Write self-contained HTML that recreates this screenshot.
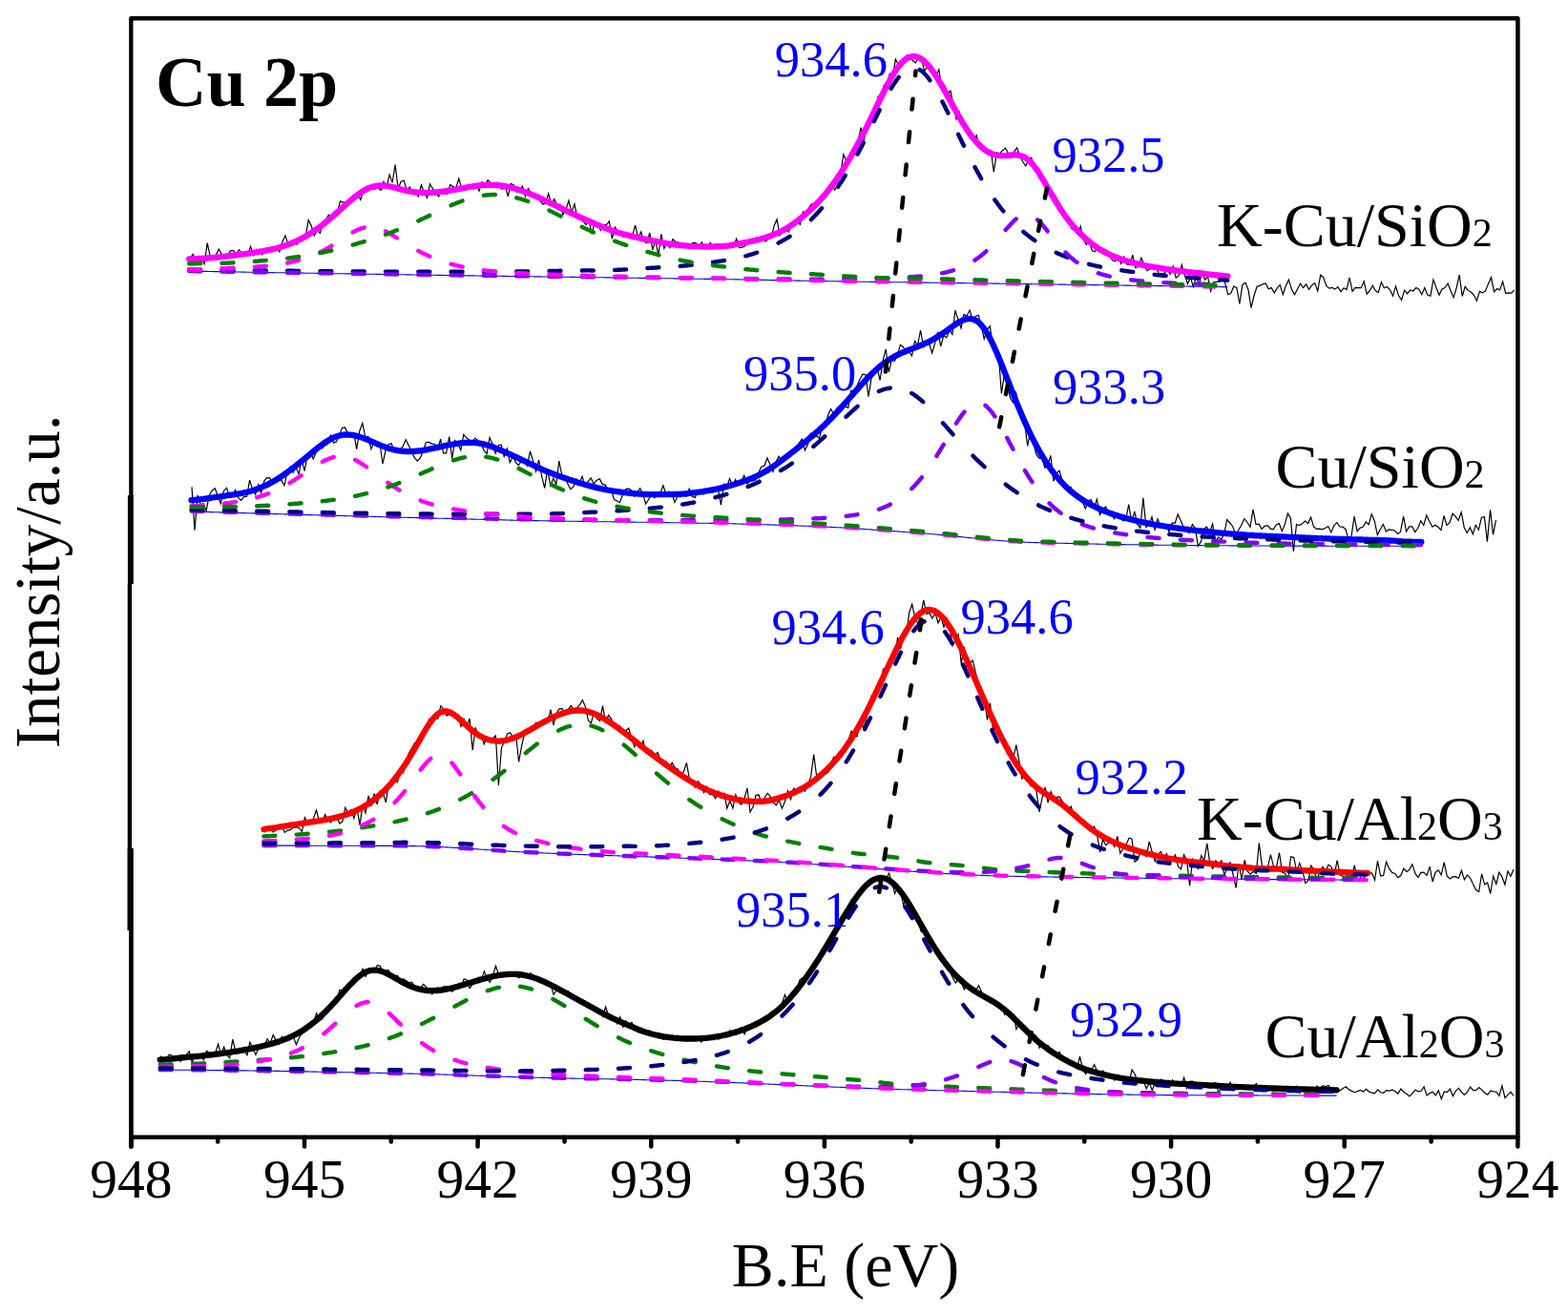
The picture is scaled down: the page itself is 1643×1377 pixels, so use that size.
<!DOCTYPE html>
<html><head><meta charset="utf-8"><style>html,body{margin:0;padding:0;background:#fff;overflow:hidden}svg{display:block}</style></head><body>
<svg width="1643" height="1377" viewBox="0 0 1643 1377">
<rect width="100%" height="100%" fill="#fff"/>
<g fill="none" stroke="#000" stroke-width="4.5" stroke-linecap="round" stroke-linejoin="round">
<path d="M137.4,19.3 L1590.4,19.3 L1590.4,1191.7 L137.4,1191.7"/>
<line x1="137.4" y1="1191.7" x2="137.4" y2="1201.5"/>
<line x1="319" y1="1191.7" x2="319" y2="1201.5"/>
<line x1="500.6" y1="1191.7" x2="500.6" y2="1201.5"/>
<line x1="682.3" y1="1191.7" x2="682.3" y2="1201.5"/>
<line x1="863.9" y1="1191.7" x2="863.9" y2="1201.5"/>
<line x1="1045.5" y1="1191.7" x2="1045.5" y2="1201.5"/>
<line x1="1227.1" y1="1191.7" x2="1227.1" y2="1201.5"/>
<line x1="1408.7" y1="1191.7" x2="1408.7" y2="1201.5"/>
<line x1="1590.4" y1="1191.7" x2="1590.4" y2="1201.5"/>
<line x1="228.2" y1="1191.7" x2="228.2" y2="1196.5"/>
<line x1="409.8" y1="1191.7" x2="409.8" y2="1196.5"/>
<line x1="591.5" y1="1191.7" x2="591.5" y2="1196.5"/>
<line x1="773.1" y1="1191.7" x2="773.1" y2="1196.5"/>
<line x1="954.7" y1="1191.7" x2="954.7" y2="1196.5"/>
<line x1="1136.3" y1="1191.7" x2="1136.3" y2="1196.5"/>
<line x1="1317.9" y1="1191.7" x2="1317.9" y2="1196.5"/>
<line x1="1499.6" y1="1191.7" x2="1499.6" y2="1196.5"/>
</g>
<rect x="135.20" y="19.3" width="4.3" height="499.7" fill="#000"/>
<rect x="133.90" y="519" width="5.9" height="93.0" fill="#000"/>
<rect x="133.70" y="612" width="4.4" height="277.0" fill="#000"/>
<rect x="133.50" y="889" width="6.3" height="86.0" fill="#000"/>
<rect x="135.10" y="975" width="4.7" height="226.5" fill="#000"/>
<circle cx="137.45" cy="1201.5" r="2.35" fill="#000"/>
<polyline points="199,271.5 202,266.5 205.1,271.3 208.1,268.6 211.1,271.5 214.2,276.6 217.2,254.7 220.2,268.3 223.2,270.7 226.3,267.2 229.3,261 232.3,266.6 235.4,268.7 238.4,268 241.4,262.7 244.5,262.5 247.5,265.8 250.5,261.7 253.5,265.8 256.6,268 259.6,266.8 262.6,258.4 265.7,267.5 268.7,261.4 271.7,261.6 274.8,266.8 277.8,262 280.8,260.9 283.8,260 286.9,259.4 289.9,259.9 292.9,264 296,253.2 299,246.9 302,256.6 305.1,252.5 308.1,252.9 311.1,256.2 314.1,251.2 317.2,246.6 320.2,248.2 323.2,230.7 326.3,236.8 329.3,246.9 332.3,241.1 335.4,244.3 338.4,234.1 341.4,230.3 344.4,225.2 347.5,227.3 350.5,221.5 353.5,222.5 356.6,210.9 359.6,212.1 362.6,212.1 365.7,210.3 368.7,212.3 371.7,203.6 374.7,203 377.8,209.4 380.8,199.8 383.8,201.5 386.9,197 389.9,198.1 392.9,198.2 396,196.5 399,199.5 402,190.4 405,197 408.1,183.1 411.1,191.4 414.1,172.6 417.2,197.8 420.2,190.3 423.2,189.2 426.3,199.7 429.3,195.9 432.3,202.3 435.3,202.2 438.4,205.9 441.4,194 444.4,201.6 447.5,207.2 450.5,192.8 453.5,197.9 456.6,201.9 459.6,206 462.6,200.6 465.6,202.8 468.7,203.1 471.7,193.5 474.7,195.6 477.8,196.9 480.8,187.2 483.8,198 486.9,196.3 489.9,196.3 492.9,194.5 495.9,198.1 499,193.6 502,200 505,190.7 508.1,196.1 511.1,188.7 514.1,191.8 517.2,195 520.2,191.2 523.2,195.9 526.2,198.2 529.3,195.2 532.3,205.9 535.3,192.3 538.4,194 541.4,201.2 544.4,200.5 547.5,195 550.5,206 553.5,197.6 556.5,202.8 559.6,203.5 562.6,205.9 565.6,210.2 568.7,214 571.7,213.4 574.7,202.8 577.8,214.7 580.8,208.7 583.8,214.9 586.8,214.2 589.9,225.1 592.9,219.9 595.9,210.3 599,222.7 602,213.9 605,228.4 608.1,229.4 611.1,232.2 614.1,235.4 617.1,229.8 620.2,245.4 623.2,231.7 626.2,234.5 629.3,241.3 632.3,235.5 635.3,235.9 638.4,232 641.4,250.1 644.4,238.1 647.4,242.1 650.5,246.4 653.5,248.2 656.5,245.8 659.6,247.1 662.6,247.3 665.6,235.9 668.7,249.4 671.7,243 674.7,252.8 677.7,254.7 680.8,244 683.8,261.8 686.8,252.7 689.9,267.2 692.9,245.4 695.9,260.3 699,254.1 702,259.5 705,250.6 708,253.7 711.1,254.2 714.1,255.4 717.1,256.7 720.2,257.6 723.2,257.1 726.2,254.3 729.3,254.5 732.3,259.6 735.3,253.8 738.3,259.6 741.4,259.1 744.4,254.3 747.4,259.2 750.5,255.7 753.5,255.8 756.5,259.1 759.6,256.2 762.6,259.5 765.6,259.3 768.6,258.9 771.7,250.2 774.7,259.5 777.7,259.2 780.8,257.7 783.8,251.7 786.8,253.6 789.9,251.7 792.9,248.9 795.9,251.1 798.9,249.7 802,253.2 805,250.5 808,249.6 811.1,236.8 814.1,229.9 817.1,246.5 820.2,241.4 823.2,239.3 826.2,243.2 829.2,237 832.3,233.7 835.3,230.8 838.3,235.3 841.4,222 844.4,226.6 847.4,217.8 850.5,213.8 853.5,218.4 856.5,211.9 859.5,205.8 862.6,208.7 865.6,202.7 868.6,199.3 871.7,193.3 874.7,199.2 877.7,193.3 880.8,182 883.8,161.9 886.8,168.3 889.8,170.1 892.9,157 895.9,161.5 898.9,149 902,133.6 905,147.5 908,135 911.1,126.1 914.1,124.7 917.1,121 920.1,101.1 923.2,103.6 926.2,89.3 929.2,88 932.3,77.4 935.3,81.7 938.3,62.1 941.4,67.7 944.4,69.5 947.4,62.7 950.4,57.9 953.5,59.6 956.5,63.7 959.5,65.9 962.6,58.9 965.6,61.3 968.6,74.9 971.7,69.2 974.7,70.3 977.7,75.5 980.7,80.1 983.8,72.8 986.8,92.2 989.8,89.6 992.9,98.1 995.9,95.2 998.9,109 1002,124.8 1005,117.2 1008,130 1011,131.7 1014.1,136.5 1017.1,144.1 1020.1,147 1023.2,141.9 1026.2,153.9 1029.2,155.8 1032.3,156 1035.3,159.8 1038.3,157.5 1041.3,180.2 1044.4,159.8 1047.4,160.8 1050.4,157.9 1053.5,155.3 1056.5,160.7 1059.5,165.4 1062.6,159.1 1065.6,154.9 1068.6,163.5 1071.6,169.3 1074.7,174 1077.7,167.4 1080.7,165.3 1083.8,174.4 1086.8,179.6 1089.8,185.2 1092.9,189.2 1095.9,189 1098.9,202.7 1101.9,202.7 1105,203.9 1108,209.2 1111,214.3 1114.1,225.8 1117.1,226.8 1120.1,231.8 1123.2,240.1 1126.2,239.8 1129.2,245.3 1132.2,237.2 1135.3,250.9 1138.3,256.3 1141.3,252.6 1144.4,262.7 1147.4,263.8 1150.4,258.8 1153.5,260.2 1156.5,261.1 1159.5,262.3 1162.5,266.9 1165.6,272.7 1168.6,273.7 1171.6,267.7 1174.7,276.4 1177.7,269.1 1180.7,277 1183.8,277.5 1186.8,267.1 1189.8,280.7 1192.8,279.2 1195.9,270.2 1198.9,277.5 1201.9,283.7 1205,282 1208,280.1 1211,279.5 1214.1,286.4 1217.1,286.5 1220.1,286.3 1223.1,282.8 1226.2,287.4 1229.2,279.1 1232.2,291.1 1235.3,288.7 1238.3,277.5 1241.3,288.4 1244.4,297.3 1247.4,290.9 1250.4,300.4 1253.4,290 1256.5,298.1 1259.5,284.7 1262.5,293.2 1265.6,290.1 1268.6,305.2 1271.6,295.9 1274.7,295.4 1277.7,295.4 1280.7,287.3 1283.7,296.8 1286.8,308.7 1289.8,307.3 1292.8,300 1295.9,301.6 1298.9,318.5 1301.9,298.4 1305,296.1 1308,303.7 1311,322.7 1314,310 1317.1,300.2 1320.1,299.4 1323.1,297.8 1326.2,297 1329.2,302.7 1332.2,301.6 1335.3,307 1338.3,301.6 1341.3,298.6 1344.3,308.7 1347.4,299.2 1350.4,293.2 1353.4,303.1 1356.5,308.8 1359.5,303 1362.5,297.1 1365.6,301.5 1368.6,297.8 1371.6,303.3 1374.6,298.9 1377.7,296.6 1380.7,304.9 1383.7,288.1 1386.8,290.8 1389.8,299.7 1392.8,302.2 1395.9,301.3 1398.9,303.1 1401.9,300.7 1404.9,305.6 1408,301.8 1411,303.6 1414,290.8 1417.1,305.4 1420.1,301.4 1423.1,301.7 1426.2,301.7 1429.2,294.8 1432.2,308.2 1435.2,304.7 1438.3,299.3 1441.3,304.8 1444.3,306.3 1447.4,295.7 1450.4,301.8 1453.4,300.5 1456.5,303.8 1459.5,310.1 1462.5,300 1465.5,309.8 1468.6,314.3 1471.6,304.2 1474.6,307.7 1477.7,304 1480.7,305 1483.7,301.5 1486.8,303.1 1489.8,308.7 1492.8,301.6 1495.8,309.1 1498.9,310.2 1501.9,293.1 1504.9,301.3 1508,309.3 1511,303 1514,301.5 1517.1,297 1520.1,304.7 1523.1,311.8 1526.1,301.9 1529.2,288 1532.2,310.5 1535.2,300.3 1538.3,304.4 1541.3,306.1 1544.3,309.1 1547.4,315.2 1550.4,305.4 1553.4,306.9 1556.4,304.9 1559.5,297.6 1562.5,290.8 1565.5,305.7 1568.6,302.5 1571.6,303.9 1574.6,295.1 1577.7,307.5 1580.7,306.9 1583.7,307.2 1586.7,303.8" fill="none" stroke="#000" stroke-width="1.2" stroke-linejoin="miter"/>
<polyline points="198.2,284.1 200.2,284.2 202.2,284.2 204.2,284.2 206.2,284.3 208.2,284.3 210.2,284.3 212.2,284.4 214.2,284.4 216.2,284.4 218.2,284.5 220.2,284.5 222.2,284.5 224.2,284.6 226.2,284.6 228.2,284.6 230.2,284.7 232.2,284.7 234.2,284.7 236.2,284.8 238.2,284.8 240.2,284.8 242.2,284.9 244.2,284.9 246.2,284.9 248.2,285 250.2,285 252.2,285 254.2,285.1 256.2,285.1 258.2,285.2 260.2,285.2 262.2,285.2 264.2,285.3 266.2,285.3 268.2,285.3 270.2,285.4 272.2,285.4 274.2,285.4 276.2,285.5 278.2,285.5 280.2,285.5 282.2,285.6 284.2,285.6 286.2,285.6 288.2,285.7 290.2,285.7 292.2,285.7 294.2,285.7 296.2,285.8 298.2,285.8 300.2,285.8 302.2,285.9 304.2,285.9 306.2,285.9 308.2,286 310.2,286 312.2,286 314.2,286.1 316.2,286.1 318.2,286.1 320.2,286.2 322.2,286.2 324.2,286.2 326.2,286.3 328.2,286.3 330.2,286.3 332.2,286.4 334.2,286.4 336.2,286.4 338.2,286.5 340.2,286.5 342.2,286.5 344.2,286.6 346.2,286.6 348.2,286.6 350.2,286.7 352.2,286.7 354.2,286.7 356.2,286.8 358.2,286.8 360.2,286.8 362.2,286.9 364.2,286.9 366.2,286.9 368.2,287 370.2,287 372.2,287 374.2,287.1 376.2,287.1 378.2,287.1 380.2,287.1 382.2,287.2 384.2,287.2 386.2,287.2 388.2,287.3 390.2,287.3 392.2,287.3 394.2,287.4 396.2,287.4 398.2,287.4 400.2,287.5 402.2,287.5 404.2,287.5 406.2,287.6 408.2,287.6 410.2,287.6 412.2,287.7 414.2,287.7 416.2,287.7 418.2,287.7 420.2,287.8 422.2,287.8 424.2,287.8 426.2,287.9 428.2,287.9 430.2,287.9 432.2,288 434.2,288 436.2,288 438.2,288.1 440.2,288.1 442.2,288.1 444.2,288.2 446.2,288.2 448.2,288.2 450.2,288.2 452.2,288.3 454.2,288.3 456.2,288.3 458.2,288.4 460.2,288.4 462.2,288.4 464.2,288.5 466.2,288.5 468.2,288.5 470.2,288.6 472.2,288.6 474.2,288.6 476.2,288.6 478.2,288.7 480.2,288.7 482.2,288.7 484.2,288.8 486.2,288.8 488.2,288.8 490.2,288.9 492.2,288.9 494.2,288.9 496.2,288.9 498.2,289 500.2,289 502.2,289 504.2,289.1 506.2,289.1 508.2,289.1 510.2,289.1 512.2,289.2 514.2,289.2 516.2,289.2 518.2,289.3 520.2,289.3 522.2,289.3 524.2,289.3 526.2,289.4 528.2,289.4 530.2,289.4 532.2,289.5 534.2,289.5 536.2,289.5 538.2,289.5 540.2,289.6 542.2,289.6 544.2,289.6 546.2,289.7 548.2,289.7 550.2,289.7 552.2,289.7 554.2,289.8 556.2,289.8 558.2,289.8 560.2,289.9 562.2,289.9 564.2,289.9 566.2,289.9 568.2,290 570.2,290 572.2,290 574.2,290 576.2,290.1 578.2,290.1 580.2,290.1 582.2,290.2 584.2,290.2 586.2,290.2 588.2,290.2 590.2,290.3 592.2,290.3 594.2,290.3 596.2,290.3 598.2,290.4 600.2,290.4 602.2,290.4 604.2,290.5 606.2,290.5 608.2,290.5 610.2,290.5 612.2,290.6 614.2,290.6 616.2,290.6 618.2,290.6 620.2,290.7 622.2,290.7 624.2,290.7 626.2,290.8 628.2,290.8 630.2,290.8 632.2,290.8 634.2,290.9 636.2,290.9 638.2,290.9 640.2,290.9 642.2,291 644.2,291 646.2,291 648.2,291.1 650.2,291.1 652.2,291.1 654.2,291.1 656.2,291.2 658.2,291.2 660.2,291.2 662.2,291.2 664.2,291.3 666.2,291.3 668.2,291.3 670.2,291.4 672.2,291.4 674.2,291.4 676.2,291.4 678.2,291.5 680.2,291.5 682.2,291.5 684.2,291.6 686.2,291.6 688.2,291.6 690.2,291.6 692.2,291.7 694.2,291.7 696.2,291.7 698.2,291.8 700.2,291.8 702.2,291.8 704.2,291.8 706.2,291.9 708.2,291.9 710.2,291.9 712.2,292 714.2,292 716.2,292 718.2,292.1 720.2,292.1 722.2,292.1 724.2,292.1 726.2,292.2 728.2,292.2 730.2,292.2 732.2,292.3 734.2,292.3 736.2,292.3 738.2,292.4 740.2,292.4 742.2,292.4 744.2,292.4 746.2,292.5 748.2,292.5 750.2,292.5 752.2,292.6 754.2,292.6 756.2,292.6 758.2,292.7 760.2,292.7 762.2,292.7 764.2,292.8 766.2,292.8 768.2,292.8 770.2,292.9 772.2,292.9 774.2,292.9 776.2,293 778.2,293 780.2,293 782.2,293.1 784.2,293.1 786.2,293.1 788.2,293.2 790.2,293.2 792.2,293.3 794.2,293.3 796.2,293.3 798.2,293.4 800.2,293.4 802.2,293.4 804.2,293.5 806.2,293.5 808.2,293.6 810.2,293.6 812.2,293.6 814.2,293.7 816.2,293.7 818.2,293.7 820.2,293.8 822.2,293.8 824.2,293.9 826.2,293.9 828.2,293.9 830.2,294 832.2,294 834.2,294.1 836.2,294.1 838.2,294.1 840.2,294.2 842.2,294.2 844.2,294.2 846.2,294.3 848.2,294.3 850.2,294.4 852.2,294.4 854.2,294.4 856.2,294.5 858.2,294.5 860.2,294.5 862.2,294.6 864.2,294.6 866.2,294.6 868.2,294.7 870.2,294.7 872.2,294.7 874.2,294.8 876.2,294.8 878.2,294.9 880.2,294.9 882.2,294.9 884.2,295 886.2,295 888.2,295 890.2,295 892.2,295.1 894.2,295.1 896.2,295.1 898.2,295.2 900.2,295.2 902.2,295.2 904.2,295.3 906.2,295.3 908.2,295.3 910.2,295.3 912.2,295.4 914.2,295.4 916.2,295.4 918.2,295.5 920.2,295.5 922.2,295.5 924.2,295.5 926.2,295.6 928.2,295.6 930.2,295.6 932.2,295.6 934.2,295.7 936.2,295.7 938.2,295.7 940.2,295.7 942.2,295.8 944.2,295.8 946.2,295.8 948.2,295.8 950.2,295.9 952.2,295.9 954.2,295.9 956.2,295.9 958.2,296 960.2,296 962.2,296 964.2,296 966.2,296.1 968.2,296.1 970.2,296.1 972.2,296.1 974.2,296.2 976.2,296.2 978.2,296.2 980.2,296.2 982.2,296.3 984.2,296.3 986.2,296.3 988.2,296.3 990.2,296.4 992.2,296.4 994.2,296.4 996.2,296.4 998.2,296.5 1000.2,296.5 1002.2,296.5 1004.2,296.6 1006.2,296.6 1008.2,296.6 1010.2,296.6 1012.2,296.7 1014.2,296.7 1016.2,296.7 1018.2,296.7 1020.2,296.8 1022.2,296.8 1024.2,296.8 1026.2,296.9 1028.2,296.9 1030.2,296.9 1032.2,296.9 1034.2,297 1036.2,297 1038.2,297 1040.2,297.1 1042.2,297.1 1044.2,297.1 1046.2,297.1 1048.2,297.2 1050.2,297.2 1052.2,297.2 1054.2,297.3 1056.2,297.3 1058.2,297.3 1060.2,297.3 1062.2,297.4 1064.2,297.4 1066.2,297.4 1068.2,297.5 1070.2,297.5 1072.2,297.5 1074.2,297.5 1076.2,297.6 1078.2,297.6 1080.2,297.6 1082.2,297.7 1084.2,297.7 1086.2,297.7 1088.2,297.7 1090.2,297.8 1092.2,297.8 1094.2,297.8 1096.2,297.9 1098.2,297.9 1100.2,297.9 1102.2,297.9 1104.2,298 1106.2,298 1108.2,298 1110.2,298.1 1112.2,298.1 1114.2,298.1 1116.2,298.1 1118.2,298.2 1120.2,298.2 1122.2,298.2 1124.2,298.3 1126.2,298.3 1128.2,298.3 1130.2,298.4 1132.2,298.4 1134.2,298.4 1136.2,298.4 1138.2,298.5 1140.2,298.5 1142.2,298.5 1144.2,298.6 1146.2,298.6 1148.2,298.6 1150.2,298.6 1152.2,298.7 1154.2,298.7 1156.2,298.7 1158.2,298.8 1160.2,298.8 1162.2,298.8 1164.2,298.9 1166.2,298.9 1168.2,298.9 1170.2,298.9 1172.2,299 1174.2,299 1176.2,299 1178.2,299.1 1180.2,299.1 1182.2,299.1 1184.2,299.1 1186.2,299.2 1188.2,299.2 1190.2,299.2 1192.2,299.3 1194.2,299.3 1196.2,299.3 1198.2,299.4 1200.2,299.4 1202.2,299.4 1204.2,299.4 1206.2,299.5 1208.2,299.5 1210.2,299.5 1212.2,299.6 1214.2,299.6 1216.2,299.6 1218.2,299.6 1220.2,299.7 1222.2,299.7 1224.2,299.7 1226.2,299.8 1228.2,299.8 1230.2,299.8 1232.2,299.9 1234.2,299.9 1236.2,299.9 1238.2,299.9 1240.2,300 1242.2,300 1244.2,300 1246.2,300.1 1248.2,300.1 1250.2,300.1 1252.2,300.1 1254.2,300.2 1256.2,300.2 1258.2,300.2 1260.2,300.3 1262.2,300.3 1264.2,300.3 1266.2,300.4 1268.2,300.4 1270.2,300.4 1272.2,300.4 1274.2,300.5 1276.2,300.5 1278.2,300.5 1280.2,300.6 1282.2,300.6 1284.2,300.6 1286.2,300.6 1286.3,300.6" fill="none" stroke="#0000FF" stroke-width="1.1"/>
<polyline points="198.2,271.5 200.2,271.4 202.2,271.3 204.2,271.2 206.2,271.1 208.2,271 210.2,270.9 212.2,270.8 214.2,270.6 216.2,270.5 218.2,270.4 220.2,270.2 222.2,270.1 224.2,269.9 226.2,269.7 228.2,269.5 230.2,269.3 232.2,269.1 234.2,268.9 236.2,268.7 238.2,268.5 240.2,268.2 242.2,268 244.2,267.7 246.2,267.5 248.2,267.2 250.2,267 252.2,266.7 254.2,266.4 256.2,266.2 258.2,265.9 260.2,265.6 262.2,265.3 264.2,265 266.2,264.7 268.2,264.4 270.2,264 272.2,263.7 274.2,263.4 276.2,263 278.2,262.6 280.2,262.2 282.2,261.8 284.2,261.4 286.2,260.9 288.2,260.5 290.2,260 292.2,259.4 294.2,258.8 296.2,258.2 298.2,257.6 300.2,256.9 302.2,256.2 304.2,255.4 306.2,254.6 308.2,253.7 310.2,252.9 312.2,251.9 314.2,250.9 316.2,249.9 318.2,248.8 320.2,247.7 322.2,246.5 324.2,245.3 326.2,244 328.2,242.7 330.2,241.3 332.2,239.9 334.2,238.4 336.2,236.9 338.2,235.4 340.2,233.8 342.2,232.2 344.2,230.5 346.2,228.8 348.2,227.1 350.2,225.4 352.2,223.6 354.2,221.8 356.2,220 358.2,218.2 360.2,216.4 362.2,214.6 364.2,212.8 366.2,211.1 368.2,209.4 370.2,207.7 372.2,206 374.2,204.5 376.2,203 378.2,201.6 380.2,200.4 382.2,199.2 384.2,198.1 386.2,197.2 388.2,196.4 390.2,195.8 392.2,195.3 394.2,194.9 396.2,194.6 398.2,194.5 400.2,194.5 402.2,194.6 404.2,194.7 406.2,195 408.2,195.3 410.2,195.8 412.2,196.2 414.2,196.8 416.2,197.3 418.2,197.9 420.2,198.4 422.2,199 424.2,199.5 426.2,199.9 428.2,200.3 430.2,200.7 432.2,201 434.2,201.3 436.2,201.5 438.2,201.7 440.2,201.8 442.2,201.9 444.2,202 446.2,202 448.2,202 450.2,201.9 452.2,201.8 454.2,201.7 456.2,201.5 458.2,201.3 460.2,201.1 462.2,200.9 464.2,200.7 466.2,200.4 468.2,200.1 470.2,199.8 472.2,199.5 474.2,199.2 476.2,198.8 478.2,198.5 480.2,198.1 482.2,197.7 484.2,197.3 486.2,197 488.2,196.6 490.2,196.2 492.2,195.9 494.2,195.5 496.2,195.2 498.2,194.9 500.2,194.6 502.2,194.4 504.2,194.2 506.2,194 508.2,193.9 510.2,193.8 512.2,193.8 514.2,193.8 516.2,193.8 518.2,193.9 520.2,194.1 522.2,194.2 524.2,194.5 526.2,194.7 528.2,195 530.2,195.4 532.2,195.8 534.2,196.2 536.2,196.7 538.2,197.3 540.2,197.8 542.2,198.4 544.2,199.1 546.2,199.7 548.2,200.4 550.2,201.1 552.2,201.9 554.2,202.7 556.2,203.5 558.2,204.3 560.2,205.2 562.2,206 564.2,206.9 566.2,207.8 568.2,208.7 570.2,209.7 572.2,210.6 574.2,211.6 576.2,212.5 578.2,213.5 580.2,214.5 582.2,215.5 584.2,216.4 586.2,217.4 588.2,218.4 590.2,219.3 592.2,220.3 594.2,221.3 596.2,222.2 598.2,223.2 600.2,224.1 602.2,225 604.2,226 606.2,226.9 608.2,227.8 610.2,228.7 612.2,229.6 614.2,230.5 616.2,231.4 618.2,232.2 620.2,233.1 622.2,234 624.2,234.9 626.2,235.7 628.2,236.5 630.2,237.4 632.2,238.2 634.2,239 636.2,239.7 638.2,240.5 640.2,241.2 642.2,241.9 644.2,242.5 646.2,243.2 648.2,243.8 650.2,244.4 652.2,245 654.2,245.5 656.2,246.1 658.2,246.6 660.2,247.1 662.2,247.6 664.2,248.1 666.2,248.5 668.2,249 670.2,249.4 672.2,249.9 674.2,250.3 676.2,250.7 678.2,251.1 680.2,251.6 682.2,252 684.2,252.4 686.2,252.7 688.2,253.1 690.2,253.5 692.2,253.9 694.2,254.3 696.2,254.6 698.2,255 700.2,255.3 702.2,255.6 704.2,256 706.2,256.2 708.2,256.5 710.2,256.7 712.2,257 714.2,257.2 716.2,257.4 718.2,257.5 720.2,257.7 722.2,257.9 724.2,258 726.2,258.1 728.2,258.2 730.2,258.3 732.2,258.4 734.2,258.4 736.2,258.5 738.2,258.5 740.2,258.5 742.2,258.5 744.2,258.5 746.2,258.5 748.2,258.4 750.2,258.4 752.2,258.3 754.2,258.2 756.2,258.1 758.2,257.9 760.2,257.8 762.2,257.6 764.2,257.3 766.2,256.9 768.2,256.5 770.2,256.1 772.2,255.8 774.2,255.4 776.2,255 778.2,254.6 780.2,254.2 782.2,253.9 784.2,253.5 786.2,253 788.2,252.6 790.2,252.2 792.2,251.7 794.2,251.2 796.2,250.7 798.2,250.1 800.2,249.5 802.2,248.9 804.2,248.2 806.2,247.5 808.2,246.8 810.2,246 812.2,245.2 814.2,244.3 816.2,243.4 818.2,242.5 820.2,241.4 822.2,240.4 824.2,239.2 826.2,238 828.2,236.7 830.2,235.3 832.2,233.9 834.2,232.4 836.2,230.9 838.2,229.3 840.2,227.7 842.2,226 844.2,224.3 846.2,222.5 848.2,220.8 850.2,218.9 852.2,217 854.2,215 856.2,213 858.2,210.9 860.2,208.7 862.2,206.4 864.2,204.1 866.2,201.6 868.2,199.1 870.2,196.5 872.2,193.9 874.2,191.1 876.2,188.3 878.2,185.4 880.2,182.4 882.2,179.3 884.2,176.1 886.2,172.9 888.2,169.6 890.2,166.3 892.2,162.8 894.2,159.3 896.2,155.8 898.2,152.1 900.2,148.4 902.2,144.6 904.2,140.8 906.2,136.9 908.2,132.9 910.2,128.9 912.2,124.8 914.2,120.7 916.2,116.6 918.2,112.4 920.2,108.2 922.2,104.1 924.2,100 926.2,95.9 928.2,92 930.2,88.1 932.2,84.4 934.2,80.8 936.2,77.5 938.2,74.3 940.2,71.4 942.2,68.8 944.2,66.4 946.2,64.4 948.2,62.6 950.2,61.2 952.2,60.2 954.2,59.5 956.2,59.1 958.2,59.1 960.2,59.4 962.2,60.1 964.2,61 966.2,62.3 968.2,64 970.2,65.8 972.2,68 974.2,70.4 976.2,73 978.2,75.8 980.2,78.8 982.2,82 984.2,85.3 986.2,88.7 988.2,92.2 990.2,95.8 992.2,99.4 994.2,103 996.2,106.7 998.2,110.3 1000.2,113.9 1002.2,117.5 1004.2,121 1006.2,124.4 1008.2,127.8 1010.2,131 1012.2,134.2 1014.2,137.2 1016.2,140.1 1018.2,142.8 1020.2,145.4 1022.2,147.8 1024.2,150.1 1026.2,152.1 1028.2,154 1030.2,155.7 1032.2,157.3 1034.2,158.6 1036.2,159.8 1038.2,160.7 1040.2,161.5 1042.2,162.2 1044.2,162.6 1046.2,162.9 1048.2,163.1 1050.2,163.1 1052.2,163.1 1054.2,163 1056.2,162.8 1058.2,162.6 1060.2,162.4 1062.2,162.3 1064.2,162.3 1066.2,162.5 1068.2,162.8 1070.2,163.3 1072.2,164.1 1074.2,165.1 1076.2,166.5 1078.2,168.1 1080.2,170.1 1082.2,172.3 1084.2,174.9 1086.2,177.6 1088.2,180.6 1090.2,183.8 1092.2,187.1 1094.2,190.5 1096.2,193.9 1098.2,197.4 1100.2,200.9 1102.2,204.3 1104.2,207.8 1106.2,211.1 1108.2,214.4 1110.2,217.5 1112.2,220.6 1114.2,223.5 1116.2,226.3 1118.2,229 1120.2,231.6 1122.2,234.1 1124.2,236.5 1126.2,238.7 1128.2,240.9 1130.2,243 1132.2,245 1134.2,246.9 1136.2,248.8 1138.2,250.6 1140.2,252.3 1142.2,253.9 1144.2,255.5 1146.2,257 1148.2,258.4 1150.2,259.8 1152.2,261.1 1154.2,262.3 1156.2,263.5 1158.2,264.5 1160.2,265.6 1162.2,266.5 1164.2,267.5 1166.2,268.3 1168.2,269.2 1170.2,270 1172.2,270.7 1174.2,271.4 1176.2,272.1 1178.2,272.8 1180.2,273.4 1182.2,274 1184.2,274.5 1186.2,275.1 1188.2,275.6 1190.2,276.1 1192.2,276.6 1194.2,277 1196.2,277.4 1198.2,277.9 1200.2,278.3 1202.2,278.6 1204.2,279 1206.2,279.4 1208.2,279.7 1210.2,280.1 1212.2,280.4 1214.2,280.7 1216.2,281.1 1218.2,281.4 1220.2,281.7 1222.2,282 1224.2,282.3 1226.2,282.6 1228.2,282.9 1230.2,283.1 1232.2,283.4 1234.2,283.7 1236.2,283.9 1238.2,284.2 1240.2,284.4 1242.2,284.6 1244.2,284.9 1246.2,285.1 1248.2,285.3 1250.2,285.6 1252.2,285.8 1254.2,286 1256.2,286.2 1258.2,286.5 1260.2,286.7 1262.2,286.9 1264.2,287.2 1266.2,287.4 1268.2,287.6 1270.2,287.9 1272.2,288.1 1274.2,288.3 1276.2,288.5 1278.2,288.7 1280.2,288.9 1282.2,289.1 1284.2,289.3 1286.2,289.5 1286.3,289.5" fill="none" stroke="#FF00FF" stroke-width="6.3" stroke-linecap="round" stroke-linejoin="round"/>
<path d="M198.2,282.6L199.2,282.6L200.2,282.6L201.2,282.6L202.2,282.6L203.2,282.6L204.2,282.6L205.2,282.7L206.2,282.7L207.2,282.7L208.2,282.7L209.2,282.7L210.2,282.7M232.5,283L233.2,283L234.2,283L235.2,283L236.2,283.1L237.2,283.1L238.2,283.1L239.2,283.1L240.2,283.1L241.2,283.1L242.2,283.1L243.2,283.1L244.2,283.1L244.5,283.2M266.8,283.4L267.2,283.4L268.2,283.4L269.2,283.4L270.2,283.4L271.2,283.5L272.2,283.5L273.2,283.5L274.2,283.5L275.2,283.5L276.2,283.5L277.2,283.5L278.2,283.5L278.8,283.5M301.1,283.8L301.2,283.8L302.2,283.8L303.2,283.8L304.2,283.8L305.2,283.8L306.2,283.8L307.2,283.8L308.2,283.9L309.2,283.9L310.2,283.9L311.2,283.9L312.2,283.9L313.1,283.9M335.4,284.1L336.2,284.1L337.2,284.1L338.2,284.1L339.2,284.1L340.2,284.2L341.2,284.2L342.2,284.2L343.2,284.2L344.2,284.2L345.2,284.2L346.2,284.2L347.2,284.2L347.4,284.2M369.7,284.4L370.2,284.4L371.2,284.4L372.2,284.4L373.2,284.4L374.2,284.4L375.2,284.4L376.2,284.4L377.2,284.4L378.2,284.4L379.2,284.5L380.2,284.5L381.2,284.5L381.7,284.5M404,284.6L404.2,284.6L405.2,284.6L406.2,284.6L407.2,284.6L408.2,284.6L409.2,284.6L410.2,284.6L411.2,284.6L412.2,284.6L413.2,284.7L414.2,284.7L415.2,284.7L416,284.7M438.3,284.7L439.2,284.8L440.2,284.8L441.2,284.8L442.2,284.8L443.2,284.8L444.2,284.8L445.2,284.8L446.2,284.8L447.2,284.8L448.2,284.8L449.2,284.8L450.2,284.8L450.3,284.8M472.6,284.8L473.2,284.8L474.2,284.8L475.2,284.8L476.2,284.8L477.2,284.8L478.2,284.8L479.2,284.8L480.2,284.8L481.2,284.8L482.2,284.8L483.2,284.8L484.2,284.8L484.6,284.8M506.9,284.7L507.2,284.7L508.2,284.7L509.2,284.7L510.2,284.7L511.2,284.7L512.2,284.7L513.2,284.7L514.2,284.7L515.2,284.7L516.2,284.7L517.2,284.7L518.2,284.7L518.9,284.7M541.2,284.5L541.2,284.5L542.2,284.5L543.2,284.5L544.2,284.5L545.2,284.4L546.2,284.4L547.2,284.4L548.2,284.4L549.2,284.4L550.2,284.4L551.2,284.4L552.2,284.4L553.2,284.4M575.5,284L576.2,284L577.2,284L578.2,284L579.2,284L580.2,284L581.2,283.9L582.2,283.9L583.2,283.9L584.2,283.9L585.2,283.9L586.2,283.8L587.2,283.8L587.5,283.8M609.8,283.5L610.2,283.5L611.2,283.4L612.2,283.4L613.2,283.4L614.2,283.4L615.2,283.4L616.2,283.4L617.2,283.4L618.2,283.4L619.2,283.5L620.2,283.5L621.2,283.5L621.8,283.5M644.1,283L644.2,283L645.2,282.9L646.2,282.9L647.2,282.8L648.2,282.8L649.2,282.7L650.2,282.7L651.2,282.6L652.2,282.6L653.2,282.5L654.2,282.5L655.2,282.4L656.1,282.4M678.4,281.1L679.2,281L680.2,280.9L681.2,280.9L682.2,280.8L683.2,280.8L684.2,280.7L685.2,280.6L686.2,280.6L687.2,280.5L688.2,280.5L689.2,280.4L690.2,280.3L690.4,280.3M712.7,278.9L713.2,278.8L714.2,278.7L715.2,278.6L716.2,278.6L717.2,278.5L718.2,278.4L719.2,278.3L720.2,278.2L721.2,278.1L722.2,278L723.2,277.9L724.2,277.8L724.7,277.7M747,274.8L747.2,274.8L748.2,274.7L749.2,274.5L750.2,274.4L751.2,274.2L752.2,274.1L753.2,273.9L754.2,273.7L755.2,273.6L756.2,273.4L757.2,273.3L758.2,273.1L759,273M781.3,268.3L782.2,268.1L783.2,267.8L784.2,267.5L785.2,267.2L786.2,266.9L787.2,266.6L788.2,266.3L789.2,266L790.2,265.7L791.2,265.3L792.2,265L793.2,264.6L793.3,264.6M815.6,254.6L816.2,254.3L817.2,253.8L818.2,253.2L819.2,252.7L820.2,252.1L821.2,251.6L822.2,251L823.2,250.4L824.2,249.8L825.2,249.2L826.2,248.6L827.2,247.9L827.6,247.7M849.9,230.1L850.2,229.8L851.2,228.8L852.2,227.8L853.2,226.8L854.2,225.8L855.2,224.7L856.2,223.6L857.2,222.6L858.2,221.5L859.2,220.3L860.2,219.2L861.1,218.1M878.1,195.8L878.2,195.6L879.2,194.1L880.2,192.6L881.2,191.1L882.2,189.6L883.2,188L884.2,186.4L885.2,184.8L885.8,183.8M898.6,161.5L899.2,160.4L900.2,158.5L901.2,156.6L902.2,154.7L903.2,152.7L904.2,150.8L904.8,149.5M915.8,127.2L916.2,126.5L917.2,124.4L918.2,122.4L919.2,120.3L920.2,118.3L921.2,116.3L921.7,115.2M933.6,92.9L934.2,91.9L935.2,90.3L936.2,88.7L937.2,87.2L938.2,85.7L939.2,84.3L940.2,82.9L941.2,81.6L941.8,80.9M963.7,73.1L964.2,73.4L965.2,74.1L966.2,74.9L967.2,75.7L968.2,76.7L969.2,77.7L970.2,78.8L971.2,79.9L972.2,81.2L973.2,82.5L974.2,83.8L974.4,84.2M987.4,106.5L988.2,108.1L989.2,110L990.2,112L991.2,114.1L992.2,116.1L993.2,118.1L993.4,118.5M1004.1,140.8L1004.2,141L1005.2,143L1006.2,145.1L1007.2,147.1L1008.2,149.2L1009.2,151.2L1010,152.8M1021.5,175.1L1022.2,176.4L1023.2,178.2L1024.2,180.1L1025.2,181.8L1026.2,183.6L1027.2,185.4L1028.2,187.1M1042.3,209.4L1043.2,210.6L1044.2,212L1045.2,213.3L1046.2,214.7L1047.2,216L1048.2,217.3L1049.2,218.6L1050.2,219.9L1051.2,221.1L1051.4,221.4M1072.4,242.9L1073.2,243.7L1074.2,244.5L1075.2,245.3L1076.2,246.1L1077.2,246.9L1078.2,247.6L1079.2,248.4L1080.2,249.1L1081.2,249.9L1082.2,250.6L1083.2,251.3L1084.2,252L1084.4,252.1M1106.7,264.8L1107.2,265L1108.2,265.5L1109.2,265.9L1110.2,266.3L1111.2,266.8L1112.2,267.2L1113.2,267.6L1114.2,268L1115.2,268.4L1116.2,268.8L1117.2,269.2L1118.2,269.6L1118.7,269.8M1141,276.9L1141.2,277L1142.2,277.2L1143.2,277.4L1144.2,277.7L1145.2,277.9L1146.2,278.2L1147.2,278.4L1148.2,278.6L1149.2,278.8L1150.2,279L1151.2,279.2L1152.2,279.4L1153,279.6M1175.3,283.3L1176.2,283.4L1177.2,283.6L1178.2,283.7L1179.2,283.9L1180.2,284L1181.2,284.2L1182.2,284.3L1183.2,284.5L1184.2,284.6L1185.2,284.7L1186.2,284.9L1187.2,285L1187.3,285M1209.6,287.8L1210.2,287.9L1211.2,288L1212.2,288.1L1213.2,288.2L1214.2,288.3L1215.2,288.4L1216.2,288.5L1217.2,288.6L1218.2,288.7L1219.2,288.8L1220.2,288.9L1221.2,288.9L1221.6,289M1243.9,290.6L1244.2,290.6L1245.2,290.7L1246.2,290.8L1247.2,290.9L1248.2,290.9L1249.2,291L1250.2,291.1L1251.2,291.2L1252.2,291.2L1253.2,291.3L1254.2,291.4L1255.2,291.5L1255.9,291.5M1278.2,293.2L1278.2,293.2L1279.2,293.2L1280.2,293.3L1281.2,293.4L1282.2,293.4L1283.2,293.5L1284.2,293.6L1285.2,293.6L1286.2,293.7L1286.3,293.7" fill="none" stroke="#000080" stroke-width="4.4" stroke-linecap="round" stroke-linejoin="round"/>
<path d="M198.2,284L199.2,284L200.2,284L201.2,284.1L202.2,284.1L203.2,284.1L204.2,284.1L205.2,284.1L206.2,284.1L207.2,284.2L208.2,284.2L209.2,284.2L210.2,284.2M232.5,284.6L233.2,284.6L234.2,284.6L235.2,284.6L236.2,284.6L237.2,284.7L238.2,284.7L239.2,284.7L240.2,284.7L241.2,284.7L242.2,284.7L243.2,284.8L244.2,284.8L244.5,284.8M266.8,285.2L267.2,285.2L268.2,285.2L269.2,285.2L270.2,285.2L271.2,285.2L272.2,285.2L273.2,285.3L274.2,285.3L275.2,285.3L276.2,285.3L277.2,285.3L278.2,285.3L278.8,285.3M301.1,285.7L301.2,285.7L302.2,285.7L303.2,285.7L304.2,285.8L305.2,285.8L306.2,285.8L307.2,285.8L308.2,285.8L309.2,285.8L310.2,285.9L311.2,285.9L312.2,285.9L313.1,285.9M335.4,286.3L336.2,286.3L337.2,286.3L338.2,286.3L339.2,286.3L340.2,286.3L341.2,286.3L342.2,286.4L343.2,286.4L344.2,286.4L345.2,286.4L346.2,286.4L347.2,286.4L347.4,286.4M369.7,286.8L370.2,286.8L371.2,286.8L372.2,286.8L373.2,286.8L374.2,286.9L375.2,286.9L376.2,286.9L377.2,286.9L378.2,286.9L379.2,286.9L380.2,287L381.2,287L381.7,287M404,287.3L404.2,287.3L405.2,287.3L406.2,287.4L407.2,287.4L408.2,287.4L409.2,287.4L410.2,287.4L411.2,287.4L412.2,287.4L413.2,287.5L414.2,287.5L415.2,287.5L416,287.5M438.3,287.8L439.2,287.8L440.2,287.9L441.2,287.9L442.2,287.9L443.2,287.9L444.2,287.9L445.2,287.9L446.2,287.9L447.2,288L448.2,288L449.2,288L450.2,288L450.3,288M472.6,288.3L473.2,288.3L474.2,288.4L475.2,288.4L476.2,288.4L477.2,288.4L478.2,288.4L479.2,288.4L480.2,288.4L481.2,288.5L482.2,288.5L483.2,288.5L484.2,288.5L484.6,288.5M506.9,288.8L507.2,288.8L508.2,288.8L509.2,288.8L510.2,288.9L511.2,288.9L512.2,288.9L513.2,288.9L514.2,288.9L515.2,288.9L516.2,288.9L517.2,289L518.2,289L518.9,289M541.2,289.3L541.2,289.3L542.2,289.3L543.2,289.3L544.2,289.3L545.2,289.3L546.2,289.3L547.2,289.3L548.2,289.4L549.2,289.4L550.2,289.4L551.2,289.4L552.2,289.4L553.2,289.4M575.5,289.7L576.2,289.7L577.2,289.7L578.2,289.7L579.2,289.7L580.2,289.8L581.2,289.8L582.2,289.8L583.2,289.8L584.2,289.8L585.2,289.8L586.2,289.8L587.2,289.8L587.5,289.8M609.8,290.1L610.2,290.1L611.2,290.1L612.2,290.1L613.2,290.1L614.2,290.2L615.2,290.2L616.2,290.2L617.2,290.2L618.2,290.2L619.2,290.2L620.2,290.2L621.2,290.2L621.8,290.2M644.1,290.5L644.2,290.5L645.2,290.5L646.2,290.5L647.2,290.5L648.2,290.6L649.2,290.6L650.2,290.6L651.2,290.6L652.2,290.6L653.2,290.6L654.2,290.6L655.2,290.6L656.1,290.6M678.4,290.9L679.2,290.9L680.2,290.9L681.2,290.9L682.2,290.9L683.2,290.9L684.2,291L685.2,291L686.2,291L687.2,291L688.2,291L689.2,291L690.2,291L690.4,291M712.7,291.3L713.2,291.3L714.2,291.3L715.2,291.3L716.2,291.3L717.2,291.3L718.2,291.3L719.2,291.3L720.2,291.4L721.2,291.4L722.2,291.4L723.2,291.4L724.2,291.4L724.7,291.4M747,291.6L747.2,291.7L748.2,291.7L749.2,291.7L750.2,291.7L751.2,291.7L752.2,291.7L753.2,291.7L754.2,291.7L755.2,291.7L756.2,291.7L757.2,291.8L758.2,291.8L759,291.8M781.3,292L782.2,292L783.2,292L784.2,292L785.2,292.1L786.2,292.1L787.2,292.1L788.2,292.1L789.2,292.1L790.2,292.1L791.2,292.1L792.2,292.1L793.2,292.1L793.3,292.1M815.6,292.4L816.2,292.4L817.2,292.4L818.2,292.4L819.2,292.4L820.2,292.4L821.2,292.4L822.2,292.4L823.2,292.4L824.2,292.4L825.2,292.4L826.2,292.4L827.2,292.5L827.6,292.5M849.9,292.6L850.2,292.6L851.2,292.6L852.2,292.6L853.2,292.6L854.2,292.6L855.2,292.6L856.2,292.6L857.2,292.6L858.2,292.6L859.2,292.6L860.2,292.6L861.2,292.6L861.9,292.6M884.2,292.5L885.2,292.5L886.2,292.5L887.2,292.5L888.2,292.5L889.2,292.5L890.2,292.5L891.2,292.5L892.2,292.5L893.2,292.4L894.2,292.4L895.2,292.4L896.2,292.4M918.5,291.9L919.2,291.9L920.2,291.9L921.2,291.9L922.2,291.8L923.2,291.8L924.2,291.8L925.2,291.7L926.2,291.7L927.2,291.7L928.2,291.6L929.2,291.6L930.2,291.6L930.5,291.5M952.8,290.4L953.2,290.3L954.2,290.3L955.2,290.2L956.2,290.1L957.2,290.1L958.2,290L959.2,289.9L960.2,289.8L961.2,289.7L962.2,289.7L963.2,289.6L964.2,289.5L964.8,289.4M987.1,286.2L987.2,286.2L988.2,286L989.2,285.8L990.2,285.6L991.2,285.3L992.2,285.1L993.2,284.8L994.2,284.6L995.2,284.3L996.2,284L997.2,283.8L998.2,283.5L999.1,283.2M1021.4,272.7L1022.2,272.1L1023.2,271.4L1024.2,270.7L1025.2,270L1026.2,269.2L1027.2,268.5L1028.2,267.7L1029.2,266.9L1030.2,266L1031.2,265.2L1032.2,264.3L1033.2,263.4L1033.4,263.2M1053.7,241L1054.2,240.4L1055.2,239.2L1056.2,238.1L1057.2,237L1058.2,235.9L1059.2,234.8L1060.2,233.7L1061.2,232.7L1062.2,231.7L1063.2,230.8L1064.2,229.9L1064.8,229.3M1087.1,230.3L1087.2,230.4L1088.2,231.3L1089.2,232.3L1090.2,233.4L1091.2,234.5L1092.2,235.6L1093.2,236.8L1094.2,238L1095.2,239.2L1096.2,240.4L1097.2,241.7L1097.7,242.3M1116.5,264.6L1117.2,265.3L1118.2,266.3L1119.2,267.2L1120.2,268.2L1121.2,269.1L1122.2,270L1123.2,270.8L1124.2,271.6L1125.2,272.5L1126.2,273.2L1127.2,274L1128.2,274.7L1128.5,274.9M1150.8,286.2L1151.2,286.3L1152.2,286.7L1153.2,287L1154.2,287.3L1155.2,287.6L1156.2,287.9L1157.2,288.2L1158.2,288.5L1159.2,288.7L1160.2,289L1161.2,289.2L1162.2,289.5L1162.8,289.6M1185.1,293.3L1185.2,293.3L1186.2,293.4L1187.2,293.6L1188.2,293.7L1189.2,293.8L1190.2,293.9L1191.2,294L1192.2,294.1L1193.2,294.2L1194.2,294.3L1195.2,294.4L1196.2,294.4L1197.1,294.5M1219.4,296.1L1220.2,296.1L1221.2,296.2L1222.2,296.2L1223.2,296.3L1224.2,296.4L1225.2,296.4L1226.2,296.5L1227.2,296.5L1228.2,296.6L1229.2,296.7L1230.2,296.7L1231.2,296.8L1231.4,296.8M1253.7,297.6L1254.2,297.6L1255.2,297.6L1256.2,297.6L1257.2,297.7L1258.2,297.7L1259.2,297.7L1260.2,297.7L1261.2,297.8L1262.2,297.8L1263.2,297.8L1264.2,297.9L1265.2,297.9L1265.7,297.9" fill="none" stroke="#8000FF" stroke-width="4.4" stroke-linecap="round" stroke-linejoin="round"/>
<path d="M198.2,282.3L199.2,282.3L200.2,282.3L201.2,282.3L202.2,282.3L203.2,282.2L204.2,282.2L205.2,282.2L206.2,282.2L207.2,282.2L208.2,282.2L209.2,282.2L210.2,282.2M232.5,281.3L233.2,281.3L234.2,281.2L235.2,281.2L236.2,281.1L237.2,281.1L238.2,281.1L239.2,281L240.2,281L241.2,280.9L242.2,280.9L243.2,280.9L244.2,280.8L244.5,280.8M266.8,279.6L267.2,279.6L268.2,279.6L269.2,279.5L270.2,279.4L271.2,279.3L272.2,279.3L273.2,279.2L274.2,279.1L275.2,279L276.2,279L277.2,278.9L278.2,278.8L278.8,278.8M301.1,275.5L301.2,275.5L302.2,275.3L303.2,275L304.2,274.8L305.2,274.6L306.2,274.3L307.2,274.1L308.2,273.9L309.2,273.6L310.2,273.3L311.2,273.1L312.2,272.8L313.1,272.6M335.4,264.3L336.2,263.9L337.2,263.4L338.2,262.9L339.2,262.4L340.2,261.9L341.2,261.3L342.2,260.7L343.2,260.2L344.2,259.6L345.2,259L346.2,258.4L347.2,257.8L347.4,257.6M369.7,243.4L370.2,243.1L371.2,242.6L372.2,242L373.2,241.6L374.2,241.1L375.2,240.7L376.2,240.2L377.2,239.9L378.2,239.5L379.2,239.2L380.2,238.9L381.2,238.6L381.7,238.5M404,242.4L404.2,242.5L405.2,243L406.2,243.6L407.2,244.1L408.2,244.7L409.2,245.3L410.2,245.9L411.2,246.5L412.2,247.1L413.2,247.7L414.2,248.3L415.2,249L416,249.5M438.3,262.8L439.2,263.3L440.2,263.8L441.2,264.3L442.2,264.9L443.2,265.4L444.2,265.9L445.2,266.4L446.2,266.8L447.2,267.3L448.2,267.8L449.2,268.2L450.2,268.7L450.3,268.7M472.6,276.7L473.2,276.9L474.2,277.1L475.2,277.4L476.2,277.7L477.2,277.9L478.2,278.1L479.2,278.4L480.2,278.6L481.2,278.8L482.2,279L483.2,279.3L484.2,279.5L484.6,279.6M506.9,283.2L507.2,283.3L508.2,283.4L509.2,283.5L510.2,283.6L511.2,283.8L512.2,283.9L513.2,284L514.2,284.1L515.2,284.2L516.2,284.3L517.2,284.4L518.2,284.5L518.9,284.6M541.2,286.1L541.2,286.1L542.2,286.1L543.2,286.2L544.2,286.2L545.2,286.2L546.2,286.3L547.2,286.3L548.2,286.4L549.2,286.4L550.2,286.5L551.2,286.5L552.2,286.6L553.2,286.6M575.5,287.5L576.2,287.6L577.2,287.6L578.2,287.6L579.2,287.7L580.2,287.7L581.2,287.7L582.2,287.8L583.2,287.8L584.2,287.9L585.2,287.9L586.2,287.9L587.2,288L587.5,288M609.8,288.7L610.2,288.7L611.2,288.7L612.2,288.8L613.2,288.8L614.2,288.8L615.2,288.8L616.2,288.9L617.2,288.9L618.2,288.9L619.2,289L620.2,289L621.2,289L621.8,289M644.1,289.6L644.2,289.6L645.2,289.6L646.2,289.7L647.2,289.7L648.2,289.7L649.2,289.7L650.2,289.7L651.2,289.8L652.2,289.8L653.2,289.8L654.2,289.8L655.2,289.9L656.1,289.9M678.4,290.4L679.2,290.4L680.2,290.4L681.2,290.4L682.2,290.5L683.2,290.5L684.2,290.5L685.2,290.5L686.2,290.5L687.2,290.6L688.2,290.6L689.2,290.6L690.2,290.6L690.4,290.6M712.7,291.1L713.2,291.1L714.2,291.1L715.2,291.1L716.2,291.2L717.2,291.2L718.2,291.2L719.2,291.2L720.2,291.2L721.2,291.3L722.2,291.3L723.2,291.3L724.2,291.3L724.7,291.3M747,291.8L747.2,291.8L748.2,291.8L749.2,291.8L750.2,291.8L751.2,291.9L752.2,291.9L753.2,291.9L754.2,291.9L755.2,291.9L756.2,291.9L757.2,292L758.2,292L759,292M781.3,292.5L782.2,292.5L783.2,292.5L784.2,292.5L785.2,292.5L786.2,292.6L787.2,292.6L788.2,292.6L789.2,292.6L790.2,292.6L791.2,292.7L792.2,292.7L793.2,292.7L793.3,292.7M815.6,293.2L816.2,293.2L817.2,293.2L818.2,293.2L819.2,293.3L820.2,293.3L821.2,293.3L822.2,293.3L823.2,293.3L824.2,293.4L825.2,293.4L826.2,293.4L827.2,293.4L827.6,293.4M849.9,293.9L850.2,293.9L851.2,293.9L852.2,294L853.2,294L854.2,294L855.2,294L856.2,294L857.2,294.1L858.2,294.1L859.2,294.1L860.2,294.1L861.2,294.1L861.9,294.1M884.2,294.6L885.2,294.6L886.2,294.6L887.2,294.6L888.2,294.6L889.2,294.7L890.2,294.7L891.2,294.7L892.2,294.7L893.2,294.7L894.2,294.7L895.2,294.8L896.2,294.8M918.5,295.1L919.2,295.1L920.2,295.2L921.2,295.2L922.2,295.2L923.2,295.2L924.2,295.2L925.2,295.2L926.2,295.2L927.2,295.3L928.2,295.3L929.2,295.3L930.2,295.3L930.5,295.3M952.8,295.6L953.2,295.6L954.2,295.6L955.2,295.6L956.2,295.7L957.2,295.7L958.2,295.7L959.2,295.7L960.2,295.7L961.2,295.7L962.2,295.7L963.2,295.7L964.2,295.8L964.8,295.8M987.1,296.1L987.2,296.1L988.2,296.1L989.2,296.1L990.2,296.1L991.2,296.1L992.2,296.1L993.2,296.2L994.2,296.2L995.2,296.2L996.2,296.2L997.2,296.2L998.2,296.2L999.1,296.2M1021.4,296.6L1022.2,296.6L1023.2,296.6L1024.2,296.6L1025.2,296.6L1026.2,296.6L1027.2,296.6L1028.2,296.7L1029.2,296.7L1030.2,296.7L1031.2,296.7L1032.2,296.7L1033.2,296.7L1033.4,296.7M1055.7,297.1L1056.2,297.1L1057.2,297.1L1058.2,297.1L1059.2,297.1L1060.2,297.1L1061.2,297.1L1062.2,297.2L1063.2,297.2L1064.2,297.2L1065.2,297.2L1066.2,297.2L1067.2,297.2L1067.7,297.2M1090,297.6L1090.2,297.6L1091.2,297.6L1092.2,297.6L1093.2,297.6L1094.2,297.6L1095.2,297.7L1096.2,297.7L1097.2,297.7L1098.2,297.7L1099.2,297.7L1100.2,297.7L1101.2,297.7L1102,297.8M1124.3,298.1L1125.2,298.1L1126.2,298.1L1127.2,298.1L1128.2,298.1L1129.2,298.2L1130.2,298.2L1131.2,298.2L1132.2,298.2L1133.2,298.2L1134.2,298.2L1135.2,298.3L1136.2,298.3L1136.3,298.3M1158.6,298.6L1159.2,298.6L1160.2,298.6L1161.2,298.6L1162.2,298.7L1163.2,298.7L1164.2,298.7L1165.2,298.7L1166.2,298.7L1167.2,298.7L1168.2,298.8L1169.2,298.8L1170.2,298.8L1170.6,298.8M1192.9,299.1L1193.2,299.1L1194.2,299.1L1195.2,299.2L1196.2,299.2L1197.2,299.2L1198.2,299.2L1199.2,299.2L1200.2,299.2L1201.2,299.3L1202.2,299.3L1203.2,299.3L1204.2,299.3L1204.9,299.3M1227.2,299.6L1228.2,299.7L1229.2,299.7L1230.2,299.7L1231.2,299.7L1232.2,299.7L1233.2,299.7L1234.2,299.8L1235.2,299.8L1236.2,299.8L1237.2,299.8L1238.2,299.8L1239.2,299.8M1261.5,300.2L1262.2,300.2L1263.2,300.2L1264.2,300.2L1265.2,300.2L1266.2,300.2L1267.2,300.2L1268.2,300.3L1269.2,300.3L1270.2,300.3L1271.2,300.3L1272.2,300.3L1273.2,300.3L1273.5,300.3" fill="none" stroke="#FF00FF" stroke-width="4.4" stroke-linecap="round" stroke-linejoin="round"/>
<path d="M198.2,276.4L199.2,276.3L200.2,276.3L201.2,276.3L202.2,276.2L203.2,276.2L204.2,276.2L205.2,276.2L206.2,276.1L207.2,276.1L208.2,276.1L209.2,276.1L210.2,276M232.5,275.8L233.2,275.8L234.2,275.7L235.2,275.7L236.2,275.7L237.2,275.6L238.2,275.6L239.2,275.5L240.2,275.5L241.2,275.5L242.2,275.4L243.2,275.4L244.2,275.3L244.5,275.3M266.8,273.9L267.2,273.8L268.2,273.8L269.2,273.7L270.2,273.6L271.2,273.5L272.2,273.5L273.2,273.4L274.2,273.3L275.2,273.2L276.2,273.1L277.2,273L278.2,273L278.8,272.9M301.1,270.6L301.2,270.6L302.2,270.5L303.2,270.3L304.2,270.2L305.2,270.1L306.2,269.9L307.2,269.8L308.2,269.7L309.2,269.5L310.2,269.4L311.2,269.2L312.2,269.1L313.1,269M335.4,265.1L336.2,264.9L337.2,264.7L338.2,264.5L339.2,264.3L340.2,264.1L341.2,263.9L342.2,263.7L343.2,263.4L344.2,263.2L345.2,263L346.2,262.8L347.2,262.5L347.4,262.5M369.7,256.6L370.2,256.5L371.2,256.2L372.2,255.9L373.2,255.6L374.2,255.3L375.2,255L376.2,254.7L377.2,254.4L378.2,254.2L379.2,253.9L380.2,253.6L381.2,253.3L381.7,253.1M404,245.8L404.2,245.7L405.2,245.4L406.2,245L407.2,244.6L408.2,244.2L409.2,243.8L410.2,243.5L411.2,243.1L412.2,242.7L413.2,242.3L414.2,241.9L415.2,241.5L416,241.2M438.3,231.4L439.2,231L440.2,230.5L441.2,230L442.2,229.6L443.2,229.1L444.2,228.6L445.2,228.1L446.2,227.7L447.2,227.2L448.2,226.7L449.2,226.2L450.2,225.7L450.3,225.7M472.6,215.2L473.2,215L474.2,214.5L475.2,214.1L476.2,213.7L477.2,213.3L478.2,212.9L479.2,212.5L480.2,212.1L481.2,211.7L482.2,211.3L483.2,211L484.2,210.6L484.6,210.4M506.9,204.7L507.2,204.7L508.2,204.6L509.2,204.5L510.2,204.4L511.2,204.3L512.2,204.2L513.2,204.1L514.2,204.1L515.2,204L516.2,204L517.2,204L518.2,204L518.9,204M541.2,207.3L541.2,207.3L542.2,207.5L543.2,207.8L544.2,208.1L545.2,208.4L546.2,208.7L547.2,209L548.2,209.3L549.2,209.6L550.2,209.9L551.2,210.3L552.2,210.6L553.2,210.9M575.5,220.6L576.2,220.9L577.2,221.4L578.2,221.9L579.2,222.4L580.2,222.9L581.2,223.4L582.2,223.9L583.2,224.4L584.2,224.9L585.2,225.4L586.2,225.9L587.2,226.4L587.5,226.6M609.8,237.8L610.2,238L611.2,238.5L612.2,238.9L613.2,239.4L614.2,239.9L615.2,240.3L616.2,240.8L617.2,241.3L618.2,241.7L619.2,242.2L620.2,242.6L621.2,243.1L621.8,243.4M644.1,252.6L644.2,252.6L645.2,253L646.2,253.4L647.2,253.7L648.2,254.1L649.2,254.5L650.2,254.8L651.2,255.2L652.2,255.6L653.2,255.9L654.2,256.3L655.2,256.6L656.1,256.9M678.4,263.9L679.2,264.1L680.2,264.4L681.2,264.7L682.2,264.9L683.2,265.2L684.2,265.5L685.2,265.8L686.2,266L687.2,266.3L688.2,266.6L689.2,266.9L690.2,267.1L690.4,267.2M712.7,272.6L713.2,272.7L714.2,272.9L715.2,273.1L716.2,273.3L717.2,273.5L718.2,273.7L719.2,273.9L720.2,274L721.2,274.2L722.2,274.4L723.2,274.6L724.2,274.7L724.7,274.8M747,278L747.2,278.1L748.2,278.2L749.2,278.3L750.2,278.5L751.2,278.6L752.2,278.7L753.2,278.8L754.2,279L755.2,279.1L756.2,279.2L757.2,279.3L758.2,279.4L759,279.5M781.3,282.1L782.2,282.2L783.2,282.3L784.2,282.4L785.2,282.5L786.2,282.6L787.2,282.7L788.2,282.8L789.2,282.8L790.2,282.9L791.2,283L792.2,283.1L793.2,283.2L793.3,283.2M815.6,285L816.2,285.1L817.2,285.2L818.2,285.2L819.2,285.3L820.2,285.4L821.2,285.4L822.2,285.5L823.2,285.6L824.2,285.6L825.2,285.7L826.2,285.8L827.2,285.8L827.6,285.9M849.9,287.2L850.2,287.2L851.2,287.3L852.2,287.3L853.2,287.4L854.2,287.4L855.2,287.5L856.2,287.6L857.2,287.6L858.2,287.7L859.2,287.8L860.2,287.8L861.2,287.9L861.9,287.9M884.2,289.3L885.2,289.4L886.2,289.4L887.2,289.5L888.2,289.6L889.2,289.6L890.2,289.7L891.2,289.7L892.2,289.8L893.2,289.8L894.2,289.9L895.2,289.9L896.2,290M918.5,290.9L919.2,291L920.2,291L921.2,291.1L922.2,291.1L923.2,291.1L924.2,291.2L925.2,291.2L926.2,291.2L927.2,291.3L928.2,291.3L929.2,291.4L930.2,291.4L930.5,291.4M952.8,291.7L953.2,291.7L954.2,291.7L955.2,291.7L956.2,291.7L957.2,291.7L958.2,291.7L959.2,291.7L960.2,291.7L961.2,291.7L962.2,291.7L963.2,291.8L964.2,291.8L964.8,291.8M987.1,292.3L987.2,292.4L988.2,292.4L989.2,292.4L990.2,292.4L991.2,292.5L992.2,292.5L993.2,292.5L994.2,292.5L995.2,292.6L996.2,292.6L997.2,292.6L998.2,292.7L999.1,292.7M1021.4,293.3L1022.2,293.3L1023.2,293.4L1024.2,293.4L1025.2,293.4L1026.2,293.4L1027.2,293.5L1028.2,293.5L1029.2,293.5L1030.2,293.5L1031.2,293.6L1032.2,293.6L1033.2,293.6L1033.4,293.6M1055.7,294.2L1056.2,294.2L1057.2,294.2L1058.2,294.3L1059.2,294.3L1060.2,294.3L1061.2,294.3L1062.2,294.4L1063.2,294.4L1064.2,294.4L1065.2,294.4L1066.2,294.5L1067.2,294.5L1067.7,294.5M1090,295L1090.2,295L1091.2,295.1L1092.2,295.1L1093.2,295.1L1094.2,295.1L1095.2,295.2L1096.2,295.2L1097.2,295.2L1098.2,295.2L1099.2,295.3L1100.2,295.3L1101.2,295.3L1102,295.3M1124.3,295.8L1125.2,295.8L1126.2,295.9L1127.2,295.9L1128.2,295.9L1129.2,295.9L1130.2,296L1131.2,296L1132.2,296L1133.2,296L1134.2,296L1135.2,296.1L1136.2,296.1L1136.3,296.1M1158.6,296.6L1159.2,296.6L1160.2,296.6L1161.2,296.6L1162.2,296.7L1163.2,296.7L1164.2,296.7L1165.2,296.7L1166.2,296.7L1167.2,296.8L1168.2,296.8L1169.2,296.8L1170.2,296.8L1170.6,296.8M1192.9,297.3L1193.2,297.3L1194.2,297.3L1195.2,297.3L1196.2,297.4L1197.2,297.4L1198.2,297.4L1199.2,297.4L1200.2,297.4L1201.2,297.5L1202.2,297.5L1203.2,297.5L1204.2,297.5L1204.9,297.5M1227.2,298L1228.2,298L1229.2,298L1230.2,298L1231.2,298.1L1232.2,298.1L1233.2,298.1L1234.2,298.1L1235.2,298.1L1236.2,298.2L1237.2,298.2L1238.2,298.2L1239.2,298.2M1261.5,298.6L1262.2,298.7L1263.2,298.7L1264.2,298.7L1265.2,298.7L1266.2,298.7L1267.2,298.8L1268.2,298.8L1269.2,298.8L1270.2,298.8L1271.2,298.8L1272.2,298.8L1273.2,298.9L1273.5,298.9" fill="none" stroke="#008000" stroke-width="4.4" stroke-linecap="round" stroke-linejoin="round"/>
<polyline points="201,510.4 204,555.6 207.1,518.9 210.1,528.6 213.1,527.8 216.2,535.1 219.2,518.9 222.2,514.2 225.2,511.7 228.3,519.7 231.3,527.8 234.3,514.7 237.4,511.4 240.4,519.3 243.4,520.4 246.5,513.6 249.5,521.3 252.5,524.3 255.5,520.6 258.6,520.2 261.6,503.1 264.6,512.8 267.7,518.2 270.7,507.8 273.7,516.4 276.8,504.1 279.8,500.7 282.8,500.9 285.8,506.1 288.9,505.6 291.9,501.4 294.9,503.4 298,508.8 301,494.4 304,489.1 307.1,495.2 310.1,489.7 313.1,497 316.1,481.7 319.2,493.6 322.2,475.4 325.2,473.1 328.3,481 331.3,473.5 334.3,470.1 337.4,469.9 340.4,466.7 343.4,465.5 346.4,456.3 349.5,464.1 352.5,462.7 355.5,456.1 358.6,448.3 361.6,447.9 364.6,455.1 367.7,456.3 370.7,453.8 373.7,470.7 376.7,452 379.8,443.5 382.8,458.3 385.8,457.3 388.9,470.5 391.9,463.5 394.9,465 398,464.5 401,486 404,472.1 407,465.8 410.1,464.8 413.1,472.8 416.1,472.1 419.2,470.9 422.2,467.9 425.2,460.6 428.3,467 431.3,472.9 434.3,479.6 437.3,483.1 440.4,479.8 443.4,472.8 446.4,463.5 449.5,463.4 452.5,465.1 455.5,465.4 458.6,471.3 461.6,460.2 464.6,474.8 467.6,474.9 470.7,457.5 473.7,480.4 476.7,461.7 479.8,465.3 482.8,471.8 485.8,455.3 488.9,459.1 491.9,461.1 494.9,462.7 497.9,459.2 501,461.6 504,464.7 507,472 510.1,475.5 513.1,458.5 516.1,465.5 519.2,475.2 522.2,466.7 525.2,466.2 528.2,478.4 531.3,470.2 534.3,484.7 537.3,478.8 540.4,484.6 543.4,487.7 546.4,482.6 549.5,481.9 552.5,487.9 555.5,472.8 558.5,483.2 561.6,494 564.6,482 567.6,498.6 570.7,511.5 573.7,491.7 576.7,508.9 579.8,501.3 582.8,507.5 585.8,483.1 588.8,498 591.9,498.3 594.9,507 597.9,512.8 601,509.7 604,502.1 607,506.4 610.1,499.2 613.1,509.7 616.1,504.7 619.1,500.8 622.2,506.9 625.2,503.4 628.2,501.6 631.3,507.6 634.3,508.1 637.3,514.9 640.4,512.3 643.4,523.6 646.4,524.7 649.4,526.7 652.5,518.6 655.5,512.8 658.5,512 661.6,513.9 664.6,520.3 667.6,516.1 670.7,511.7 673.7,518.1 676.7,528.1 679.7,523.3 682.8,518.2 685.8,521.7 688.8,519.5 691.9,516.6 694.9,508.8 697.9,517.6 701,514.9 704,517.2 707,526.4 710,520.1 713.1,520.8 716.1,517.4 719.1,520.1 722.2,512.2 725.2,520.3 728.2,521.4 731.3,515.4 734.3,516.2 737.3,517.9 740.3,514.1 743.4,512 746.4,516 749.4,514.7 752.5,513.2 755.5,529.2 758.5,507.4 761.6,509.6 764.6,501.7 767.6,509 770.6,502.6 773.7,508.1 776.7,504.5 779.7,498.4 782.8,507 785.8,504.3 788.8,503.8 791.9,503.1 794.9,495.2 797.9,489 800.9,488.3 804,479.9 807,486.9 810,494.3 813.1,484.1 816.1,478.3 819.1,484 822.2,476.9 825.2,479.2 828.2,477.2 831.2,474.2 834.3,468.8 837.3,464.4 840.3,460.2 843.4,471.8 846.4,465.7 849.4,454.2 852.5,459.1 855.5,456.4 858.5,459.7 861.5,447.7 864.6,448.3 867.6,435 870.6,428.5 873.7,434.2 876.7,428.2 879.7,425.3 882.8,424.2 885.8,426.1 888.8,427.3 891.8,409.3 894.9,410.2 897.9,404.6 900.9,397.7 904,392.1 907,392.5 910,415.6 913.1,396.2 916.1,392.7 919.1,385.3 922.1,398.5 925.2,377.7 928.2,365.9 931.2,389.8 934.3,377.3 937.3,378.5 940.3,372.4 943.4,361.4 946.4,363.8 949.4,367.2 952.4,368.8 955.5,372.8 958.5,357.5 961.5,361.6 964.6,346 967.6,363.6 970.6,359.8 973.7,360.3 976.7,369.9 979.7,359.7 982.7,347.9 985.8,362.9 988.8,351.6 991.8,353.9 994.9,346.2 997.9,350.4 1000.9,325.2 1004,334.9 1007,343.9 1010,329.4 1013,331.2 1016.1,325 1019.1,334.9 1022.1,331.5 1025.2,330.2 1028.2,341.1 1031.2,355.2 1034.3,345.6 1037.3,341.8 1040.3,361.8 1043.3,372.2 1046.4,372.5 1049.4,412.4 1052.4,391.8 1055.5,401.8 1058.5,417 1061.5,421.9 1064.6,411.7 1067.6,425.1 1070.6,432.7 1073.6,442.4 1076.7,467.4 1079.7,451.7 1082.7,463.5 1085.8,475.9 1088.8,480.1 1091.8,480 1094.9,490.2 1097.9,487.6 1100.9,477.3 1103.9,504.3 1107,496.1 1110,493.1 1113,503.1 1116.1,508.1 1119.1,510.5 1122.1,510.3 1125.2,519.7 1128.2,516.9 1131.2,518.6 1134.2,525.6 1137.3,533 1140.3,524.6 1143.3,523.7 1146.4,531.7 1149.4,523.3 1152.4,539.4 1155.5,533.7 1158.5,531 1161.5,537.1 1164.5,538.7 1167.6,543.7 1170.6,537.7 1173.6,540.2 1176.7,545.8 1179.7,544.9 1182.7,528.5 1185.8,547.1 1188.8,535.9 1191.8,549.5 1194.8,553.2 1197.9,521.9 1200.9,552.5 1203.9,549.6 1207,541.8 1210,555.8 1213,543.8 1216.1,551.3 1219.1,549.6 1222.1,550 1225.1,557.4 1228.2,548 1231.2,548.3 1234.2,539 1237.3,545.8 1240.3,553.1 1243.3,557.2 1246.4,558.4 1249.4,549.6 1252.4,553.7 1255.4,572.3 1258.5,567.6 1261.5,554.2 1264.5,552.2 1267.6,557.5 1270.6,549.2 1273.6,566.8 1276.7,563.1 1279.7,565.1 1282.7,559.7 1285.7,544.5 1288.8,548 1291.8,552 1294.8,560.1 1297.9,555.2 1300.9,550 1303.9,543.6 1307,547.5 1310,552.3 1313,533.8 1316,549.5 1319.1,549.1 1322.1,554.5 1325.1,551.4 1328.2,550.7 1331.2,554.1 1334.2,554.9 1337.3,550 1340.3,548.6 1343.3,556.7 1346.3,549.4 1349.4,538.1 1352.4,542.9 1355.4,577.7 1358.5,549.5 1361.5,550.5 1364.5,548.8 1367.6,546.1 1370.6,548.6 1373.6,542.2 1376.6,552.2 1379.7,554.3 1382.7,554.1 1385.7,554.8 1388.8,553.3 1391.8,551.5 1394.8,557.9 1397.9,550.7 1400.9,547.6 1403.9,552 1406.9,552.1 1410,554.7 1413,565.8 1416,562.1 1419.1,541.1 1422.1,556.7 1425.1,553.3 1428.2,552.2 1431.2,547 1434.2,549.7 1437.2,538.8 1440.3,545.9 1443.3,560.5 1446.3,554.7 1449.4,549.5 1452.4,557.1 1455.4,554.9 1458.5,555.3 1461.5,556 1464.5,559.5 1467.5,557.4 1470.6,541 1473.6,557 1476.6,551.9 1479.7,551.8 1482.7,557.6 1485.7,553.5 1488.8,545.7 1491.8,550.5 1494.8,539.9 1497.8,546.2 1500.9,552.1 1503.9,550.3 1506.9,552.3 1510,555.6 1513,540.5 1516,550.5 1519.1,547.7 1522.1,538.1 1525.1,541.2 1528.1,545.5 1531.2,536.8 1534.2,552.7 1537.2,558.3 1540.3,552.8 1543.3,559.8 1546.3,550.3 1549.4,555.2 1552.4,542.2 1555.4,541.6 1558.4,567.6 1561.5,534.4 1564.5,560.3 1567.5,545.2" fill="none" stroke="#000" stroke-width="1.2" stroke-linejoin="miter"/>
<polyline points="200.6,535.9 202.6,536 204.6,536.1 206.6,536.1 208.6,536.2 210.6,536.3 212.6,536.3 214.6,536.4 216.6,536.4 218.6,536.5 220.6,536.6 222.6,536.6 224.6,536.7 226.6,536.7 228.6,536.8 230.6,536.9 232.6,536.9 234.6,537 236.6,537 238.6,537.1 240.6,537.2 242.6,537.2 244.6,537.3 246.6,537.3 248.6,537.4 250.6,537.5 252.6,537.5 254.6,537.6 256.6,537.6 258.6,537.7 260.6,537.8 262.6,537.8 264.6,537.9 266.6,537.9 268.6,538 270.6,538 272.6,538.1 274.6,538.2 276.6,538.2 278.6,538.3 280.6,538.3 282.6,538.4 284.6,538.5 286.6,538.5 288.6,538.6 290.6,538.6 292.6,538.7 294.6,538.7 296.6,538.8 298.6,538.9 300.6,538.9 302.6,539 304.6,539 306.6,539.1 308.6,539.1 310.6,539.2 312.6,539.2 314.6,539.3 316.6,539.4 318.6,539.4 320.6,539.5 322.6,539.5 324.6,539.6 326.6,539.6 328.6,539.7 330.6,539.8 332.6,539.8 334.6,539.9 336.6,539.9 338.6,540 340.6,540 342.6,540.1 344.6,540.1 346.6,540.2 348.6,540.3 350.6,540.3 352.6,540.4 354.6,540.4 356.6,540.5 358.6,540.5 360.6,540.6 362.6,540.6 364.6,540.7 366.6,540.7 368.6,540.8 370.6,540.9 372.6,540.9 374.6,541 376.6,541 378.6,541.1 380.6,541.1 382.6,541.2 384.6,541.2 386.6,541.3 388.6,541.3 390.6,541.4 392.6,541.4 394.6,541.5 396.6,541.5 398.6,541.6 400.6,541.7 402.6,541.7 404.6,541.8 406.6,541.8 408.6,541.9 410.6,541.9 412.6,542 414.6,542 416.6,542.1 418.6,542.1 420.6,542.2 422.6,542.2 424.6,542.3 426.6,542.3 428.6,542.4 430.6,542.4 432.6,542.5 434.6,542.5 436.6,542.6 438.6,542.6 440.6,542.7 442.6,542.8 444.6,542.8 446.6,542.9 448.6,542.9 450.6,543 452.6,543 454.6,543.1 456.6,543.1 458.6,543.2 460.6,543.2 462.6,543.3 464.6,543.3 466.6,543.4 468.6,543.4 470.6,543.5 472.6,543.5 474.6,543.6 476.6,543.6 478.6,543.7 480.6,543.7 482.6,543.8 484.6,543.8 486.6,543.9 488.6,543.9 490.6,544 492.6,544 494.6,544.1 496.6,544.1 498.6,544.2 500.6,544.2 502.6,544.3 504.6,544.3 506.6,544.4 508.6,544.4 510.6,544.5 512.6,544.5 514.6,544.6 516.6,544.6 518.6,544.7 520.6,544.7 522.6,544.8 524.6,544.8 526.6,544.9 528.6,544.9 530.6,545 532.6,545 534.6,545.1 536.6,545.1 538.6,545.2 540.6,545.2 542.6,545.2 544.6,545.3 546.6,545.3 548.6,545.4 550.6,545.4 552.6,545.5 554.6,545.5 556.6,545.5 558.6,545.6 560.6,545.6 562.6,545.6 564.6,545.7 566.6,545.7 568.6,545.8 570.6,545.8 572.6,545.8 574.6,545.9 576.6,545.9 578.6,545.9 580.6,546 582.6,546 584.6,546 586.6,546.1 588.6,546.1 590.6,546.1 592.6,546.2 594.6,546.2 596.6,546.2 598.6,546.3 600.6,546.3 602.6,546.3 604.6,546.3 606.6,546.4 608.6,546.4 610.6,546.4 612.6,546.5 614.6,546.5 616.6,546.5 618.6,546.5 620.6,546.6 622.6,546.6 624.6,546.6 626.6,546.7 628.6,546.7 630.6,546.7 632.6,546.7 634.6,546.8 636.6,546.8 638.6,546.8 640.6,546.8 642.6,546.9 644.6,546.9 646.6,546.9 648.6,546.9 650.6,547 652.6,547 654.6,547 656.6,547 658.6,547.1 660.6,547.1 662.6,547.1 664.6,547.1 666.6,547.2 668.6,547.2 670.6,547.2 672.6,547.3 674.6,547.3 676.6,547.3 678.6,547.3 680.6,547.4 682.6,547.4 684.6,547.4 686.6,547.4 688.6,547.5 690.6,547.5 692.6,547.5 694.6,547.6 696.6,547.6 698.6,547.6 700.6,547.6 702.6,547.7 704.6,547.7 706.6,547.7 708.6,547.8 710.6,547.8 712.6,547.8 714.6,547.9 716.6,547.9 718.6,547.9 720.6,548 722.6,548 724.6,548 726.6,548.1 728.6,548.1 730.6,548.1 732.6,548.2 734.6,548.2 736.6,548.2 738.6,548.3 740.6,548.3 742.6,548.3 744.6,548.4 746.6,548.4 748.6,548.5 750.6,548.5 752.6,548.5 754.6,548.6 756.6,548.6 758.6,548.7 760.6,548.7 762.6,548.8 764.6,548.8 766.6,548.8 768.6,548.9 770.6,548.9 772.6,549 774.6,549 776.6,549.1 778.6,549.1 780.6,549.2 782.6,549.2 784.6,549.3 786.6,549.3 788.6,549.4 790.6,549.5 792.6,549.5 794.6,549.6 796.6,549.6 798.6,549.7 800.6,549.7 802.6,549.8 804.6,549.9 806.6,549.9 808.6,550 810.6,550.1 812.6,550.1 814.6,550.2 816.6,550.3 818.6,550.3 820.6,550.4 822.6,550.5 824.6,550.5 826.6,550.6 828.6,550.7 830.6,550.7 832.6,550.8 834.6,550.9 836.6,551 838.6,551 840.6,551.1 842.6,551.2 844.6,551.3 846.6,551.3 848.6,551.4 850.6,551.5 852.6,551.6 854.6,551.7 856.6,551.8 858.6,551.8 860.6,551.9 862.6,552 864.6,552.1 866.6,552.2 868.6,552.3 870.6,552.4 872.6,552.5 874.6,552.6 876.6,552.7 878.6,552.8 880.6,552.9 882.6,553 884.6,553.1 886.6,553.3 888.6,553.4 890.6,553.5 892.6,553.6 894.6,553.8 896.6,553.9 898.6,554 900.6,554.1 902.6,554.3 904.6,554.4 906.6,554.5 908.6,554.7 910.6,554.8 912.6,554.9 914.6,555.1 916.6,555.2 918.6,555.4 920.6,555.5 922.6,555.6 924.6,555.8 926.6,555.9 928.6,556.1 930.6,556.2 932.6,556.4 934.6,556.5 936.6,556.6 938.6,556.8 940.6,556.9 942.6,557.1 944.6,557.2 946.6,557.4 948.6,557.5 950.6,557.7 952.6,557.8 954.6,558 956.6,558.1 958.6,558.3 960.6,558.4 962.6,558.5 964.6,558.7 966.6,558.8 968.6,559 970.6,559.2 972.6,559.3 974.6,559.5 976.6,559.7 978.6,559.8 980.6,560 982.6,560.2 984.6,560.4 986.6,560.6 988.6,560.8 990.6,561 992.6,561.2 994.6,561.4 996.6,561.6 998.6,561.7 1000.6,561.9 1002.6,562.2 1004.6,562.4 1006.6,562.6 1008.6,562.8 1010.6,563 1012.6,563.2 1014.6,563.4 1016.6,563.6 1018.6,563.8 1020.6,564 1022.6,564.2 1024.6,564.4 1026.6,564.6 1028.6,564.7 1030.6,564.9 1032.6,565.1 1034.6,565.3 1036.6,565.5 1038.6,565.7 1040.6,565.9 1042.6,566 1044.6,566.2 1046.6,566.4 1048.6,566.5 1050.6,566.7 1052.6,566.9 1054.6,567 1056.6,567.2 1058.6,567.3 1060.6,567.4 1062.6,567.6 1064.6,567.7 1066.6,567.8 1068.6,567.9 1070.6,568 1072.6,568.1 1074.6,568.2 1076.6,568.3 1078.6,568.4 1080.6,568.5 1082.6,568.5 1084.6,568.6 1086.6,568.6 1088.6,568.7 1090.6,568.7 1092.6,568.8 1094.6,568.8 1096.6,568.9 1098.6,569 1100.6,569 1102.6,569.1 1104.6,569.1 1106.6,569.1 1108.6,569.2 1110.6,569.2 1112.6,569.3 1114.6,569.3 1116.6,569.4 1118.6,569.4 1120.6,569.5 1122.6,569.5 1124.6,569.6 1126.6,569.6 1128.6,569.7 1130.6,569.7 1132.6,569.7 1134.6,569.8 1136.6,569.8 1138.6,569.9 1140.6,569.9 1142.6,570 1144.6,570 1146.6,570 1148.6,570.1 1150.6,570.1 1152.6,570.2 1154.6,570.2 1156.6,570.2 1158.6,570.3 1160.6,570.3 1162.6,570.3 1164.6,570.4 1166.6,570.4 1168.6,570.4 1170.6,570.5 1172.6,570.5 1174.6,570.6 1176.6,570.6 1178.6,570.6 1180.6,570.7 1182.6,570.7 1184.6,570.7 1186.6,570.8 1188.6,570.8 1190.6,570.8 1192.6,570.8 1194.6,570.9 1196.6,570.9 1198.6,570.9 1200.6,571 1202.6,571 1204.6,571 1206.6,571 1208.6,571.1 1210.6,571.1 1212.6,571.1 1214.6,571.2 1216.6,571.2 1218.6,571.2 1220.6,571.2 1222.6,571.3 1224.6,571.3 1226.6,571.3 1228.6,571.3 1230.6,571.4 1232.6,571.4 1234.6,571.4 1236.6,571.4 1238.6,571.4 1240.6,571.5 1242.6,571.5 1244.6,571.5 1246.6,571.5 1248.6,571.5 1250.6,571.6 1252.6,571.6 1254.6,571.6 1256.6,571.6 1258.6,571.6 1260.6,571.7 1262.6,571.7 1264.6,571.7 1266.6,571.7 1268.6,571.7 1270.6,571.7 1272.6,571.8 1274.6,571.8 1276.6,571.8 1278.6,571.8 1280.6,571.8 1282.6,571.8 1284.6,571.8 1286.6,571.8 1288.6,571.9 1290.6,571.9 1292.6,571.9 1294.6,571.9 1296.6,571.9 1298.6,571.9 1300.6,571.9 1302.6,571.9 1304.6,571.9 1306.6,572 1308.6,572 1310.6,572 1312.6,572 1314.6,572 1316.6,572 1318.6,572 1320.6,572 1322.6,572 1324.6,572 1326.6,572 1328.6,572 1330.6,572 1332.6,572 1334.6,572 1336.6,572 1338.6,572.1 1340.6,572.1 1342.6,572.1 1344.6,572.1 1346.6,572.1 1348.6,572.1 1350.6,572.1 1352.6,572.1 1354.6,572.1 1356.6,572.1 1358.6,572.1 1360.6,572.1 1362.6,572.1 1364.6,572.1 1366.6,572.1 1368.6,572.1 1370.6,572.1 1372.6,572.1 1374.6,572.1 1376.6,572.1 1378.6,572.1 1380.6,572.1 1382.6,572.1 1384.6,572.1 1386.6,572.1 1388.6,572.1 1390.6,572.1 1392.6,572.2 1394.6,572.2 1396.6,572.2 1398.6,572.2 1400.6,572.2 1402.6,572.2 1404.6,572.2 1406.6,572.2 1408.6,572.2 1410.6,572.2 1412.6,572.2 1414.6,572.2 1416.6,572.2 1418.6,572.2 1420.6,572.2 1422.6,572.2 1424.6,572.2 1426.6,572.2 1428.6,572.2 1430.6,572.2 1432.6,572.2 1434.6,572.2 1436.6,572.2 1438.6,572.2 1440.6,572.2 1442.6,572.2 1444.6,572.2 1446.6,572.2 1448.6,572.2 1450.6,572.2 1452.6,572.2 1454.6,572.2 1456.6,572.2 1458.6,572.2 1460.6,572.2 1462.6,572.2 1464.6,572.3 1466.6,572.3 1468.6,572.3 1470.6,572.3 1472.6,572.3 1474.6,572.3 1476.6,572.3 1478.6,572.3 1480.6,572.3 1482.6,572.3 1484.6,572.3 1486.6,572.3 1488.6,572.3 1489.3,572.3" fill="none" stroke="#0000FF" stroke-width="1.1"/>
<polyline points="200.6,524.2 202.6,524 204.6,523.8 206.6,523.6 208.6,523.4 210.6,523.2 212.6,522.9 214.6,522.7 216.6,522.4 218.6,522.1 220.6,521.8 222.6,521.5 224.6,521.2 226.6,520.9 228.6,520.6 230.6,520.4 232.6,520.1 234.6,519.8 236.6,519.5 238.6,519.2 240.6,518.9 242.6,518.6 244.6,518.3 246.6,518 248.6,517.7 250.6,517.4 252.6,517 254.6,516.6 256.6,516.2 258.6,515.7 260.6,515.2 262.6,514.7 264.6,514.1 266.6,513.4 268.6,512.7 270.6,512 272.6,511.2 274.6,510.4 276.6,509.5 278.6,508.6 280.6,507.6 282.6,506.6 284.6,505.5 286.6,504.4 288.6,503.2 290.6,502 292.6,500.8 294.6,499.4 296.6,498.1 298.6,496.7 300.6,495.3 302.6,493.8 304.6,492.3 306.6,490.8 308.6,489.2 310.6,487.6 312.6,486 314.6,484.4 316.6,482.8 318.6,481.1 320.6,479.5 322.6,477.8 324.6,476.1 326.6,474.5 328.6,472.8 330.6,471.2 332.6,469.6 334.6,468.1 336.6,466.5 338.6,465.1 340.6,463.7 342.6,462.4 344.6,461.2 346.6,460.1 348.6,459.1 350.6,458.2 352.6,457.4 354.6,456.8 356.6,456.2 358.6,455.9 360.6,455.6 362.6,455.5 364.6,455.5 366.6,455.6 368.6,455.8 370.6,456.2 372.6,456.6 374.6,457.1 376.6,457.7 378.6,458.4 380.6,459.1 382.6,459.8 384.6,460.6 386.6,461.5 388.6,462.3 390.6,463.2 392.6,464 394.6,464.9 396.6,465.8 398.6,466.6 400.6,467.4 402.6,468.1 404.6,468.9 406.6,469.5 408.6,470.2 410.6,470.7 412.6,471.3 414.6,471.7 416.6,472.1 418.6,472.4 420.6,472.7 422.6,472.9 424.6,473 426.6,473.1 428.6,473.1 430.6,473.1 432.6,473 434.6,472.9 436.6,472.7 438.6,472.5 440.6,472.3 442.6,472 444.6,471.7 446.6,471.3 448.6,470.9 450.6,470.5 452.6,470.1 454.6,469.7 456.6,469.2 458.6,468.8 460.6,468.4 462.6,467.9 464.6,467.5 466.6,467 468.6,466.6 470.6,466.2 472.6,465.8 474.6,465.5 476.6,465.1 478.6,464.8 480.6,464.6 482.6,464.3 484.6,464.1 486.6,464 488.6,463.9 490.6,463.8 492.6,463.8 494.6,463.8 496.6,463.9 498.6,464.1 500.6,464.3 502.6,464.6 504.6,465 506.6,465.4 508.6,465.9 510.6,466.5 512.6,467.1 514.6,467.8 516.6,468.5 518.6,469.3 520.6,470.1 522.6,470.9 524.6,471.8 526.6,472.6 528.6,473.5 530.6,474.4 532.6,475.3 534.6,476.2 536.6,477.1 538.6,478 540.6,478.9 542.6,479.9 544.6,480.8 546.6,481.8 548.6,482.7 550.6,483.7 552.6,484.6 554.6,485.6 556.6,486.5 558.6,487.5 560.6,488.4 562.6,489.4 564.6,490.3 566.6,491.2 568.6,492.1 570.6,492.9 572.6,493.8 574.6,494.6 576.6,495.4 578.6,496.2 580.6,497 582.6,497.7 584.6,498.4 586.6,499.2 588.6,499.9 590.6,500.6 592.6,501.3 594.6,502 596.6,502.7 598.6,503.3 600.6,504 602.6,504.6 604.6,505.3 606.6,505.9 608.6,506.5 610.6,507.1 612.6,507.7 614.6,508.2 616.6,508.8 618.6,509.4 620.6,509.9 622.6,510.4 624.6,510.9 626.6,511.4 628.6,511.8 630.6,512.3 632.6,512.7 634.6,513.1 636.6,513.5 638.6,513.8 640.6,514.2 642.6,514.5 644.6,514.8 646.6,515.1 648.6,515.3 650.6,515.6 652.6,515.8 654.6,516.1 656.6,516.3 658.6,516.6 660.6,516.8 662.6,517 664.6,517.2 666.6,517.4 668.6,517.5 670.6,517.7 672.6,517.8 674.6,517.9 676.6,518 678.6,518.1 680.6,518.1 682.6,518.2 684.6,518.2 686.6,518.2 688.6,518.2 690.6,518.2 692.6,518.2 694.6,518.2 696.6,518.2 698.6,518.2 700.6,518.2 702.6,518.1 704.6,518.1 706.6,518 708.6,517.9 710.6,517.9 712.6,517.8 714.6,517.6 716.6,517.5 718.6,517.3 720.6,517.1 722.6,516.9 724.6,516.7 726.6,516.5 728.6,516.2 730.6,515.9 732.6,515.7 734.6,515.4 736.6,515.1 738.6,514.7 740.6,514.4 742.6,514.1 744.6,513.7 746.6,513.3 748.6,512.9 750.6,512.5 752.6,512.1 754.6,511.6 756.6,511.1 758.6,510.6 760.6,510.1 762.6,509.6 764.6,509 766.6,508.4 768.6,507.9 770.6,507.2 772.6,506.6 774.6,506 776.6,505.3 778.6,504.6 780.6,503.9 782.6,503.2 784.6,502.4 786.6,501.6 788.6,500.8 790.6,499.9 792.6,499 794.6,498.1 796.6,497 798.6,496 800.6,494.8 802.6,493.7 804.6,492.5 806.6,491.2 808.6,489.9 810.6,488.6 812.6,487.2 814.6,485.8 816.6,484.3 818.6,482.8 820.6,481.3 822.6,479.8 824.6,478.3 826.6,476.7 828.6,475.1 830.6,473.6 832.6,472 834.6,470.4 836.6,468.8 838.6,467.2 840.6,465.6 842.6,464 844.6,462.3 846.6,460.7 848.6,459 850.6,457.4 852.6,455.7 854.6,453.9 856.6,452.2 858.6,450.4 860.6,448.5 862.6,446.7 864.6,444.8 866.6,442.8 868.6,440.8 870.6,438.8 872.6,436.7 874.6,434.6 876.6,432.5 878.6,430.3 880.6,428.1 882.6,425.9 884.6,423.6 886.6,421.3 888.6,419.1 890.6,416.8 892.6,414.5 894.6,412.2 896.6,409.9 898.6,407.6 900.6,405.4 902.6,403.2 904.6,401 906.6,398.8 908.6,396.7 910.6,394.6 912.6,392.6 914.6,390.7 916.6,388.8 918.6,387 920.6,385.2 922.6,383.5 924.6,381.9 926.6,380.4 928.6,379 930.6,377.6 932.6,376.3 934.6,375.1 936.6,373.9 938.6,372.9 940.6,371.8 942.6,370.9 944.6,370 946.6,369.1 948.6,368.3 950.6,367.5 952.6,366.7 954.6,365.9 956.6,365.1 958.6,364.4 960.6,363.6 962.6,362.8 964.6,362 966.6,361.1 968.6,360.2 970.6,359.3 972.6,358.4 974.6,357.4 976.6,356.3 978.6,355.2 980.6,354 982.6,352.8 984.6,351.6 986.6,350.2 988.6,348.9 990.6,347.5 992.6,346 994.6,344.6 996.6,343.2 998.6,341.7 1000.6,340.4 1002.6,339 1004.6,337.8 1006.6,336.7 1008.6,335.7 1010.6,334.9 1012.6,334.4 1014.6,334.1 1016.6,334 1018.6,334.3 1020.6,334.9 1022.6,335.9 1024.6,337.2 1026.6,338.9 1028.6,341.1 1030.6,343.6 1032.6,346.4 1034.6,349.6 1036.6,353.2 1038.6,357 1040.6,361.2 1042.6,365.5 1044.6,370.1 1046.6,374.8 1048.6,379.7 1050.6,384.7 1052.6,389.8 1054.6,394.9 1056.6,400 1058.6,405.1 1060.6,410.2 1062.6,415.3 1064.6,420.3 1066.6,425.2 1068.6,430 1070.6,434.8 1072.6,439.4 1074.6,443.9 1076.6,448.3 1078.6,452.5 1080.6,456.7 1082.6,460.7 1084.6,464.5 1086.6,468.3 1088.6,471.9 1090.6,475.3 1092.6,478.7 1094.6,481.9 1096.6,485 1098.6,488 1100.6,490.9 1102.6,493.6 1104.6,496.2 1106.6,498.7 1108.6,501.1 1110.6,503.4 1112.6,505.6 1114.6,507.7 1116.6,509.7 1118.6,511.6 1120.6,513.5 1122.6,515.2 1124.6,516.8 1126.6,518.4 1128.6,519.9 1130.6,521.4 1132.6,522.7 1134.6,524 1136.6,525.3 1138.6,526.5 1140.6,527.6 1142.6,528.7 1144.6,529.8 1146.6,530.8 1148.6,531.8 1150.6,532.7 1152.6,533.6 1154.6,534.4 1156.6,535.3 1158.6,536.1 1160.6,536.8 1162.6,537.6 1164.6,538.3 1166.6,539 1168.6,539.7 1170.6,540.3 1172.6,541 1174.6,541.6 1176.6,542.1 1178.6,542.7 1180.6,543.3 1182.6,543.8 1184.6,544.3 1186.6,544.8 1188.6,545.3 1190.6,545.8 1192.6,546.2 1194.6,546.7 1196.6,547.1 1198.6,547.5 1200.6,547.9 1202.6,548.3 1204.6,548.7 1206.6,549.1 1208.6,549.5 1210.6,549.8 1212.6,550.2 1214.6,550.5 1216.6,550.9 1218.6,551.2 1220.6,551.5 1222.6,551.8 1224.6,552.1 1226.6,552.4 1228.6,552.7 1230.6,553 1232.6,553.3 1234.6,553.6 1236.6,553.9 1238.6,554.1 1240.6,554.4 1242.6,554.6 1244.6,554.9 1246.6,555.1 1248.6,555.4 1250.6,555.6 1252.6,555.8 1254.6,556.1 1256.6,556.3 1258.6,556.5 1260.6,556.7 1262.6,556.9 1264.6,557.1 1266.6,557.3 1268.6,557.5 1270.6,557.7 1272.6,557.9 1274.6,558.1 1276.6,558.3 1278.6,558.5 1280.6,558.6 1282.6,558.8 1284.6,559 1286.6,559.2 1288.6,559.3 1290.6,559.5 1292.6,559.6 1294.6,559.8 1296.6,559.9 1298.6,560.1 1300.6,560.2 1302.6,560.4 1304.6,560.5 1306.6,560.7 1308.6,560.8 1310.6,560.9 1312.6,561 1314.6,561.2 1316.6,561.3 1318.6,561.4 1320.6,561.5 1322.6,561.6 1324.6,561.6 1326.6,561.7 1328.6,561.8 1330.6,561.9 1332.6,562 1334.6,562.1 1336.6,562.2 1338.6,562.2 1340.6,562.3 1342.6,562.4 1344.6,562.5 1346.6,562.6 1348.6,562.7 1350.6,562.8 1352.6,562.9 1354.6,563 1356.6,563.1 1358.6,563.2 1360.6,563.2 1362.6,563.3 1364.6,563.4 1366.6,563.5 1368.6,563.6 1370.6,563.7 1372.6,563.7 1374.6,563.8 1376.6,563.9 1378.6,564 1380.6,564.1 1382.6,564.1 1384.6,564.2 1386.6,564.3 1388.6,564.3 1390.6,564.4 1392.6,564.5 1394.6,564.6 1396.6,564.6 1398.6,564.7 1400.6,564.8 1402.6,564.8 1404.6,564.9 1406.6,564.9 1408.6,565 1410.6,565.1 1412.6,565.1 1414.6,565.2 1416.6,565.3 1418.6,565.3 1420.6,565.4 1422.6,565.4 1424.6,565.5 1426.6,565.5 1428.6,565.6 1430.6,565.7 1432.6,565.7 1434.6,565.8 1436.6,565.8 1438.6,565.9 1440.6,565.9 1442.6,566 1444.6,566 1446.6,566.1 1448.6,566.2 1450.6,566.2 1452.6,566.3 1454.6,566.4 1456.6,566.5 1458.6,566.6 1460.6,566.7 1462.6,566.8 1464.6,567 1466.6,567.1 1468.6,567.3 1470.6,567.5 1472.6,567.6 1474.6,567.7 1476.6,567.7 1478.6,567.7 1480.6,567.8 1482.6,567.8 1484.6,567.9 1486.6,567.9 1488.6,568 1489.3,568" fill="none" stroke="#0000FF" stroke-width="6.3" stroke-linecap="round" stroke-linejoin="round"/>
<path d="M200.6,535.6L201.6,535.6L202.6,535.6L203.6,535.6L204.6,535.7L205.6,535.7L206.6,535.7L207.6,535.8L208.6,535.8L209.6,535.8L210.6,535.9L211.6,535.9L212.6,535.9M234.9,536.6L235.6,536.6L236.6,536.6L237.6,536.6L238.6,536.7L239.6,536.7L240.6,536.7L241.6,536.8L242.6,536.8L243.6,536.8L244.6,536.8L245.6,536.9L246.6,536.9L246.9,536.9M269.2,537.5L269.6,537.6L270.6,537.6L271.6,537.6L272.6,537.6L273.6,537.7L274.6,537.7L275.6,537.7L276.6,537.7L277.6,537.8L278.6,537.8L279.6,537.8L280.6,537.9L281.2,537.9M303.5,538.5L303.6,538.5L304.6,538.5L305.6,538.5L306.6,538.6L307.6,538.6L308.6,538.6L309.6,538.6L310.6,538.7L311.6,538.7L312.6,538.7L313.6,538.8L314.6,538.8L315.5,538.8M337.8,539.4L338.6,539.4L339.6,539.4L340.6,539.5L341.6,539.5L342.6,539.5L343.6,539.5L344.6,539.6L345.6,539.6L346.6,539.6L347.6,539.6L348.6,539.7L349.6,539.7L349.8,539.7M372.1,540.3L372.6,540.3L373.6,540.3L374.6,540.3L375.6,540.4L376.6,540.4L377.6,540.4L378.6,540.4L379.6,540.5L380.6,540.5L381.6,540.5L382.6,540.5L383.6,540.6L384.1,540.6M406.4,541.1L406.6,541.1L407.6,541.1L408.6,541.2L409.6,541.2L410.6,541.2L411.6,541.2L412.6,541.3L413.6,541.3L414.6,541.3L415.6,541.3L416.6,541.4L417.6,541.4L418.4,541.4M440.7,541.9L441.6,542L442.6,542L443.6,542L444.6,542L445.6,542L446.6,542.1L447.6,542.1L448.6,542.1L449.6,542.1L450.6,542.2L451.6,542.2L452.6,542.2L452.7,542.2M475,542.7L475.6,542.7L476.6,542.8L477.6,542.8L478.6,542.8L479.6,542.8L480.6,542.8L481.6,542.9L482.6,542.9L483.6,542.9L484.6,542.9L485.6,543L486.6,543L487,543M509.3,543.5L509.6,543.5L510.6,543.5L511.6,543.5L512.6,543.5L513.6,543.6L514.6,543.6L515.6,543.6L516.6,543.6L517.6,543.6L518.6,543.7L519.6,543.7L520.6,543.7L521.3,543.7M543.6,544.1L544.6,544.1L545.6,544.2L546.6,544.2L547.6,544.2L548.6,544.2L549.6,544.2L550.6,544.2L551.6,544.3L552.6,544.3L553.6,544.3L554.6,544.3L555.6,544.3M577.9,544.6L578.6,544.6L579.6,544.6L580.6,544.6L581.6,544.7L582.6,544.7L583.6,544.7L584.6,544.7L585.6,544.7L586.6,544.7L587.6,544.7L588.6,544.7L589.6,544.7L589.9,544.7M612.2,544.9L612.6,544.9L613.6,544.9L614.6,544.9L615.6,544.9L616.6,544.9L617.6,545L618.6,545L619.6,545L620.6,545L621.6,545L622.6,545L623.6,545L624.2,545M646.5,545.1L646.6,545.1L647.6,545.1L648.6,545.1L649.6,545.1L650.6,545.1L651.6,545.1L652.6,545.1L653.6,545.1L654.6,545.1L655.6,545.1L656.6,545.1L657.6,545.1L658.5,545.1M680.8,545.2L681.6,545.2L682.6,545.2L683.6,545.2L684.6,545.2L685.6,545.2L686.6,545.2L687.6,545.2L688.6,545.2L689.6,545.2L690.6,545.2L691.6,545.2L692.6,545.2L692.8,545.2M715.1,545.2L715.6,545.2L716.6,545.2L717.6,545.2L718.6,545.2L719.6,545.2L720.6,545.2L721.6,545.2L722.6,545.2L723.6,545.2L724.6,545.2L725.6,545.2L726.6,545.2L727.1,545.2M749.4,545.1L749.6,545.1L750.6,545.1L751.6,545.1L752.6,545.1L753.6,545.1L754.6,545.1L755.6,545.1L756.6,545.1L757.6,545.1L758.6,545.1L759.6,545.1L760.6,545.1L761.4,545.1M783.7,544.9L784.6,544.9L785.6,544.9L786.6,544.9L787.6,544.9L788.6,544.9L789.6,544.9L790.6,544.9L791.6,544.9L792.6,544.8L793.6,544.8L794.6,544.8L795.6,544.8L795.7,544.8M818,544.5L818.6,544.5L819.6,544.5L820.6,544.4L821.6,544.4L822.6,544.4L823.6,544.4L824.6,544.4L825.6,544.3L826.6,544.3L827.6,544.3L828.6,544.3L829.6,544.2L830,544.2M852.3,543.4L852.6,543.4L853.6,543.4L854.6,543.3L855.6,543.3L856.6,543.2L857.6,543.2L858.6,543.1L859.6,543.1L860.6,543L861.6,543L862.6,542.9L863.6,542.8L864.3,542.8M886.6,540.9L887.6,540.8L888.6,540.7L889.6,540.5L890.6,540.4L891.6,540.3L892.6,540.1L893.6,540L894.6,539.8L895.6,539.6L896.6,539.5L897.6,539.3L898.6,539.1M920.9,533.7L921.6,533.4L922.6,533.1L923.6,532.7L924.6,532.3L925.6,531.9L926.6,531.5L927.6,531.1L928.6,530.6L929.6,530.2L930.6,529.7L931.6,529.2L932.6,528.7L932.9,528.6M955.2,512.2L955.6,511.8L956.6,510.8L957.6,509.7L958.6,508.7L959.6,507.6L960.6,506.5L961.6,505.3L962.6,504.2L963.6,503L964.6,501.8L965.6,500.5L965.9,500.2M981.4,477.9L981.6,477.5L982.6,475.9L983.6,474.3L984.6,472.7L985.6,471L986.6,469.4L987.6,467.7L988.6,466L988.7,465.9M1002,443.6L1002.6,442.7L1003.6,441.1L1004.6,439.6L1005.6,438.1L1006.6,436.7L1007.6,435.3L1008.6,433.9L1009.6,432.6L1010.5,431.6M1032.4,424.9L1032.6,425L1033.6,425.8L1034.6,426.7L1035.6,427.7L1036.6,428.8L1037.6,429.9L1038.6,431.2L1039.6,432.4L1040.6,433.8L1041.6,435.2L1042.5,436.5M1055.2,458.8L1055.6,459.5L1056.6,461.4L1057.6,463.4L1058.6,465.3L1059.6,467.2L1060.6,469.1L1061.5,470.8M1073.9,493.1L1074.6,494.2L1075.6,495.9L1076.6,497.5L1077.6,499.1L1078.6,500.7L1079.6,502.2L1080.6,503.7L1081.5,505.1M1099.6,527.4L1099.6,527.4L1100.6,528.4L1101.6,529.4L1102.6,530.3L1103.6,531.2L1104.6,532.1L1105.6,533L1106.6,533.8L1107.6,534.6L1108.6,535.4L1109.6,536.2L1110.6,537L1111.6,537.7M1133.9,549.5L1134.6,549.8L1135.6,550.1L1136.6,550.5L1137.6,550.8L1138.6,551.2L1139.6,551.5L1140.6,551.9L1141.6,552.2L1142.6,552.5L1143.6,552.8L1144.6,553.1L1145.6,553.4L1145.9,553.5M1168.2,558.4L1168.6,558.4L1169.6,558.6L1170.6,558.8L1171.6,558.9L1172.6,559.1L1173.6,559.3L1174.6,559.4L1175.6,559.6L1176.6,559.7L1177.6,559.9L1178.6,560L1179.6,560.2L1180.2,560.2M1202.5,562.9L1202.6,562.9L1203.6,563L1204.6,563.1L1205.6,563.2L1206.6,563.3L1207.6,563.4L1208.6,563.5L1209.6,563.6L1210.6,563.7L1211.6,563.8L1212.6,563.8L1213.6,563.9L1214.5,564M1236.8,565.6L1237.6,565.7L1238.6,565.7L1239.6,565.8L1240.6,565.8L1241.6,565.9L1242.6,565.9L1243.6,566L1244.6,566L1245.6,566.1L1246.6,566.1L1247.6,566.1L1248.6,566.2L1248.8,566.2M1271.1,567.2L1271.6,567.2L1272.6,567.2L1273.6,567.3L1274.6,567.3L1275.6,567.3L1276.6,567.4L1277.6,567.4L1278.6,567.5L1279.6,567.5L1280.6,567.5L1281.6,567.6L1282.6,567.6L1283.1,567.6M1305.4,568.5L1305.6,568.5L1306.6,568.5L1307.6,568.6L1308.6,568.6L1309.6,568.6L1310.6,568.7L1311.6,568.7L1312.6,568.7L1313.6,568.8L1314.6,568.8L1315.6,568.8L1316.6,568.9L1317.4,568.9M1339.7,569.4L1340.6,569.4L1341.6,569.4L1342.6,569.5L1343.6,569.5L1344.6,569.5L1345.6,569.5L1346.6,569.5L1347.6,569.5L1348.6,569.6L1349.6,569.6L1350.6,569.6L1351.6,569.6L1351.7,569.6M1374,570L1374.6,570L1375.6,570L1376.6,570L1377.6,570L1378.6,570L1379.6,570L1380.6,570L1381.6,570.1L1382.6,570.1L1383.6,570.1L1384.6,570.1L1385.6,570.1L1386,570.1M1408.3,570.4L1408.6,570.4L1409.6,570.4L1410.6,570.4L1411.6,570.4L1412.6,570.4L1413.6,570.4L1414.6,570.4L1415.6,570.4L1416.6,570.5L1417.6,570.5L1418.6,570.5L1419.6,570.5L1420.3,570.5M1442.6,570.7L1442.6,570.7L1443.6,570.7L1444.6,570.7L1445.6,570.7L1446.6,570.7L1447.6,570.7L1448.6,570.7L1449.6,570.8L1450.6,570.8L1451.6,570.8L1452.6,570.8L1453.6,570.8L1454.6,570.8M1476.9,571L1477.6,571L1478.6,571L1479.6,571L1480.6,571L1481.6,571L1482.6,571L1483.6,571L1484.6,571L1485.6,571L1486.6,571L1487.6,571.1L1488.6,571.1L1488.9,571.1" fill="none" stroke="#8000FF" stroke-width="4.4" stroke-linecap="round" stroke-linejoin="round"/>
<path d="M200.6,534L201.6,534L202.6,534L203.6,534.1L204.6,534.1L205.6,534.1L206.6,534.1L207.6,534.2L208.6,534.2L209.6,534.2L210.6,534.2L211.6,534.3L212.6,534.3M234.9,534.8L235.6,534.8L236.6,534.9L237.6,534.9L238.6,534.9L239.6,534.9L240.6,535L241.6,535L242.6,535L243.6,535L244.6,535.1L245.6,535.1L246.6,535.1L246.9,535.1M269.2,535.6L269.6,535.6L270.6,535.7L271.6,535.7L272.6,535.7L273.6,535.7L274.6,535.7L275.6,535.8L276.6,535.8L277.6,535.8L278.6,535.8L279.6,535.8L280.6,535.9L281.2,535.9M303.5,536.3L303.6,536.4L304.6,536.4L305.6,536.4L306.6,536.4L307.6,536.4L308.6,536.5L309.6,536.5L310.6,536.5L311.6,536.5L312.6,536.5L313.6,536.6L314.6,536.6L315.5,536.6M337.8,537L338.6,537L339.6,537L340.6,537.1L341.6,537.1L342.6,537.1L343.6,537.1L344.6,537.1L345.6,537.1L346.6,537.2L347.6,537.2L348.6,537.2L349.6,537.2L349.8,537.2M372.1,537.6L372.6,537.6L373.6,537.6L374.6,537.6L375.6,537.6L376.6,537.7L377.6,537.7L378.6,537.7L379.6,537.7L380.6,537.7L381.6,537.7L382.6,537.7L383.6,537.8L384.1,537.8M406.4,538.1L406.6,538.1L407.6,538.1L408.6,538.1L409.6,538.1L410.6,538.1L411.6,538.1L412.6,538.2L413.6,538.2L414.6,538.2L415.6,538.2L416.6,538.2L417.6,538.2L418.4,538.2M440.7,538.5L441.6,538.5L442.6,538.5L443.6,538.5L444.6,538.5L445.6,538.5L446.6,538.5L447.6,538.5L448.6,538.5L449.6,538.5L450.6,538.5L451.6,538.6L452.6,538.6L452.7,538.6M475,538.7L475.6,538.7L476.6,538.7L477.6,538.7L478.6,538.7L479.6,538.7L480.6,538.7L481.6,538.7L482.6,538.8L483.6,538.8L484.6,538.8L485.6,538.8L486.6,538.8L487,538.8M509.3,538.8L509.6,538.8L510.6,538.8L511.6,538.8L512.6,538.8L513.6,538.8L514.6,538.8L515.6,538.8L516.6,538.8L517.6,538.8L518.6,538.8L519.6,538.8L520.6,538.8L521.3,538.8M543.6,538.7L544.6,538.7L545.6,538.7L546.6,538.7L547.6,538.7L548.6,538.7L549.6,538.7L550.6,538.7L551.6,538.7L552.6,538.7L553.6,538.7L554.6,538.7L555.6,538.7M577.9,538.4L578.6,538.4L579.6,538.4L580.6,538.3L581.6,538.3L582.6,538.3L583.6,538.2L584.6,538.2L585.6,538.2L586.6,538.2L587.6,538.1L588.6,538.1L589.6,538.1L589.9,538M612.2,537.1L612.6,537.1L613.6,537.1L614.6,537L615.6,537L616.6,536.9L617.6,536.9L618.6,536.8L619.6,536.8L620.6,536.8L621.6,536.7L622.6,536.7L623.6,536.6L624.2,536.6M646.5,535.3L646.6,535.3L647.6,535.3L648.6,535.2L649.6,535.2L650.6,535.1L651.6,535L652.6,535L653.6,534.9L654.6,534.8L655.6,534.8L656.6,534.7L657.6,534.6L658.5,534.6M680.8,532.8L681.6,532.7L682.6,532.6L683.6,532.5L684.6,532.4L685.6,532.3L686.6,532.2L687.6,532.1L688.6,532L689.6,531.9L690.6,531.8L691.6,531.7L692.6,531.6L692.8,531.6M715.1,528.6L715.6,528.5L716.6,528.3L717.6,528.2L718.6,528L719.6,527.8L720.6,527.7L721.6,527.5L722.6,527.3L723.6,527.1L724.6,526.9L725.6,526.8L726.6,526.6L727.1,526.5M749.4,521.3L749.6,521.3L750.6,521L751.6,520.7L752.6,520.5L753.6,520.2L754.6,519.9L755.6,519.6L756.6,519.3L757.6,519L758.6,518.8L759.6,518.5L760.6,518.2L761.4,517.9M783.7,510L784.6,509.6L785.6,509.2L786.6,508.8L787.6,508.4L788.6,507.9L789.6,507.5L790.6,507.1L791.6,506.6L792.6,506.2L793.6,505.7L794.6,505.2L795.6,504.8L795.7,504.7M818,493.1L818.6,492.8L819.6,492.2L820.6,491.6L821.6,491L822.6,490.4L823.6,489.8L824.6,489.2L825.6,488.5L826.6,487.8L827.6,487.2L828.6,486.5L829.6,485.8L830,485.5M852.3,468L852.6,467.7L853.6,466.8L854.6,466L855.6,465.1L856.6,464.2L857.6,463.3L858.6,462.4L859.6,461.6L860.6,460.7L861.6,459.8L862.6,458.9L863.6,458L864.3,457.3M886.6,436.7L887.6,435.8L888.6,434.9L889.6,434L890.6,433L891.6,432.1L892.6,431.2L893.6,430.3L894.6,429.4L895.6,428.5L896.6,427.6L897.6,426.7L898.6,425.8M920.9,410.1L921.6,409.8L922.6,409.4L923.6,408.9L924.6,408.6L925.6,408.2L926.6,407.9L927.6,407.6L928.6,407.4L929.6,407.1L930.6,407L931.6,406.8L932.6,406.7L932.9,406.6M955.2,412L955.6,412.3L956.6,412.9L957.6,413.5L958.6,414.2L959.6,414.9L960.6,415.7L961.6,416.4L962.6,417.2L963.6,418L964.6,418.9L965.6,419.7L966.6,420.6L967.2,421.2M988,443.3L988.6,444L989.6,445.1L990.6,446.2L991.6,447.4L992.6,448.5L993.6,449.6L994.6,450.8L995.6,451.9L996.6,453L997.6,454.1L998.6,455.3L998.6,455.3M1019.5,477.6L1019.6,477.7L1020.6,478.7L1021.6,479.7L1022.6,480.7L1023.6,481.7L1024.6,482.7L1025.6,483.6L1026.6,484.6L1027.6,485.5L1028.6,486.5L1029.6,487.4L1030.6,488.4L1031.5,489.2M1053.8,507.7L1054.6,508.4L1055.6,509.1L1056.6,509.8L1057.6,510.6L1058.6,511.3L1059.6,512L1060.6,512.7L1061.6,513.4L1062.6,514.1L1063.6,514.8L1064.6,515.5L1065.6,516.2L1065.8,516.3M1088.1,529.4L1088.6,529.7L1089.6,530.2L1090.6,530.7L1091.6,531.1L1092.6,531.6L1093.6,532.1L1094.6,532.5L1095.6,533L1096.6,533.4L1097.6,533.8L1098.6,534.3L1099.6,534.7L1100.1,534.9M1122.4,542.8L1122.6,542.9L1123.6,543.2L1124.6,543.5L1125.6,543.8L1126.6,544.1L1127.6,544.4L1128.6,544.6L1129.6,544.9L1130.6,545.2L1131.6,545.5L1132.6,545.7L1133.6,546L1134.4,546.2M1156.7,551.2L1157.6,551.4L1158.6,551.6L1159.6,551.8L1160.6,552L1161.6,552.1L1162.6,552.3L1163.6,552.5L1164.6,552.7L1165.6,552.8L1166.6,553L1167.6,553.2L1168.6,553.3L1168.7,553.4M1191,556.6L1191.6,556.6L1192.6,556.8L1193.6,556.9L1194.6,557L1195.6,557.1L1196.6,557.2L1197.6,557.3L1198.6,557.4L1199.6,557.6L1200.6,557.7L1201.6,557.8L1202.6,557.9L1203,557.9M1225.3,559.9L1225.6,560L1226.6,560L1227.6,560.1L1228.6,560.2L1229.6,560.3L1230.6,560.4L1231.6,560.4L1232.6,560.5L1233.6,560.6L1234.6,560.7L1235.6,560.7L1236.6,560.8L1237.3,560.9M1259.6,562.3L1259.6,562.3L1260.6,562.4L1261.6,562.5L1262.6,562.5L1263.6,562.6L1264.6,562.6L1265.6,562.7L1266.6,562.8L1267.6,562.8L1268.6,562.9L1269.6,562.9L1270.6,563L1271.6,563M1293.9,564.1L1294.6,564.1L1295.6,564.1L1296.6,564.1L1297.6,564.2L1298.6,564.2L1299.6,564.2L1300.6,564.3L1301.6,564.3L1302.6,564.4L1303.6,564.4L1304.6,564.4L1305.6,564.5L1305.9,564.5M1328.2,565.3L1328.6,565.3L1329.6,565.3L1330.6,565.4L1331.6,565.4L1332.6,565.4L1333.6,565.5L1334.6,565.5L1335.6,565.6L1336.6,565.6L1337.6,565.6L1338.6,565.6L1339.6,565.7L1340.2,565.7M1362.5,566.4L1362.6,566.4L1363.6,566.4L1364.6,566.4L1365.6,566.5L1366.6,566.5L1367.6,566.5L1368.6,566.5L1369.6,566.6L1370.6,566.6L1371.6,566.6L1372.6,566.6L1373.6,566.7L1374.5,566.7M1396.8,567.2L1397.6,567.2L1398.6,567.3L1399.6,567.3L1400.6,567.3L1401.6,567.3L1402.6,567.3L1403.6,567.4L1404.6,567.4L1405.6,567.4L1406.6,567.4L1407.6,567.4L1408.6,567.5L1408.8,567.5M1431.1,567.9L1431.6,567.9L1432.6,567.9L1433.6,567.9L1434.6,568L1435.6,568L1436.6,568L1437.6,568L1438.6,568L1439.6,568L1440.6,568.1L1441.6,568.1L1442.6,568.1L1443.1,568.1M1465.4,568.5L1465.6,568.5L1466.6,568.5L1467.6,568.5L1468.6,568.5L1469.6,568.5L1470.6,568.6L1471.6,568.6L1472.6,568.6L1473.6,568.6L1474.6,568.6L1475.6,568.6L1476.6,568.6L1477.4,568.7" fill="none" stroke="#000080" stroke-width="4.4" stroke-linecap="round" stroke-linejoin="round"/>
<path d="M200.6,530.3L201.6,530.3L202.6,530.2L203.6,530.2L204.6,530.1L205.6,530.1L206.6,530L207.6,529.9L208.6,529.9L209.6,529.8L210.6,529.7L211.6,529.7L212.6,529.6M234.9,527.6L235.6,527.5L236.6,527.4L237.6,527.3L238.6,527.2L239.6,527.1L240.6,526.9L241.6,526.8L242.6,526.7L243.6,526.5L244.6,526.4L245.6,526.2L246.6,526.1L246.9,526M269.2,521.3L269.6,521.1L270.6,520.8L271.6,520.5L272.6,520.2L273.6,519.9L274.6,519.6L275.6,519.2L276.6,518.9L277.6,518.5L278.6,518.2L279.6,517.8L280.6,517.4L281.2,517.2M303.5,506L303.6,506L304.6,505.4L305.6,504.8L306.6,504.1L307.6,503.5L308.6,502.9L309.6,502.2L310.6,501.6L311.6,500.9L312.6,500.3L313.6,499.6L314.6,498.9L315.5,498.3M337.8,483.9L338.6,483.5L339.6,483L340.6,482.5L341.6,482L342.6,481.6L343.6,481.1L344.6,480.7L345.6,480.3L346.6,480L347.6,479.6L348.6,479.3L349.6,479L349.8,479M372.1,482L372.6,482.2L373.6,482.8L374.6,483.3L375.6,483.9L376.6,484.5L377.6,485.1L378.6,485.7L379.6,486.3L380.6,487L381.6,487.7L382.6,488.3L383.6,489L384.1,489.4M406.4,505.8L406.6,505.9L407.6,506.6L408.6,507.3L409.6,508L410.6,508.6L411.6,509.3L412.6,510L413.6,510.6L414.6,511.2L415.6,511.9L416.6,512.5L417.6,513.1L418.4,513.6M440.7,524.5L441.6,524.9L442.6,525.3L443.6,525.6L444.6,526L445.6,526.3L446.6,526.7L447.6,527L448.6,527.3L449.6,527.6L450.6,527.9L451.6,528.2L452.6,528.5L452.7,528.6M475,533.4L475.6,533.5L476.6,533.7L477.6,533.9L478.6,534L479.6,534.2L480.6,534.3L481.6,534.5L482.6,534.6L483.6,534.8L484.6,534.9L485.6,535.1L486.6,535.2L487,535.3M509.3,538.2L509.6,538.2L510.6,538.4L511.6,538.5L512.6,538.6L513.6,538.7L514.6,538.8L515.6,538.9L516.6,539L517.6,539.2L518.6,539.3L519.6,539.4L520.6,539.5L521.3,539.5M543.6,541.2L544.6,541.3L545.6,541.3L546.6,541.4L547.6,541.5L548.6,541.5L549.6,541.6L550.6,541.6L551.6,541.7L552.6,541.7L553.6,541.8L554.6,541.9L555.6,541.9M577.9,543L578.6,543L579.6,543L580.6,543.1L581.6,543.1L582.6,543.2L583.6,543.2L584.6,543.2L585.6,543.3L586.6,543.3L587.6,543.4L588.6,543.4L589.6,543.4L589.9,543.4M612.2,544.2L612.6,544.2L613.6,544.3L614.6,544.3L615.6,544.3L616.6,544.3L617.6,544.4L618.6,544.4L619.6,544.4L620.6,544.5L621.6,544.5L622.6,544.5L623.6,544.5L624.2,544.6M646.5,545.2L646.6,545.2L647.6,545.2L648.6,545.2L649.6,545.2L650.6,545.3L651.6,545.3L652.6,545.3L653.6,545.3L654.6,545.3L655.6,545.4L656.6,545.4L657.6,545.4L658.5,545.4M680.8,545.9L681.6,546L682.6,546L683.6,546L684.6,546L685.6,546.1L686.6,546.1L687.6,546.1L688.6,546.1L689.6,546.1L690.6,546.2L691.6,546.2L692.6,546.2L692.8,546.2M715.1,546.7L715.6,546.7L716.6,546.7L717.6,546.8L718.6,546.8L719.6,546.8L720.6,546.8L721.6,546.8L722.6,546.9L723.6,546.9L724.6,546.9L725.6,546.9L726.6,547L727.1,547M749.4,547.5L749.6,547.5L750.6,547.5L751.6,547.6L752.6,547.6L753.6,547.6L754.6,547.6L755.6,547.7L756.6,547.7L757.6,547.7L758.6,547.7L759.6,547.8L760.6,547.8L761.4,547.8M783.7,548.4L784.6,548.5L785.6,548.5L786.6,548.5L787.6,548.6L788.6,548.6L789.6,548.6L790.6,548.7L791.6,548.7L792.6,548.7L793.6,548.8L794.6,548.8L795.6,548.8L795.7,548.8M818,549.6L818.6,549.6L819.6,549.6L820.6,549.7L821.6,549.7L822.6,549.8L823.6,549.8L824.6,549.8L825.6,549.9L826.6,549.9L827.6,549.9L828.6,550L829.6,550L830,550M852.3,551L852.6,551L853.6,551L854.6,551.1L855.6,551.1L856.6,551.2L857.6,551.2L858.6,551.2L859.6,551.3L860.6,551.3L861.6,551.4L862.6,551.4L863.6,551.5L864.3,551.5M886.6,552.7L887.6,552.8L888.6,552.8L889.6,552.9L890.6,553L891.6,553L892.6,553.1L893.6,553.2L894.6,553.2L895.6,553.3L896.6,553.4L897.6,553.4L898.6,553.5M920.9,555L921.6,555.1L922.6,555.2L923.6,555.2L924.6,555.3L925.6,555.4L926.6,555.5L927.6,555.5L928.6,555.6L929.6,555.7L930.6,555.7L931.6,555.8L932.6,555.9L932.9,555.9M955.2,557.6L955.6,557.6L956.6,557.7L957.6,557.8L958.6,557.8L959.6,557.9L960.6,558L961.6,558.1L962.6,558.1L963.6,558.2L964.6,558.3L965.6,558.4L966.6,558.4L967.2,558.5M989.5,560.5L989.6,560.5L990.6,560.6L991.6,560.7L992.6,560.8L993.6,560.9L994.6,561L995.6,561.1L996.6,561.2L997.6,561.3L998.6,561.4L999.6,561.5L1000.6,561.6L1001.5,561.7M1023.8,563.9L1024.6,564L1025.6,564.1L1026.6,564.2L1027.6,564.3L1028.6,564.4L1029.6,564.5L1030.6,564.6L1031.6,564.7L1032.6,564.8L1033.6,564.9L1034.6,565L1035.6,565.1L1035.8,565.1M1058.1,566.9L1058.6,567L1059.6,567.1L1060.6,567.1L1061.6,567.2L1062.6,567.3L1063.6,567.3L1064.6,567.4L1065.6,567.4L1066.6,567.5L1067.6,567.6L1068.6,567.6L1069.6,567.7L1070.1,567.7M1092.4,568.5L1092.6,568.5L1093.6,568.5L1094.6,568.6L1095.6,568.6L1096.6,568.6L1097.6,568.6L1098.6,568.7L1099.6,568.7L1100.6,568.7L1101.6,568.8L1102.6,568.8L1103.6,568.8L1104.4,568.8M1126.7,569.4L1127.6,569.4L1128.6,569.4L1129.6,569.4L1130.6,569.4L1131.6,569.5L1132.6,569.5L1133.6,569.5L1134.6,569.5L1135.6,569.6L1136.6,569.6L1137.6,569.6L1138.6,569.6L1138.7,569.6M1161,570.1L1161.6,570.1L1162.6,570.1L1163.6,570.1L1164.6,570.1L1165.6,570.2L1166.6,570.2L1167.6,570.2L1168.6,570.2L1169.6,570.2L1170.6,570.3L1171.6,570.3L1172.6,570.3L1173,570.3M1195.3,570.7L1195.6,570.7L1196.6,570.7L1197.6,570.7L1198.6,570.7L1199.6,570.7L1200.6,570.8L1201.6,570.8L1202.6,570.8L1203.6,570.8L1204.6,570.8L1205.6,570.8L1206.6,570.8L1207.3,570.8M1229.6,571.1L1230.6,571.2L1231.6,571.2L1232.6,571.2L1233.6,571.2L1234.6,571.2L1235.6,571.2L1236.6,571.2L1237.6,571.2L1238.6,571.2L1239.6,571.3L1240.6,571.3L1241.6,571.3M1263.9,571.5L1264.6,571.5L1265.6,571.5L1266.6,571.5L1267.6,571.5L1268.6,571.5L1269.6,571.5L1270.6,571.6L1271.6,571.6L1272.6,571.6L1273.6,571.6L1274.6,571.6L1275.6,571.6L1275.9,571.6M1298.2,571.7L1298.6,571.7L1299.6,571.7L1300.6,571.8L1301.6,571.8L1302.6,571.8L1303.6,571.8L1304.6,571.8L1305.6,571.8L1306.6,571.8L1307.6,571.8L1308.6,571.8L1309.6,571.8L1310.2,571.8M1332.5,571.9L1332.6,571.9L1333.6,571.9L1334.6,571.9L1335.6,571.9L1336.6,571.9L1337.6,571.9L1338.6,571.9L1339.6,571.9L1340.6,571.9L1341.6,571.9L1342.6,571.9L1343.6,571.9L1344.5,571.9M1366.8,572L1367.6,572L1368.6,572L1369.6,572L1370.6,572L1371.6,572L1372.6,572L1373.6,572L1374.6,572L1375.6,572L1376.6,572L1377.6,572L1378.6,572L1378.8,572M1401.1,572L1401.6,572L1402.6,572L1403.6,572L1404.6,572L1405.6,572L1406.6,572L1407.6,572L1408.6,572L1409.6,572L1410.6,572L1411.6,572L1412.6,572L1413.1,572M1435.4,572.1L1435.6,572.1L1436.6,572.1L1437.6,572.1L1438.6,572.1L1439.6,572.1L1440.6,572.1L1441.6,572.1L1442.6,572.1L1443.6,572.1L1444.6,572.1L1445.6,572.1L1446.6,572.1L1447.4,572.1M1469.7,572.1L1470.6,572.1L1471.6,572.1L1472.6,572.1L1473.6,572.1L1474.6,572.1L1475.6,572.1L1476.6,572.2L1477.6,572.2L1478.6,572.2L1479.6,572.2L1480.6,572.2L1481.6,572.2L1481.7,572.2" fill="none" stroke="#FF00FF" stroke-width="4.4" stroke-linecap="round" stroke-linejoin="round"/>
<path d="M200.6,531.4L201.6,531.4L202.6,531.4L203.6,531.4L204.6,531.4L205.6,531.4L206.6,531.4L207.6,531.4L208.6,531.4L209.6,531.4L210.6,531.4L211.6,531.4L212.6,531.4M234.9,531.1L235.6,531.1L236.6,531.1L237.6,531L238.6,531L239.6,531L240.6,531L241.6,531L242.6,531L243.6,530.9L244.6,530.9L245.6,530.9L246.6,530.9L246.9,530.9M269.2,530.2L269.6,530.2L270.6,530.2L271.6,530.1L272.6,530.1L273.6,530L274.6,530L275.6,529.9L276.6,529.9L277.6,529.9L278.6,529.8L279.6,529.8L280.6,529.7L281.2,529.7M303.5,528.3L303.6,528.2L304.6,528.2L305.6,528.1L306.6,528L307.6,528L308.6,527.9L309.6,527.8L310.6,527.7L311.6,527.7L312.6,527.6L313.6,527.5L314.6,527.4L315.5,527.3M337.8,525.2L338.6,525.1L339.6,525L340.6,524.9L341.6,524.8L342.6,524.7L343.6,524.5L344.6,524.4L345.6,524.3L346.6,524.1L347.6,524L348.6,523.9L349.6,523.7L349.8,523.7M372.1,519.9L372.6,519.8L373.6,519.6L374.6,519.3L375.6,519.1L376.6,518.9L377.6,518.7L378.6,518.4L379.6,518.2L380.6,518L381.6,517.7L382.6,517.5L383.6,517.2L384.1,517.1M406.4,510.5L406.6,510.4L407.6,510.1L408.6,509.7L409.6,509.4L410.6,509L411.6,508.7L412.6,508.3L413.6,507.9L414.6,507.6L415.6,507.2L416.6,506.8L417.6,506.4L418.4,506.1M440.7,496.6L441.6,496.2L442.6,495.8L443.6,495.3L444.6,494.9L445.6,494.4L446.6,494L447.6,493.6L448.6,493.1L449.6,492.7L450.6,492.2L451.6,491.8L452.6,491.3L452.7,491.3M475,482.4L475.6,482.2L476.6,481.9L477.6,481.6L478.6,481.3L479.6,481L480.6,480.7L481.6,480.5L482.6,480.2L483.6,480L484.6,479.7L485.6,479.5L486.6,479.3L487,479.2M509.3,478.7L509.6,478.8L510.6,479L511.6,479.1L512.6,479.3L513.6,479.5L514.6,479.8L515.6,480L516.6,480.2L517.6,480.5L518.6,480.8L519.6,481.1L520.6,481.4L521.3,481.6M543.6,491L544.6,491.5L545.6,492L546.6,492.5L547.6,493L548.6,493.5L549.6,494L550.6,494.6L551.6,495.1L552.6,495.6L553.6,496.1L554.6,496.6L555.6,497.1M577.9,508.1L578.6,508.4L579.6,508.9L580.6,509.3L581.6,509.8L582.6,510.3L583.6,510.7L584.6,511.2L585.6,511.6L586.6,512L587.6,512.5L588.6,512.9L589.6,513.4L589.9,513.5M612.2,522.2L612.6,522.4L613.6,522.7L614.6,523L615.6,523.3L616.6,523.6L617.6,523.9L618.6,524.2L619.6,524.5L620.6,524.8L621.6,525.1L622.6,525.4L623.6,525.7L624.2,525.8M646.5,530.8L646.6,530.8L647.6,531L648.6,531.2L649.6,531.4L650.6,531.6L651.6,531.8L652.6,531.9L653.6,532.1L654.6,532.3L655.6,532.5L656.6,532.6L657.6,532.8L658.5,533M680.8,536.2L681.6,536.3L682.6,536.5L683.6,536.6L684.6,536.7L685.6,536.8L686.6,537L687.6,537.1L688.6,537.2L689.6,537.3L690.6,537.4L691.6,537.5L692.6,537.7L692.8,537.7M715.1,539.9L715.6,540L716.6,540L717.6,540.1L718.6,540.2L719.6,540.3L720.6,540.4L721.6,540.4L722.6,540.5L723.6,540.6L724.6,540.7L725.6,540.7L726.6,540.8L727.1,540.8M749.4,542.1L749.6,542.1L750.6,542.2L751.6,542.3L752.6,542.3L753.6,542.4L754.6,542.4L755.6,542.5L756.6,542.5L757.6,542.6L758.6,542.7L759.6,542.7L760.6,542.8L761.4,542.8M783.7,544.2L784.6,544.3L785.6,544.4L786.6,544.5L787.6,544.5L788.6,544.6L789.6,544.7L790.6,544.7L791.6,544.8L792.6,544.9L793.6,544.9L794.6,545L795.6,545L795.7,545.1M818,546.4L818.6,546.4L819.6,546.4L820.6,546.5L821.6,546.6L822.6,546.6L823.6,546.7L824.6,546.7L825.6,546.8L826.6,546.8L827.6,546.9L828.6,547L829.6,547L830,547M852.3,548.3L852.6,548.3L853.6,548.4L854.6,548.5L855.6,548.5L856.6,548.6L857.6,548.6L858.6,548.7L859.6,548.8L860.6,548.8L861.6,548.9L862.6,548.9L863.6,549L864.3,549M886.6,550.5L887.6,550.6L888.6,550.7L889.6,550.8L890.6,550.8L891.6,550.9L892.6,551L893.6,551L894.6,551.1L895.6,551.2L896.6,551.3L897.6,551.3L898.6,551.4M920.9,553.2L921.6,553.2L922.6,553.3L923.6,553.4L924.6,553.5L925.6,553.6L926.6,553.7L927.6,553.7L928.6,553.8L929.6,553.9L930.6,554L931.6,554.1L932.6,554.2L932.9,554.2M955.2,556L955.6,556L956.6,556.1L957.6,556.2L958.6,556.3L959.6,556.4L960.6,556.4L961.6,556.5L962.6,556.6L963.6,556.7L964.6,556.8L965.6,556.9L966.6,556.9L967.2,557M989.5,559.1L989.6,559.1L990.6,559.2L991.6,559.3L992.6,559.4L993.6,559.5L994.6,559.7L995.6,559.8L996.6,559.9L997.6,560L998.6,560.1L999.6,560.2L1000.6,560.3L1001.5,560.4M1023.8,562.8L1024.6,562.8L1025.6,562.9L1026.6,563L1027.6,563.1L1028.6,563.2L1029.6,563.4L1030.6,563.5L1031.6,563.6L1032.6,563.7L1033.6,563.8L1034.6,563.9L1035.6,563.9L1035.8,564M1058.1,565.9L1058.6,565.9L1059.6,566L1060.6,566.1L1061.6,566.2L1062.6,566.2L1063.6,566.3L1064.6,566.4L1065.6,566.4L1066.6,566.5L1067.6,566.6L1068.6,566.6L1069.6,566.7L1070.1,566.7M1092.4,567.6L1092.6,567.6L1093.6,567.6L1094.6,567.7L1095.6,567.7L1096.6,567.7L1097.6,567.7L1098.6,567.8L1099.6,567.8L1100.6,567.8L1101.6,567.9L1102.6,567.9L1103.6,567.9L1104.4,567.9M1126.7,568.5L1127.6,568.6L1128.6,568.6L1129.6,568.6L1130.6,568.6L1131.6,568.7L1132.6,568.7L1133.6,568.7L1134.6,568.7L1135.6,568.8L1136.6,568.8L1137.6,568.8L1138.6,568.8L1138.7,568.8M1161,569.3L1161.6,569.4L1162.6,569.4L1163.6,569.4L1164.6,569.4L1165.6,569.4L1166.6,569.5L1167.6,569.5L1168.6,569.5L1169.6,569.5L1170.6,569.5L1171.6,569.6L1172.6,569.6L1173,569.6M1195.3,570L1195.6,570L1196.6,570L1197.6,570L1198.6,570.1L1199.6,570.1L1200.6,570.1L1201.6,570.1L1202.6,570.1L1203.6,570.2L1204.6,570.2L1205.6,570.2L1206.6,570.2L1207.3,570.2M1229.6,570.5L1230.6,570.6L1231.6,570.6L1232.6,570.6L1233.6,570.6L1234.6,570.6L1235.6,570.6L1236.6,570.6L1237.6,570.7L1238.6,570.7L1239.6,570.7L1240.6,570.7L1241.6,570.7M1263.9,571L1264.6,571L1265.6,571L1266.6,571L1267.6,571L1268.6,571L1269.6,571L1270.6,571L1271.6,571L1272.6,571L1273.6,571L1274.6,571.1L1275.6,571.1L1275.9,571.1M1298.2,571.2L1298.6,571.2L1299.6,571.3L1300.6,571.3L1301.6,571.3L1302.6,571.3L1303.6,571.3L1304.6,571.3L1305.6,571.3L1306.6,571.3L1307.6,571.3L1308.6,571.3L1309.6,571.3L1310.2,571.3M1332.5,571.4L1332.6,571.4L1333.6,571.4L1334.6,571.4L1335.6,571.4L1336.6,571.4L1337.6,571.4L1338.6,571.4L1339.6,571.4L1340.6,571.5L1341.6,571.5L1342.6,571.5L1343.6,571.5L1344.5,571.5M1366.8,571.5L1367.6,571.5L1368.6,571.5L1369.6,571.6L1370.6,571.6L1371.6,571.6L1372.6,571.6L1373.6,571.6L1374.6,571.6L1375.6,571.6L1376.6,571.6L1377.6,571.6L1378.6,571.6L1378.8,571.6M1401.1,571.6L1401.6,571.6L1402.6,571.6L1403.6,571.6L1404.6,571.6L1405.6,571.6L1406.6,571.7L1407.6,571.7L1408.6,571.7L1409.6,571.7L1410.6,571.7L1411.6,571.7L1412.6,571.7L1413.1,571.7M1435.4,571.7L1435.6,571.7L1436.6,571.7L1437.6,571.7L1438.6,571.7L1439.6,571.7L1440.6,571.7L1441.6,571.7L1442.6,571.7L1443.6,571.7L1444.6,571.7L1445.6,571.7L1446.6,571.7L1447.4,571.7M1469.7,571.8L1470.6,571.8L1471.6,571.8L1472.6,571.8L1473.6,571.8L1474.6,571.8L1475.6,571.8L1476.6,571.8L1477.6,571.8L1478.6,571.8L1479.6,571.8L1480.6,571.8L1481.6,571.8L1481.7,571.8" fill="none" stroke="#008000" stroke-width="4.4" stroke-linecap="round" stroke-linejoin="round"/>
<polyline points="277,872.3 280,867.7 283.1,868 286.1,872 289.1,869.9 292.1,868 295.2,864.2 298.2,872.4 301.2,870.3 304.3,869.6 307.3,867.1 310.3,866.9 313.4,867.7 316.4,871.3 319.4,856.8 322.4,862.6 325.5,861.6 328.5,857.5 331.5,849.1 334.6,861.2 337.6,861.7 340.6,853.6 343.7,859 346.7,861.9 349.7,854.8 352.7,854.8 355.8,863 358.8,861.2 361.8,846.3 364.9,852.3 367.9,848.4 370.9,857.6 374,846.3 377,864.7 380,843.6 383,851.9 386.1,833.9 389.1,844.5 392.1,831.6 395.2,842.9 398.2,829 401.2,830.8 404.3,840.8 407.3,822 410.3,823.4 413.3,816.1 416.4,819.8 419.4,808.6 422.4,810 425.5,799.1 428.5,789.1 431.5,784.1 434.6,778.6 437.6,778.7 440.6,772 443.6,768.1 446.7,762.9 449.7,753.5 452.7,755.3 455.8,751.4 458.8,753.2 461.8,739.7 464.9,743.2 467.9,749.9 470.9,748.7 473.9,750.2 477,750.9 480,748.9 483,761.3 486.1,753.5 489.1,761.6 492.1,753 495.2,786 498.2,762.4 501.2,771 504.2,770.4 507.3,779.7 510.3,772.6 513.3,777.4 516.4,773.5 519.4,771 522.4,823 525.5,783.3 528.5,777.5 531.5,768.9 534.5,767.7 537.6,772.8 540.6,769.8 543.6,798.5 546.7,781.4 549.7,768 552.7,763.2 555.8,767.4 558.8,762.3 561.8,757.1 564.8,762 567.9,759.3 570.9,755.7 573.9,757.5 577,743.6 580,759.9 583,747.4 586.1,742.9 589.1,742.6 592.1,749.4 595.1,744.1 598.2,739.6 601.2,743.5 604.2,742.1 607.3,739 610.3,733.5 613.3,740.2 616.4,755 619.4,757.7 622.4,746.4 625.4,752.9 628.5,755.6 631.5,739.7 634.5,756.8 637.6,749.5 640.6,753.3 643.6,762.1 646.7,760.8 649.7,761 652.7,766.3 655.7,765.6 658.8,763 661.8,774.4 664.8,782.6 667.9,776.6 670.9,784.4 673.9,776.4 677,789.2 680,789.5 683,786.8 686,792.2 689.1,788.5 692.1,796.5 695.1,798.6 698.2,797.9 701.2,805.6 704.2,799.2 707.3,804.7 710.3,805.9 713.3,812.4 716.3,808.9 719.4,799.4 722.4,816.1 725.4,820.9 728.5,825.1 731.5,818.7 734.5,823.4 737.6,830.6 740.6,824.4 743.6,832.6 746.6,832.5 749.7,836.7 752.7,829.2 755.7,835.8 758.8,831.2 761.8,847 764.8,839.4 767.9,846.9 770.9,832.8 773.9,840.9 776.9,843.1 780,836.7 783,825.8 786,851 789.1,845.6 792.1,833.3 795.1,833 798.2,842.3 801.2,836 804.2,831.2 807.2,834.9 810.3,840.8 813.3,843.8 816.3,838.5 819.4,847.2 822.4,840 825.4,828.9 828.5,837.8 831.5,826.3 834.5,827.7 837.5,828.4 840.6,827.8 843.6,829.2 846.6,822.6 849.7,813.7 852.7,790.6 855.7,813.5 858.8,810 861.8,812.6 864.8,810.6 867.8,809.6 870.9,798.9 873.9,793.1 876.9,797.7 880,792.5 883,785.5 886,787.8 889.1,775.3 892.1,766.4 895.1,771 898.1,771.8 901.2,754.4 904.2,762.3 907.2,755.9 910.3,741.6 913.3,728.9 916.3,727.4 919.4,717.4 922.4,719.3 925.4,701.4 928.4,706.4 931.5,697.8 934.5,689.8 937.5,690.1 940.6,667.9 943.6,680 946.6,666.7 949.7,666 952.7,641.9 955.7,633.3 958.7,646.9 961.8,653.7 964.8,644.4 967.8,628.8 970.9,643.4 973.9,642.5 976.9,648 980,642.7 983,652.8 986,646.8 989,657 992.1,648.3 995.1,659.6 998.1,676.8 1001.2,671.3 1004.2,665 1007.2,695.6 1010.3,677.9 1013.3,698.8 1016.3,694.5 1019.3,692 1022.4,705.4 1025.4,716.8 1028.4,732.8 1031.5,732.5 1034.5,754.4 1037.5,736.7 1040.6,766.3 1043.6,758.2 1046.6,767.3 1049.6,773.4 1052.7,779.3 1055.7,787.3 1058.7,790.4 1061.8,794.3 1064.8,780.7 1067.8,797.2 1070.9,815.9 1073.9,810.7 1076.9,815 1079.9,823.8 1083,824.1 1086,829 1089,850.8 1092.1,835.9 1095.1,825.1 1098.1,841.2 1101.2,829.7 1104.2,837.9 1107.2,835.4 1110.2,835 1113.3,840.1 1116.3,844.9 1119.3,848.4 1122.4,845.1 1125.4,856.2 1128.4,854.9 1131.5,862.3 1134.5,861.4 1137.5,861.7 1140.5,866.6 1143.6,869.9 1146.6,866 1149.6,875.7 1152.7,893.1 1155.7,879.4 1158.7,885.9 1161.8,883.3 1164.8,880.4 1167.8,887.5 1170.8,876.4 1173.9,894.2 1176.9,889.1 1179.9,885.5 1183,878.3 1186,879.2 1189,903.2 1192.1,900.9 1195.1,892.3 1198.1,895 1201.1,897.7 1204.2,881.9 1207.2,892.8 1210.2,902.6 1213.3,895.4 1216.3,892.5 1219.3,899.2 1222.4,894.6 1225.4,904.5 1228.4,901.8 1231.4,895.9 1234.5,907.9 1237.5,910.9 1240.5,895.8 1243.6,901.7 1246.6,928.2 1249.6,900.5 1252.7,906.6 1255.7,910.6 1258.7,896.7 1261.7,902.1 1264.8,883.9 1267.8,905 1270.8,910.3 1273.9,902 1276.9,905.5 1279.9,901.8 1283,917.4 1286,908.5 1289,903.8 1292,916 1295.1,930.4 1298.1,905.3 1301.1,922 1304.2,901.4 1307.2,913.2 1310.2,915.9 1313.3,913.3 1316.3,915.3 1319.3,883.5 1322.3,906.9 1325.4,910.2 1328.4,908.9 1331.4,895.7 1334.5,908.1 1337.5,908.7 1340.5,893.7 1343.6,914.4 1346.6,915.2 1349.6,920.8 1352.6,897.7 1355.7,898.6 1358.7,913.1 1361.7,904.5 1364.8,912.4 1367.8,925.6 1370.8,922.6 1373.9,907.1 1376.9,911.8 1379.9,922.6 1382.9,913.4 1386,908.4 1389,912.9 1392,906.1 1395.1,908.6 1398.1,917.7 1401.1,901.5 1404.2,916.8 1407.2,918.3 1410.2,918.5 1413.2,916.3 1416.3,919 1419.3,906.6 1422.3,921.9 1425.4,919.7 1428.4,920.8 1431.4,917 1434.5,915.1 1437.5,914.8 1440.5,922.3 1443.5,902.1 1446.6,918.1 1449.6,917.4 1452.6,903.2 1455.7,910.4 1458.7,914.4 1461.7,915.5 1464.8,919.6 1467.8,917.6 1470.8,910.2 1473.8,913.4 1476.9,911.3 1479.9,905.7 1482.9,915.4 1486,919.4 1489,914.4 1492,914.2 1495.1,917.4 1498.1,908.1 1501.1,924 1504.1,914.2 1507.2,911.8 1510.2,916.9 1513.2,903.7 1516.3,918.1 1519.3,920.9 1522.3,918.9 1525.4,918.7 1528.4,920.4 1531.4,912.2 1534.4,921.9 1537.5,916.9 1540.5,920 1543.5,926.4 1546.6,932.6 1549.6,934.5 1552.6,915.9 1555.7,926.9 1558.7,925 1561.7,936.5 1564.7,918 1567.8,926.5 1570.8,914.3 1573.8,918.6 1576.9,927 1579.9,912.9 1582.9,918.3 1586,911" fill="none" stroke="#000" stroke-width="1.2" stroke-linejoin="miter"/>
<polyline points="276.4,886.1 278.4,886.1 280.4,886.1 282.4,886.1 284.4,886.1 286.4,886.1 288.4,886.1 290.4,886.1 292.4,886.1 294.4,886.1 296.4,886.1 298.4,886.1 300.4,886.1 302.4,886.1 304.4,886.1 306.4,886.1 308.4,886.1 310.4,886.1 312.4,886.1 314.4,886.1 316.4,886.1 318.4,886.1 320.4,886.1 322.4,886.1 324.4,886.1 326.4,886.2 328.4,886.2 330.4,886.2 332.4,886.2 334.4,886.2 336.4,886.2 338.4,886.2 340.4,886.2 342.4,886.2 344.4,886.2 346.4,886.2 348.4,886.2 350.4,886.2 352.4,886.2 354.4,886.2 356.4,886.2 358.4,886.2 360.4,886.2 362.4,886.2 364.4,886.2 366.4,886.3 368.4,886.3 370.4,886.3 372.4,886.3 374.4,886.3 376.4,886.3 378.4,886.3 380.4,886.3 382.4,886.3 384.4,886.3 386.4,886.3 388.4,886.3 390.4,886.3 392.4,886.4 394.4,886.4 396.4,886.4 398.4,886.4 400.4,886.4 402.4,886.4 404.4,886.4 406.4,886.4 408.4,886.4 410.4,886.4 412.4,886.4 414.4,886.5 416.4,886.5 418.4,886.5 420.4,886.5 422.4,886.5 424.4,886.5 426.4,886.5 428.4,886.5 430.4,886.6 432.4,886.6 434.4,886.6 436.4,886.7 438.4,886.7 440.4,886.8 442.4,886.8 444.4,886.9 446.4,887 448.4,887 450.4,887.1 452.4,887.2 454.4,887.3 456.4,887.3 458.4,887.4 460.4,887.5 462.4,887.6 464.4,887.7 466.4,887.8 468.4,887.9 470.4,888 472.4,888.1 474.4,888.3 476.4,888.4 478.4,888.5 480.4,888.6 482.4,888.7 484.4,888.9 486.4,889 488.4,889.1 490.4,889.2 492.4,889.4 494.4,889.5 496.4,889.6 498.4,889.8 500.4,889.9 502.4,890 504.4,890.2 506.4,890.3 508.4,890.4 510.4,890.6 512.4,890.7 514.4,890.8 516.4,891 518.4,891.1 520.4,891.2 522.4,891.4 524.4,891.5 526.4,891.6 528.4,891.7 530.4,891.9 532.4,892 534.4,892.1 536.4,892.2 538.4,892.4 540.4,892.5 542.4,892.6 544.4,892.7 546.4,892.8 548.4,892.9 550.4,893 552.4,893.1 554.4,893.2 556.4,893.3 558.4,893.4 560.4,893.5 562.4,893.6 564.4,893.7 566.4,893.8 568.4,893.9 570.4,894 572.4,894 574.4,894.1 576.4,894.2 578.4,894.3 580.4,894.4 582.4,894.5 584.4,894.5 586.4,894.6 588.4,894.7 590.4,894.8 592.4,894.9 594.4,894.9 596.4,895 598.4,895.1 600.4,895.2 602.4,895.2 604.4,895.3 606.4,895.4 608.4,895.5 610.4,895.5 612.4,895.6 614.4,895.7 616.4,895.8 618.4,895.8 620.4,895.9 622.4,896 624.4,896.1 626.4,896.1 628.4,896.2 630.4,896.3 632.4,896.3 634.4,896.4 636.4,896.5 638.4,896.6 640.4,896.6 642.4,896.7 644.4,896.8 646.4,896.8 648.4,896.9 650.4,897 652.4,897 654.4,897.1 656.4,897.2 658.4,897.2 660.4,897.3 662.4,897.4 664.4,897.5 666.4,897.5 668.4,897.6 670.4,897.7 672.4,897.7 674.4,897.8 676.4,897.9 678.4,897.9 680.4,898 682.4,898.1 684.4,898.1 686.4,898.2 688.4,898.3 690.4,898.3 692.4,898.4 694.4,898.5 696.4,898.5 698.4,898.6 700.4,898.7 702.4,898.8 704.4,898.8 706.4,898.9 708.4,899 710.4,899 712.4,899.1 714.4,899.2 716.4,899.2 718.4,899.3 720.4,899.4 722.4,899.5 724.4,899.5 726.4,899.6 728.4,899.7 730.4,899.8 732.4,899.8 734.4,899.9 736.4,900 738.4,900 740.4,900.1 742.4,900.2 744.4,900.3 746.4,900.4 748.4,900.4 750.4,900.5 752.4,900.6 754.4,900.7 756.4,900.7 758.4,900.8 760.4,900.9 762.4,901 764.4,901.1 766.4,901.1 768.4,901.2 770.4,901.3 772.4,901.4 774.4,901.5 776.4,901.6 778.4,901.6 780.4,901.7 782.4,901.8 784.4,901.9 786.4,902 788.4,902.1 790.4,902.2 792.4,902.3 794.4,902.3 796.4,902.4 798.4,902.5 800.4,902.6 802.4,902.7 804.4,902.8 806.4,902.9 808.4,903 810.4,903.1 812.4,903.2 814.4,903.3 816.4,903.4 818.4,903.5 820.4,903.7 822.4,903.8 824.4,903.9 826.4,904 828.4,904.1 830.4,904.2 832.4,904.4 834.4,904.5 836.4,904.6 838.4,904.7 840.4,904.9 842.4,905 844.4,905.1 846.4,905.3 848.4,905.4 850.4,905.5 852.4,905.7 854.4,905.8 856.4,905.9 858.4,906.1 860.4,906.2 862.4,906.3 864.4,906.5 866.4,906.6 868.4,906.8 870.4,906.9 872.4,907.1 874.4,907.2 876.4,907.3 878.4,907.5 880.4,907.6 882.4,907.8 884.4,907.9 886.4,908.1 888.4,908.2 890.4,908.4 892.4,908.5 894.4,908.7 896.4,908.8 898.4,909 900.4,909.1 902.4,909.3 904.4,909.4 906.4,909.6 908.4,909.7 910.4,909.9 912.4,910 914.4,910.2 916.4,910.3 918.4,910.5 920.4,910.6 922.4,910.8 924.4,910.9 926.4,911.1 928.4,911.2 930.4,911.4 932.4,911.5 934.4,911.7 936.4,911.8 938.4,912 940.4,912.1 942.4,912.3 944.4,912.4 946.4,912.6 948.4,912.7 950.4,912.8 952.4,913 954.4,913.1 956.4,913.3 958.4,913.4 960.4,913.5 962.4,913.7 964.4,913.8 966.4,914 968.4,914.1 970.4,914.2 972.4,914.4 974.4,914.5 976.4,914.6 978.4,914.7 980.4,914.9 982.4,915 984.4,915.1 986.4,915.2 988.4,915.4 990.4,915.5 992.4,915.6 994.4,915.7 996.4,915.8 998.4,915.9 1000.4,916 1002.4,916.1 1004.4,916.3 1006.4,916.4 1008.4,916.5 1010.4,916.6 1012.4,916.7 1014.4,916.8 1016.4,916.8 1018.4,916.9 1020.4,917 1022.4,917.1 1024.4,917.2 1026.4,917.3 1028.4,917.4 1030.4,917.4 1032.4,917.5 1034.4,917.6 1036.4,917.7 1038.4,917.7 1040.4,917.8 1042.4,917.9 1044.4,917.9 1046.4,918 1048.4,918 1050.4,918.1 1052.4,918.1 1054.4,918.2 1056.4,918.2 1058.4,918.3 1060.4,918.3 1062.4,918.3 1064.4,918.4 1066.4,918.4 1068.4,918.5 1070.4,918.5 1072.4,918.5 1074.4,918.6 1076.4,918.6 1078.4,918.6 1080.4,918.7 1082.4,918.7 1084.4,918.7 1086.4,918.8 1088.4,918.8 1090.4,918.8 1092.4,918.9 1094.4,918.9 1096.4,918.9 1098.4,919 1100.4,919 1102.4,919 1104.4,919.1 1106.4,919.1 1108.4,919.1 1110.4,919.2 1112.4,919.2 1114.4,919.2 1116.4,919.2 1118.4,919.3 1120.4,919.3 1122.4,919.3 1124.4,919.4 1126.4,919.4 1128.4,919.4 1130.4,919.5 1132.4,919.5 1134.4,919.5 1136.4,919.5 1138.4,919.6 1140.4,919.6 1142.4,919.6 1144.4,919.7 1146.4,919.7 1148.4,919.7 1150.4,919.7 1152.4,919.8 1154.4,919.8 1156.4,919.8 1158.4,919.8 1160.4,919.9 1162.4,919.9 1164.4,919.9 1166.4,919.9 1168.4,920 1170.4,920 1172.4,920 1174.4,920 1176.4,920.1 1178.4,920.1 1180.4,920.1 1182.4,920.1 1184.4,920.2 1186.4,920.2 1188.4,920.2 1190.4,920.2 1192.4,920.3 1194.4,920.3 1196.4,920.3 1198.4,920.3 1200.4,920.4 1202.4,920.4 1204.4,920.4 1206.4,920.4 1208.4,920.4 1210.4,920.5 1212.4,920.5 1214.4,920.5 1216.4,920.5 1218.4,920.6 1220.4,920.6 1222.4,920.6 1224.4,920.6 1226.4,920.6 1228.4,920.7 1230.4,920.7 1232.4,920.7 1234.4,920.7 1236.4,920.7 1238.4,920.8 1240.4,920.8 1242.4,920.8 1244.4,920.8 1246.4,920.8 1248.4,920.9 1250.4,920.9 1252.4,920.9 1254.4,920.9 1256.4,920.9 1258.4,921 1260.4,921 1262.4,921 1264.4,921 1266.4,921 1268.4,921 1270.4,921.1 1272.4,921.1 1274.4,921.1 1276.4,921.1 1278.4,921.1 1280.4,921.2 1282.4,921.2 1284.4,921.2 1286.4,921.2 1288.4,921.2 1290.4,921.2 1292.4,921.3 1294.4,921.3 1296.4,921.3 1298.4,921.3 1300.4,921.3 1302.4,921.3 1304.4,921.4 1306.4,921.4 1308.4,921.4 1310.4,921.4 1312.4,921.4 1314.4,921.4 1316.4,921.4 1318.4,921.5 1320.4,921.5 1322.4,921.5 1324.4,921.5 1326.4,921.5 1328.4,921.5 1330.4,921.6 1332.4,921.6 1334.4,921.6 1336.4,921.6 1338.4,921.6 1340.4,921.6 1342.4,921.6 1344.4,921.7 1346.4,921.7 1348.4,921.7 1350.4,921.7 1352.4,921.7 1354.4,921.7 1356.4,921.7 1358.4,921.8 1360.4,921.8 1362.4,921.8 1364.4,921.8 1366.4,921.8 1368.4,921.8 1370.4,921.8 1372.4,921.8 1374.4,921.9 1376.4,921.9 1378.4,921.9 1380.4,921.9 1382.4,921.9 1384.4,921.9 1386.4,921.9 1388.4,922 1390.4,922 1392.4,922 1394.4,922 1396.4,922 1398.4,922 1400.4,922 1402.4,922 1404.4,922.1 1406.4,922.1 1408.4,922.1 1410.4,922.1 1412.4,922.1 1414.4,922.1 1416.4,922.1 1418.4,922.1 1420.4,922.2 1422.4,922.2 1424.4,922.2 1426.4,922.2 1428.4,922.2 1430.4,922.2 1432.4,922.2 1433,922.2" fill="none" stroke="#0000FF" stroke-width="1.1"/>
<polyline points="276.4,869 278.4,868.7 280.4,868.4 282.4,868.2 284.4,867.9 286.4,867.6 288.4,867.3 290.4,867 292.4,866.6 294.4,866.3 296.4,866 298.4,865.7 300.4,865.4 302.4,865.1 304.4,864.7 306.4,864.4 308.4,864.1 310.4,863.8 312.4,863.5 314.4,863.2 316.4,862.9 318.4,862.6 320.4,862.3 322.4,862 324.4,861.7 326.4,861.4 328.4,861.1 330.4,860.8 332.4,860.5 334.4,860.2 336.4,859.8 338.4,859.5 340.4,859.1 342.4,858.7 344.4,858.4 346.4,857.9 348.4,857.5 350.4,857.1 352.4,856.6 354.4,856.1 356.4,855.5 358.4,855 360.4,854.4 362.4,853.7 364.4,853 366.4,852.3 368.4,851.5 370.4,850.6 372.4,849.8 374.4,848.8 376.4,847.8 378.4,846.8 380.4,845.7 382.4,844.5 384.4,843.3 386.4,842 388.4,840.6 390.4,839.2 392.4,837.6 394.4,836.1 396.4,834.4 398.4,832.6 400.4,830.8 402.4,828.9 404.4,826.8 406.4,824.7 408.4,822.5 410.4,820.2 412.4,817.8 414.4,815.3 416.4,812.7 418.4,810 420.4,807.2 422.4,804.3 424.4,801.3 426.4,798.1 428.4,794.9 430.4,791.6 432.4,788.2 434.4,784.7 436.4,781.2 438.4,777.7 440.4,774.2 442.4,770.7 444.4,767.2 446.4,763.9 448.4,760.7 450.4,757.7 452.4,754.9 454.4,752.4 456.4,750.3 458.4,748.5 460.4,747.1 462.4,746.1 464.4,745.5 466.4,745.3 468.4,745.5 470.4,746 472.4,746.9 474.4,748 476.4,749.4 478.4,750.9 480.4,752.6 482.4,754.4 484.4,756.2 486.4,758.1 488.4,759.9 490.4,761.7 492.4,763.5 494.4,765.2 496.4,766.8 498.4,768.2 500.4,769.6 502.4,770.9 504.4,772 506.4,773 508.4,773.9 510.4,774.6 512.4,775.3 514.4,775.8 516.4,776.1 518.4,776.4 520.4,776.6 522.4,776.6 524.4,776.5 526.4,776.3 528.4,776.1 530.4,775.7 532.4,775.2 534.4,774.6 536.4,774 538.4,773.3 540.4,772.5 542.4,771.6 544.4,770.7 546.4,769.7 548.4,768.7 550.4,767.6 552.4,766.5 554.4,765.4 556.4,764.3 558.4,763.1 560.4,762 562.4,760.8 564.4,759.6 566.4,758.5 568.4,757.4 570.4,756.3 572.4,755.2 574.4,754.2 576.4,753.1 578.4,752.2 580.4,751.2 582.4,750.3 584.4,749.5 586.4,748.7 588.4,748 590.4,747.3 592.4,746.7 594.4,746.1 596.4,745.6 598.4,745.2 600.4,744.9 602.4,744.7 604.4,744.5 606.4,744.5 608.4,744.5 610.4,744.7 612.4,745 614.4,745.3 616.4,745.8 618.4,746.4 620.4,747.1 622.4,747.8 624.4,748.7 626.4,749.6 628.4,750.6 630.4,751.7 632.4,752.8 634.4,754 636.4,755.2 638.4,756.5 640.4,757.8 642.4,759.2 644.4,760.6 646.4,762 648.4,763.4 650.4,764.9 652.4,766.4 654.4,767.9 656.4,769.4 658.4,771 660.4,772.6 662.4,774.2 664.4,775.8 666.4,777.4 668.4,779 670.4,780.7 672.4,782.3 674.4,783.9 676.4,785.5 678.4,787 680.4,788.6 682.4,790.1 684.4,791.6 686.4,793.1 688.4,794.6 690.4,796 692.4,797.5 694.4,798.9 696.4,800.4 698.4,801.8 700.4,803.2 702.4,804.7 704.4,806.1 706.4,807.5 708.4,808.8 710.4,810.2 712.4,811.5 714.4,812.9 716.4,814.2 718.4,815.4 720.4,816.7 722.4,817.9 724.4,819.1 726.4,820.3 728.4,821.4 730.4,822.5 732.4,823.6 734.4,824.6 736.4,825.6 738.4,826.6 740.4,827.5 742.4,828.4 744.4,829.2 746.4,830 748.4,830.8 750.4,831.6 752.4,832.3 754.4,833 756.4,833.7 758.4,834.3 760.4,834.9 762.4,835.5 764.4,836 766.4,836.5 768.4,837 770.4,837.5 772.4,837.9 774.4,838.2 776.4,838.6 778.4,838.9 780.4,839.1 782.4,839.4 784.4,839.6 786.4,839.7 788.4,839.9 790.4,839.9 792.4,840 794.4,839.9 796.4,839.9 798.4,839.8 800.4,839.6 802.4,839.4 804.4,839.1 806.4,838.7 808.4,838.3 810.4,837.9 812.4,837.4 814.4,836.8 816.4,836.2 818.4,835.6 820.4,835 822.4,834.3 824.4,833.6 826.4,832.8 828.4,832 830.4,831.2 832.4,830.3 834.4,829.4 836.4,828.5 838.4,827.4 840.4,826.4 842.4,825.2 844.4,824 846.4,822.8 848.4,821.4 850.4,820 852.4,818.5 854.4,817 856.4,815.4 858.4,813.7 860.4,812 862.4,810.2 864.4,808.4 866.4,806.4 868.4,804.5 870.4,802.4 872.4,800.2 874.4,798 876.4,795.7 878.4,793.3 880.4,790.8 882.4,788.2 884.4,785.5 886.4,782.7 888.4,779.8 890.4,776.8 892.4,773.7 894.4,770.4 896.4,767.1 898.4,763.7 900.4,760.1 902.4,756.5 904.4,752.8 906.4,749 908.4,745.1 910.4,741.1 912.4,737.1 914.4,733 916.4,728.8 918.4,724.6 920.4,720.4 922.4,716.1 924.4,711.8 926.4,707.5 928.4,703.2 930.4,699 932.4,694.7 934.4,690.5 936.4,686.3 938.4,682.2 940.4,678.2 942.4,674.3 944.4,670.4 946.4,666.8 948.4,663.2 950.4,659.8 952.4,656.6 954.4,653.6 956.4,650.9 958.4,648.4 960.4,646.1 962.4,644.2 964.4,642.5 966.4,641.2 968.4,640.1 970.4,639.4 972.4,639 974.4,639 976.4,639.3 978.4,639.9 980.4,640.9 982.4,642.1 984.4,643.7 986.4,645.6 988.4,647.8 990.4,650.2 992.4,652.9 994.4,655.9 996.4,659 998.4,662.4 1000.4,666 1002.4,669.8 1004.4,673.7 1006.4,677.8 1008.4,681.9 1010.4,686.2 1012.4,690.6 1014.4,695.1 1016.4,699.6 1018.4,704.1 1020.4,708.7 1022.4,713.3 1024.4,718 1026.4,722.6 1028.4,727.2 1030.4,731.8 1032.4,736.3 1034.4,740.9 1036.4,745.3 1038.4,749.7 1040.4,754.1 1042.4,758.4 1044.4,762.6 1046.4,766.8 1048.4,770.8 1050.4,774.8 1052.4,778.7 1054.4,782.5 1056.4,786.1 1058.4,789.7 1060.4,793.1 1062.4,796.4 1064.4,799.5 1066.4,802.5 1068.4,805.4 1070.4,808.2 1072.4,810.8 1074.4,813.2 1076.4,815.5 1078.4,817.7 1080.4,819.8 1082.4,821.7 1084.4,823.5 1086.4,825.1 1088.4,826.7 1090.4,828.2 1092.4,829.6 1094.4,831 1096.4,832.3 1098.4,833.5 1100.4,834.8 1102.4,836 1104.4,837.3 1106.4,838.6 1108.4,840 1110.4,841.4 1112.4,842.8 1114.4,844.4 1116.4,845.9 1118.4,847.6 1120.4,849.3 1122.4,851 1124.4,852.8 1126.4,854.5 1128.4,856.3 1130.4,858.1 1132.4,859.8 1134.4,861.5 1136.4,863.2 1138.4,864.8 1140.4,866.4 1142.4,867.9 1144.4,869.4 1146.4,870.8 1148.4,872.2 1150.4,873.5 1152.4,874.8 1154.4,876 1156.4,877.2 1158.4,878.3 1160.4,879.3 1162.4,880.4 1164.4,881.3 1166.4,882.3 1168.4,883.2 1170.4,884 1172.4,884.9 1174.4,885.6 1176.4,886.4 1178.4,887.2 1180.4,887.9 1182.4,888.5 1184.4,889.2 1186.4,889.8 1188.4,890.5 1190.4,891.1 1192.4,891.7 1194.4,892.2 1196.4,892.8 1198.4,893.4 1200.4,893.9 1202.4,894.5 1204.4,895 1206.4,895.5 1208.4,896 1210.4,896.5 1212.4,897 1214.4,897.5 1216.4,897.9 1218.4,898.3 1220.4,898.7 1222.4,899.1 1224.4,899.5 1226.4,899.8 1228.4,900.2 1230.4,900.5 1232.4,900.8 1234.4,901.1 1236.4,901.4 1238.4,901.7 1240.4,902 1242.4,902.3 1244.4,902.6 1246.4,902.9 1248.4,903.2 1250.4,903.4 1252.4,903.5 1254.4,903.7 1256.4,903.8 1258.4,904 1260.4,904.2 1262.4,904.3 1264.4,904.5 1266.4,904.8 1268.4,905 1270.4,905.2 1272.4,905.5 1274.4,905.8 1276.4,906.1 1278.4,906.4 1280.4,906.7 1282.4,907 1284.4,907.3 1286.4,907.5 1288.4,907.7 1290.4,907.9 1292.4,908.1 1294.4,908.2 1296.4,908.4 1298.4,908.6 1300.4,908.7 1302.4,908.9 1304.4,909.1 1306.4,909.2 1308.4,909.4 1310.4,909.5 1312.4,909.7 1314.4,909.8 1316.4,910 1318.4,910.1 1320.4,910.3 1322.4,910.4 1324.4,910.4 1326.4,910.4 1328.4,910.4 1330.4,910.4 1332.4,910.5 1334.4,910.5 1336.4,910.6 1338.4,910.7 1340.4,910.7 1342.4,910.8 1344.4,910.9 1346.4,911 1348.4,911.2 1350.4,911.3 1352.4,911.4 1354.4,911.5 1356.4,911.7 1358.4,911.8 1360.4,911.9 1362.4,912 1364.4,912.1 1366.4,912.2 1368.4,912.3 1370.4,912.4 1372.4,912.5 1374.4,912.6 1376.4,912.7 1378.4,912.8 1380.4,912.9 1382.4,913 1384.4,913.1 1386.4,913.2 1388.4,913.2 1390.4,913.3 1392.4,913.4 1394.4,913.5 1396.4,913.6 1398.4,913.7 1400.4,913.7 1402.4,913.8 1404.4,913.9 1406.4,914 1408.4,914.1 1410.4,914.2 1412.4,914.2 1414.4,914.3 1416.4,914.4 1418.4,914.5 1420.4,914.6 1422.4,914.7 1424.4,914.7 1426.4,914.8 1428.4,914.9 1430.4,914.9 1432.4,915 1433,915" fill="none" stroke="#FF0000" stroke-width="6.3" stroke-linecap="round" stroke-linejoin="round"/>
<path d="M276.4,876.4L277.4,876.4L278.4,876.3L279.4,876.3L280.4,876.2L281.4,876.2L282.4,876.1L283.4,876.1L284.4,876L285.4,876L286.4,875.9L287.4,875.9L288.4,875.8M310.7,874.6L311.4,874.6L312.4,874.5L313.4,874.5L314.4,874.4L315.4,874.3L316.4,874.3L317.4,874.2L318.4,874.1L319.4,874.1L320.4,874L321.4,873.9L322.4,873.8L322.7,873.8M345,871.8L345.4,871.8L346.4,871.7L347.4,871.6L348.4,871.5L349.4,871.3L350.4,871.2L351.4,871.1L352.4,871L353.4,870.9L354.4,870.8L355.4,870.6L356.4,870.5L357,870.4M379.3,867.2L379.4,867.2L380.4,867.1L381.4,866.9L382.4,866.8L383.4,866.6L384.4,866.4L385.4,866.3L386.4,866.1L387.4,866L388.4,865.8L389.4,865.6L390.4,865.5L391.3,865.3M413.6,861.3L414.4,861.1L415.4,860.9L416.4,860.7L417.4,860.5L418.4,860.2L419.4,860L420.4,859.8L421.4,859.5L422.4,859.3L423.4,859.1L424.4,858.8L425.4,858.6L425.6,858.5M447.9,852.2L448.4,852L449.4,851.7L450.4,851.4L451.4,851L452.4,850.7L453.4,850.3L454.4,850L455.4,849.6L456.4,849.2L457.4,848.9L458.4,848.5L459.4,848.1L459.9,847.9M482.2,837.7L482.4,837.6L483.4,837.1L484.4,836.6L485.4,836.1L486.4,835.6L487.4,835L488.4,834.5L489.4,833.9L490.4,833.4L491.4,832.8L492.4,832.3L493.4,831.7L494.2,831.3M516.5,816.9L517.4,816.3L518.4,815.5L519.4,814.8L520.4,814.1L521.4,813.3L522.4,812.6L523.4,811.8L524.4,811L525.4,810.3L526.4,809.5L527.4,808.7L528.4,807.9L528.5,807.8M550.8,789.2L551.4,788.7L552.4,787.8L553.4,787L554.4,786.2L555.4,785.4L556.4,784.6L557.4,783.8L558.4,783L559.4,782.2L560.4,781.4L561.4,780.6L562.4,779.9L562.8,779.6M585.1,765.6L585.4,765.4L586.4,764.9L587.4,764.5L588.4,764L589.4,763.6L590.4,763.2L591.4,762.8L592.4,762.4L593.4,762L594.4,761.7L595.4,761.4L596.4,761.1L597.1,760.9M619.4,760.6L620.4,760.9L621.4,761.2L622.4,761.5L623.4,761.8L624.4,762.2L625.4,762.6L626.4,763L627.4,763.4L628.4,763.8L629.4,764.3L630.4,764.8L631.4,765.3M653.7,780.6L654.4,781.2L655.4,782L656.4,782.8L657.4,783.7L658.4,784.5L659.4,785.4L660.4,786.2L661.4,787.1L662.4,788L663.4,788.8L664.4,789.7L665.4,790.6L665.7,790.9M688,810.5L688.4,810.9L689.4,811.7L690.4,812.6L691.4,813.5L692.4,814.3L693.4,815.2L694.4,816L695.4,816.9L696.4,817.7L697.4,818.6L698.4,819.4L699.4,820.2L700,820.7M722.3,838L722.4,838.1L723.4,838.8L724.4,839.4L725.4,840.1L726.4,840.8L727.4,841.5L728.4,842.1L729.4,842.8L730.4,843.4L731.4,844.1L732.4,844.7L733.4,845.3L734.3,845.9M756.6,858.2L757.4,858.6L758.4,859.1L759.4,859.6L760.4,860.1L761.4,860.6L762.4,861L763.4,861.5L764.4,862L765.4,862.4L766.4,862.9L767.4,863.4L768.4,863.8L768.6,863.9M790.9,872.9L791.4,873.1L792.4,873.4L793.4,873.7L794.4,874.1L795.4,874.4L796.4,874.7L797.4,875L798.4,875.3L799.4,875.6L800.4,875.9L801.4,876.1L802.4,876.4L802.9,876.5M825.2,881.6L825.4,881.6L826.4,881.8L827.4,882L828.4,882.2L829.4,882.4L830.4,882.6L831.4,882.8L832.4,883L833.4,883.2L834.4,883.4L835.4,883.6L836.4,883.8L837.2,884M859.5,887.9L860.4,888L861.4,888.2L862.4,888.4L863.4,888.5L864.4,888.7L865.4,888.9L866.4,889L867.4,889.2L868.4,889.4L869.4,889.6L870.4,889.7L871.4,889.9L871.5,889.9M893.8,893.7L894.4,893.8L895.4,894L896.4,894.1L897.4,894.3L898.4,894.4L899.4,894.6L900.4,894.7L901.4,894.8L902.4,894.9L903.4,895L904.4,895L905.4,895.1L905.8,895.1M928.1,897.2L928.4,897.2L929.4,897.3L930.4,897.5L931.4,897.6L932.4,897.8L933.4,897.9L934.4,898L935.4,898.2L936.4,898.3L937.4,898.4L938.4,898.6L939.4,898.7L940.1,898.8M962.4,902.3L963.4,902.6L964.4,902.8L965.4,903L966.4,903.2L967.4,903.3L968.4,903.5L969.4,903.7L970.4,903.8L971.4,903.9L972.4,904L973.4,904.1L974.4,904.2M996.7,906.1L997.4,906.1L998.4,906.2L999.4,906.3L1000.4,906.4L1001.4,906.5L1002.4,906.6L1003.4,906.7L1004.4,906.8L1005.4,906.8L1006.4,906.9L1007.4,907L1008.4,907.1L1008.7,907.1M1031,909.7L1031.4,909.8L1032.4,909.9L1033.4,910.1L1034.4,910.2L1035.4,910.4L1036.4,910.5L1037.4,910.6L1038.4,910.7L1039.4,910.9L1040.4,911L1041.4,911.1L1042.4,911.1L1043,911.2M1065.3,912.5L1065.4,912.5L1066.4,912.5L1067.4,912.6L1068.4,912.6L1069.4,912.7L1070.4,912.7L1071.4,912.8L1072.4,912.8L1073.4,912.8L1074.4,912.9L1075.4,912.9L1076.4,913L1077.3,913M1099.6,914L1100.4,914L1101.4,914.1L1102.4,914.1L1103.4,914.2L1104.4,914.2L1105.4,914.3L1106.4,914.3L1107.4,914.3L1108.4,914.4L1109.4,914.4L1110.4,914.5L1111.4,914.5L1111.6,914.5M1133.9,915.3L1134.4,915.3L1135.4,915.3L1136.4,915.3L1137.4,915.4L1138.4,915.4L1139.4,915.4L1140.4,915.5L1141.4,915.5L1142.4,915.5L1143.4,915.5L1144.4,915.6L1145.4,915.6L1145.9,915.6M1168.2,916.2L1168.4,916.2L1169.4,916.2L1170.4,916.3L1171.4,916.3L1172.4,916.3L1173.4,916.3L1174.4,916.4L1175.4,916.4L1176.4,916.4L1177.4,916.4L1178.4,916.5L1179.4,916.5L1180.2,916.5M1202.5,917L1203.4,917.1L1204.4,917.1L1205.4,917.1L1206.4,917.1L1207.4,917.1L1208.4,917.2L1209.4,917.2L1210.4,917.2L1211.4,917.2L1212.4,917.3L1213.4,917.3L1214.4,917.3L1214.5,917.3M1236.8,917.7L1237.4,917.8L1238.4,917.8L1239.4,917.8L1240.4,917.8L1241.4,917.8L1242.4,917.9L1243.4,917.9L1244.4,917.9L1245.4,917.9L1246.4,917.9L1247.4,918L1248.4,918L1248.8,918M1271.1,918.4L1271.4,918.4L1272.4,918.4L1273.4,918.4L1274.4,918.4L1275.4,918.4L1276.4,918.5L1277.4,918.5L1278.4,918.5L1279.4,918.5L1280.4,918.5L1281.4,918.5L1282.4,918.6L1283.1,918.6M1305.4,918.9L1306.4,918.9L1307.4,918.9L1308.4,919L1309.4,919L1310.4,919L1311.4,919L1312.4,919L1313.4,919L1314.4,919L1315.4,919.1L1316.4,919.1L1317.4,919.1M1339.7,919.4L1340.4,919.4L1341.4,919.4L1342.4,919.4L1343.4,919.4L1344.4,919.5L1345.4,919.5L1346.4,919.5L1347.4,919.5L1348.4,919.5L1349.4,919.5L1350.4,919.5L1351.4,919.5L1351.7,919.6M1374,919.8L1374.4,919.8L1375.4,919.8L1376.4,919.9L1377.4,919.9L1378.4,919.9L1379.4,919.9L1380.4,919.9L1381.4,919.9L1382.4,919.9L1383.4,919.9L1384.4,919.9L1385.4,920L1386,920M1408.3,920.2L1408.4,920.2L1409.4,920.2L1410.4,920.2L1411.4,920.3L1412.4,920.3L1413.4,920.3L1414.4,920.3L1415.4,920.3L1416.4,920.3L1417.4,920.3L1418.4,920.3L1419.4,920.3L1420.3,920.3" fill="none" stroke="#008000" stroke-width="4.4" stroke-linecap="round" stroke-linejoin="round"/>
<path d="M276.4,886.1L277.4,886.1L278.4,886.1L279.4,886.1L280.4,886.1L281.4,886.1L282.4,886.1L283.4,886.1L284.4,886.1L285.4,886.1L286.4,886.1L287.4,886.1L288.4,886.1M310.7,886.1L311.4,886.1L312.4,886.1L313.4,886.1L314.4,886.1L315.4,886.1L316.4,886.1L317.4,886.1L318.4,886.1L319.4,886.1L320.4,886.1L321.4,886.1L322.4,886.1L322.7,886.1M345,886.1L345.4,886.1L346.4,886.1L347.4,886.2L348.4,886.2L349.4,886.2L350.4,886.2L351.4,886.2L352.4,886.2L353.4,886.2L354.4,886.2L355.4,886.2L356.4,886.2L357,886.2M379.3,886.3L379.4,886.3L380.4,886.3L381.4,886.3L382.4,886.3L383.4,886.3L384.4,886.3L385.4,886.3L386.4,886.3L387.4,886.3L388.4,886.3L389.4,886.3L390.4,886.3L391.3,886.3M413.6,886.4L414.4,886.4L415.4,886.4L416.4,886.4L417.4,886.4L418.4,886.4L419.4,886.4L420.4,886.4L421.4,886.4L422.4,886.4L423.4,886.4L424.4,886.4L425.4,886.5L425.6,886.5M447.9,886.9L448.4,887L449.4,887L450.4,887L451.4,887.1L452.4,887.1L453.4,887.1L454.4,887.2L455.4,887.2L456.4,887.3L457.4,887.3L458.4,887.4L459.4,887.4L459.9,887.4M482.2,888.6L482.4,888.7L483.4,888.7L484.4,888.8L485.4,888.8L486.4,888.9L487.4,889L488.4,889L489.4,889.1L490.4,889.2L491.4,889.2L492.4,889.3L493.4,889.4L494.2,889.4M516.5,890.9L517.4,891L518.4,891L519.4,891.1L520.4,891.1L521.4,891.2L522.4,891.3L523.4,891.3L524.4,891.4L525.4,891.5L526.4,891.5L527.4,891.6L528.4,891.7L528.5,891.7M550.8,893L551.4,893L552.4,893.1L553.4,893.1L554.4,893.2L555.4,893.2L556.4,893.2L557.4,893.3L558.4,893.3L559.4,893.4L560.4,893.4L561.4,893.5L562.4,893.5L562.8,893.5M585.1,894.5L585.4,894.5L586.4,894.5L587.4,894.6L588.4,894.6L589.4,894.6L590.4,894.7L591.4,894.7L592.4,894.7L593.4,894.8L594.4,894.8L595.4,894.9L596.4,894.9L597.1,894.9M619.4,895.8L620.4,895.8L621.4,895.8L622.4,895.9L623.4,895.9L624.4,895.9L625.4,896L626.4,896L627.4,896L628.4,896.1L629.4,896.1L630.4,896.2L631.4,896.2M653.7,897L654.4,897L655.4,897L656.4,897L657.4,897.1L658.4,897.1L659.4,897.1L660.4,897.2L661.4,897.2L662.4,897.2L663.4,897.3L664.4,897.3L665.4,897.3L665.7,897.4M688,898.1L688.4,898.1L689.4,898.2L690.4,898.2L691.4,898.2L692.4,898.3L693.4,898.3L694.4,898.3L695.4,898.4L696.4,898.4L697.4,898.4L698.4,898.5L699.4,898.5L700,898.5M722.3,899.3L722.4,899.3L723.4,899.3L724.4,899.4L725.4,899.4L726.4,899.4L727.4,899.5L728.4,899.5L729.4,899.5L730.4,899.6L731.4,899.6L732.4,899.6L733.4,899.7L734.3,899.7M756.6,900.5L757.4,900.6L758.4,900.6L759.4,900.6L760.4,900.7L761.4,900.7L762.4,900.8L763.4,900.8L764.4,900.8L765.4,900.9L766.4,900.9L767.4,901L768.4,901L768.6,901M790.9,901.9L791.4,901.9L792.4,902L793.4,902L794.4,902.1L795.4,902.1L796.4,902.2L797.4,902.2L798.4,902.3L799.4,902.3L800.4,902.3L801.4,902.4L802.4,902.4L802.9,902.5M825.2,903.6L825.4,903.6L826.4,903.7L827.4,903.7L828.4,903.8L829.4,903.8L830.4,903.9L831.4,904L832.4,904L833.4,904.1L834.4,904.1L835.4,904.2L836.4,904.3L837.2,904.3M859.5,905.7L860.4,905.8L861.4,905.8L862.4,905.9L863.4,906L864.4,906L865.4,906.1L866.4,906.2L867.4,906.3L868.4,906.3L869.4,906.4L870.4,906.5L871.4,906.5L871.5,906.5M893.8,908.1L894.4,908.1L895.4,908.2L896.4,908.3L897.4,908.3L898.4,908.4L899.4,908.5L900.4,908.5L901.4,908.6L902.4,908.7L903.4,908.8L904.4,908.8L905.4,908.9L905.8,908.9M928.1,910.4L928.4,910.5L929.4,910.5L930.4,910.6L931.4,910.7L932.4,910.7L933.4,910.8L934.4,910.9L935.4,910.9L936.4,911L937.4,911L938.4,911.1L939.4,911.2L940.1,911.2M962.4,912.5L963.4,912.6L964.4,912.6L965.4,912.7L966.4,912.7L967.4,912.8L968.4,912.8L969.4,912.9L970.4,912.9L971.4,913L972.4,913L973.4,913.1L974.4,913.1M996.7,914L997.4,914L998.4,914L999.4,914L1000.4,914.1L1001.4,914.1L1002.4,914.1L1003.4,914.1L1004.4,914.1L1005.4,914.2L1006.4,914.2L1007.4,914.2L1008.4,914.2L1008.7,914.2M1031,913.9L1031.4,913.8L1032.4,913.8L1033.4,913.7L1034.4,913.6L1035.4,913.6L1036.4,913.5L1037.4,913.4L1038.4,913.3L1039.4,913.2L1040.4,913.1L1041.4,913L1042.4,912.9L1043,912.8M1065.3,909.8L1065.4,909.8L1066.4,909.6L1067.4,909.4L1068.4,909.3L1069.4,909L1070.4,908.8L1071.4,908.6L1072.4,908.4L1073.4,908.2L1074.4,907.9L1075.4,907.7L1076.4,907.4L1077.3,907.2M1099.6,900.6L1100.4,900.4L1101.4,900.2L1102.4,899.9L1103.4,899.7L1104.4,899.6L1105.4,899.4L1106.4,899.3L1107.4,899.2L1108.4,899.1L1109.4,899L1110.4,899L1111.4,899L1111.6,899M1133.9,904.9L1134.4,905.1L1135.4,905.5L1136.4,905.9L1137.4,906.2L1138.4,906.6L1139.4,907L1140.4,907.4L1141.4,907.7L1142.4,908.1L1143.4,908.4L1144.4,908.8L1145.4,909.1L1145.9,909.3M1168.2,915L1168.4,915L1169.4,915.2L1170.4,915.4L1171.4,915.5L1172.4,915.7L1173.4,915.9L1174.4,916L1175.4,916.2L1176.4,916.3L1177.4,916.4L1178.4,916.6L1179.4,916.7L1180.2,916.8M1202.5,918.1L1203.4,918.1L1204.4,918.1L1205.4,918.2L1206.4,918.2L1207.4,918.2L1208.4,918.2L1209.4,918.2L1210.4,918.3L1211.4,918.3L1212.4,918.3L1213.4,918.3L1214.4,918.4L1214.5,918.4M1236.8,919.1L1237.4,919.2L1238.4,919.2L1239.4,919.2L1240.4,919.2L1241.4,919.3L1242.4,919.3L1243.4,919.3L1244.4,919.4L1245.4,919.4L1246.4,919.4L1247.4,919.5L1248.4,919.5L1248.8,919.5M1271.1,920L1271.4,920L1272.4,920.1L1273.4,920.1L1274.4,920.1L1275.4,920.1L1276.4,920.2L1277.4,920.2L1278.4,920.2L1279.4,920.2L1280.4,920.2L1281.4,920.2L1282.4,920.3L1283.1,920.3M1305.4,920.7L1306.4,920.7L1307.4,920.7L1308.4,920.7L1309.4,920.7L1310.4,920.7L1311.4,920.7L1312.4,920.8L1313.4,920.8L1314.4,920.8L1315.4,920.8L1316.4,920.8L1317.4,920.8M1339.7,921.1L1340.4,921.1L1341.4,921.1L1342.4,921.1L1343.4,921.1L1344.4,921.2L1345.4,921.2L1346.4,921.2L1347.4,921.2L1348.4,921.2L1349.4,921.2L1350.4,921.2L1351.4,921.2L1351.7,921.2M1374,921.5L1374.4,921.5L1375.4,921.5L1376.4,921.5L1377.4,921.5L1378.4,921.5L1379.4,921.5L1380.4,921.5L1381.4,921.5L1382.4,921.5L1383.4,921.6L1384.4,921.6L1385.4,921.6L1386,921.6M1408.3,921.8L1408.4,921.8L1409.4,921.8L1410.4,921.8L1411.4,921.8L1412.4,921.8L1413.4,921.8L1414.4,921.8L1415.4,921.8L1416.4,921.8L1417.4,921.8L1418.4,921.9L1419.4,921.9L1420.3,921.9" fill="none" stroke="#8000FF" stroke-width="4.4" stroke-linecap="round" stroke-linejoin="round"/>
<path d="M276.4,881.5L277.4,881.5L278.4,881.4L279.4,881.4L280.4,881.4L281.4,881.3L282.4,881.3L283.4,881.2L284.4,881.2L285.4,881.1L286.4,881.1L287.4,881.1L288.4,881M310.7,879.8L311.4,879.7L312.4,879.7L313.4,879.6L314.4,879.5L315.4,879.4L316.4,879.3L317.4,879.3L318.4,879.2L319.4,879.1L320.4,879L321.4,878.9L322.4,878.8L322.7,878.8M345,875.7L345.4,875.7L346.4,875.5L347.4,875.3L348.4,875.1L349.4,874.9L350.4,874.7L351.4,874.5L352.4,874.2L353.4,874L354.4,873.8L355.4,873.5L356.4,873.3L357,873.1M379.3,865L379.4,864.9L380.4,864.5L381.4,864L382.4,863.5L383.4,863L384.4,862.5L385.4,862L386.4,861.5L387.4,861L388.4,860.4L389.4,859.9L390.4,859.3L391.3,858.8M413.6,841L414.4,840.1L415.4,839.1L416.4,838L417.4,836.9L418.4,835.8L419.4,834.6L420.4,833.4L421.4,832.3L422.4,831L423.4,829.8L424.1,829M440.7,806.7L441.4,805.8L442.4,804.5L443.4,803.3L444.4,802.1L445.4,800.9L446.4,799.8L447.4,798.7L448.4,797.6L449.4,796.7L450.4,795.7L451.3,794.9M473.4,799.5L474.4,800.7L475.4,801.9L476.4,803.2L477.4,804.6L478.4,806L479.4,807.4L480.4,808.9L481.4,810.3L482.2,811.5M497.1,833.8L497.4,834.2L498.4,835.6L499.4,837L500.4,838.3L501.4,839.6L502.4,840.9L503.4,842.2L504.4,843.4L505.4,844.6L506.4,845.8M528,865.9L528.4,866.2L529.4,866.9L530.4,867.5L531.4,868.2L532.4,868.8L533.4,869.4L534.4,870L535.4,870.5L536.4,871.1L537.4,871.6L538.4,872.1L539.4,872.6L540,872.9M562.3,880.9L562.4,880.9L563.4,881.2L564.4,881.5L565.4,881.7L566.4,882L567.4,882.2L568.4,882.5L569.4,882.7L570.4,882.9L571.4,883.2L572.4,883.4L573.4,883.6L574.3,883.8M596.6,888.1L597.4,888.2L598.4,888.3L599.4,888.5L600.4,888.6L601.4,888.8L602.4,888.9L603.4,889L604.4,889.2L605.4,889.3L606.4,889.4L607.4,889.6L608.4,889.7L608.6,889.7M630.9,892.1L631.4,892.2L632.4,892.3L633.4,892.3L634.4,892.4L635.4,892.5L636.4,892.6L637.4,892.7L638.4,892.8L639.4,892.9L640.4,893L641.4,893L642.4,893.1L642.9,893.2M665.2,894.4L665.4,894.4L666.4,894.4L667.4,894.4L668.4,894.4L669.4,894.5L670.4,894.5L671.4,894.5L672.4,894.6L673.4,894.6L674.4,894.7L675.4,894.7L676.4,894.8L677.2,894.8M699.5,896L700.4,896L701.4,896.1L702.4,896.2L703.4,896.2L704.4,896.3L705.4,896.3L706.4,896.4L707.4,896.4L708.4,896.5L709.4,896.5L710.4,896.6L711.4,896.7L711.5,896.7M733.8,897.8L734.4,897.9L735.4,897.9L736.4,898L737.4,898L738.4,898.1L739.4,898.1L740.4,898.2L741.4,898.2L742.4,898.3L743.4,898.3L744.4,898.4L745.4,898.4L745.8,898.4M768.1,899.6L768.4,899.6L769.4,899.7L770.4,899.7L771.4,899.8L772.4,899.8L773.4,899.9L774.4,899.9L775.4,900L776.4,900L777.4,900.1L778.4,900.1L779.4,900.2L780.1,900.2M802.4,901.4L803.4,901.5L804.4,901.5L805.4,901.6L806.4,901.6L807.4,901.7L808.4,901.7L809.4,901.8L810.4,901.9L811.4,901.9L812.4,902L813.4,902L814.4,902.1L814.4,902.1M836.7,903.5L837.4,903.6L838.4,903.7L839.4,903.7L840.4,903.8L841.4,903.9L842.4,903.9L843.4,904L844.4,904.1L845.4,904.1L846.4,904.2L847.4,904.3L848.4,904.4L848.7,904.4M871,906L871.4,906.1L872.4,906.1L873.4,906.2L874.4,906.3L875.4,906.4L876.4,906.5L877.4,906.5L878.4,906.6L879.4,906.7L880.4,906.8L881.4,906.8L882.4,906.9L883,907M905.3,908.7L905.4,908.7L906.4,908.8L907.4,908.9L908.4,909L909.4,909L910.4,909.1L911.4,909.2L912.4,909.3L913.4,909.4L914.4,909.4L915.4,909.5L916.4,909.6L917.3,909.7M939.6,911.4L940.4,911.5L941.4,911.5L942.4,911.6L943.4,911.7L944.4,911.8L945.4,911.8L946.4,911.9L947.4,912L948.4,912.1L949.4,912.1L950.4,912.2L951.4,912.3L951.6,912.3M973.9,913.9L974.4,913.9L975.4,914L976.4,914L977.4,914.1L978.4,914.2L979.4,914.2L980.4,914.3L981.4,914.4L982.4,914.4L983.4,914.5L984.4,914.5L985.4,914.6L985.9,914.6M1008.2,915.9L1008.4,915.9L1009.4,916L1010.4,916L1011.4,916.1L1012.4,916.1L1013.4,916.2L1014.4,916.2L1015.4,916.3L1016.4,916.3L1017.4,916.4L1018.4,916.4L1019.4,916.5L1020.2,916.5M1042.5,917.4L1043.4,917.4L1044.4,917.5L1045.4,917.5L1046.4,917.5L1047.4,917.6L1048.4,917.6L1049.4,917.6L1050.4,917.6L1051.4,917.7L1052.4,917.7L1053.4,917.7L1054.4,917.7L1054.5,917.7M1076.8,918.2L1077.4,918.2L1078.4,918.2L1079.4,918.2L1080.4,918.3L1081.4,918.3L1082.4,918.3L1083.4,918.3L1084.4,918.3L1085.4,918.4L1086.4,918.4L1087.4,918.4L1088.4,918.4L1088.8,918.4M1111.1,918.8L1111.4,918.8L1112.4,918.8L1113.4,918.8L1114.4,918.9L1115.4,918.9L1116.4,918.9L1117.4,918.9L1118.4,918.9L1119.4,918.9L1120.4,919L1121.4,919L1122.4,919L1123.1,919M1145.4,919.3L1146.4,919.4L1147.4,919.4L1148.4,919.4L1149.4,919.4L1150.4,919.4L1151.4,919.4L1152.4,919.4L1153.4,919.5L1154.4,919.5L1155.4,919.5L1156.4,919.5L1157.4,919.5L1157.4,919.5M1179.7,919.8L1180.4,919.8L1181.4,919.8L1182.4,919.8L1183.4,919.9L1184.4,919.9L1185.4,919.9L1186.4,919.9L1187.4,919.9L1188.4,919.9L1189.4,919.9L1190.4,920L1191.4,920L1191.7,920M1214,920.2L1214.4,920.2L1215.4,920.3L1216.4,920.3L1217.4,920.3L1218.4,920.3L1219.4,920.3L1220.4,920.3L1221.4,920.3L1222.4,920.3L1223.4,920.3L1224.4,920.4L1225.4,920.4L1226,920.4M1248.3,920.6L1248.4,920.6L1249.4,920.6L1250.4,920.6L1251.4,920.6L1252.4,920.7L1253.4,920.7L1254.4,920.7L1255.4,920.7L1256.4,920.7L1257.4,920.7L1258.4,920.7L1259.4,920.7L1260.3,920.7M1282.6,920.9L1283.4,920.9L1284.4,921L1285.4,921L1286.4,921L1287.4,921L1288.4,921L1289.4,921L1290.4,921L1291.4,921L1292.4,921L1293.4,921L1294.4,921L1294.6,921M1316.9,921.2L1317.4,921.2L1318.4,921.3L1319.4,921.3L1320.4,921.3L1321.4,921.3L1322.4,921.3L1323.4,921.3L1324.4,921.3L1325.4,921.3L1326.4,921.3L1327.4,921.3L1328.4,921.3L1328.9,921.3M1351.2,921.5L1351.4,921.5L1352.4,921.5L1353.4,921.5L1354.4,921.5L1355.4,921.5L1356.4,921.5L1357.4,921.6L1358.4,921.6L1359.4,921.6L1360.4,921.6L1361.4,921.6L1362.4,921.6L1363.2,921.6M1385.5,921.8L1386.4,921.8L1387.4,921.8L1388.4,921.8L1389.4,921.8L1390.4,921.8L1391.4,921.8L1392.4,921.8L1393.4,921.8L1394.4,921.8L1395.4,921.8L1396.4,921.8L1397.4,921.8L1397.5,921.8M1419.8,922L1420.4,922L1421.4,922L1422.4,922L1423.4,922L1424.4,922L1425.4,922L1426.4,922L1427.4,922L1428.4,922L1429.4,922L1430.4,922.1L1431.4,922.1L1431.8,922.1" fill="none" stroke="#FF00FF" stroke-width="4.4" stroke-linecap="round" stroke-linejoin="round"/>
<path d="M276.4,883.8L277.4,883.8L278.4,883.8L279.4,883.8L280.4,883.8L281.4,883.8L282.4,883.8L283.4,883.8L284.4,883.8L285.4,883.7L286.4,883.7L287.4,883.7L288.4,883.7M310.7,883.6L311.4,883.6L312.4,883.6L313.4,883.6L314.4,883.6L315.4,883.6L316.4,883.6L317.4,883.5L318.4,883.5L319.4,883.5L320.4,883.5L321.4,883.5L322.4,883.5L322.7,883.5M345,883.4L345.4,883.4L346.4,883.4L347.4,883.4L348.4,883.4L349.4,883.3L350.4,883.3L351.4,883.3L352.4,883.3L353.4,883.3L354.4,883.3L355.4,883.3L356.4,883.3L357,883.3M379.3,883.2L379.4,883.2L380.4,883.1L381.4,883.1L382.4,883.1L383.4,883.1L384.4,883.1L385.4,883.1L386.4,883.1L387.4,883.1L388.4,883.1L389.4,883.1L390.4,883.1L391.3,883.1M413.6,882.9L414.4,882.9L415.4,882.9L416.4,882.9L417.4,882.9L418.4,882.9L419.4,882.9L420.4,882.9L421.4,882.8L422.4,882.8L423.4,882.8L424.4,882.8L425.4,882.8L425.6,882.8M447.9,883L448.4,883L449.4,883L450.4,883.1L451.4,883.1L452.4,883.1L453.4,883.1L454.4,883.2L455.4,883.2L456.4,883.2L457.4,883.2L458.4,883.3L459.4,883.3L459.9,883.3M482.2,884.1L482.4,884.2L483.4,884.2L484.4,884.2L485.4,884.3L486.4,884.3L487.4,884.4L488.4,884.4L489.4,884.5L490.4,884.5L491.4,884.6L492.4,884.6L493.4,884.6L494.2,884.7M516.5,885.6L517.4,885.7L518.4,885.7L519.4,885.7L520.4,885.8L521.4,885.8L522.4,885.8L523.4,885.9L524.4,885.9L525.4,885.9L526.4,886L527.4,886L528.4,886L528.5,886M550.8,886.6L551.4,886.6L552.4,886.6L553.4,886.6L554.4,886.7L555.4,886.7L556.4,886.7L557.4,886.7L558.4,886.7L559.4,886.8L560.4,886.8L561.4,886.8L562.4,886.8L562.8,886.8M585.1,887.2L585.4,887.2L586.4,887.2L587.4,887.2L588.4,887.2L589.4,887.2L590.4,887.3L591.4,887.3L592.4,887.3L593.4,887.3L594.4,887.3L595.4,887.3L596.4,887.3L597.1,887.3M619.4,887.3L620.4,887.3L621.4,887.3L622.4,887.2L623.4,887.2L624.4,887.2L625.4,887.2L626.4,887.2L627.4,887.2L628.4,887.2L629.4,887.2L630.4,887.1L631.4,887.1M653.7,886.8L654.4,886.8L655.4,886.8L656.4,886.8L657.4,886.8L658.4,886.8L659.4,886.8L660.4,886.8L661.4,886.9L662.4,886.9L663.4,886.9L664.4,886.9L665.4,886.9L665.7,886.9M688,886.3L688.4,886.3L689.4,886.3L690.4,886.2L691.4,886.2L692.4,886.1L693.4,886.1L694.4,886L695.4,885.9L696.4,885.9L697.4,885.8L698.4,885.8L699.4,885.7L700,885.7M722.3,883.9L722.4,883.9L723.4,883.8L724.4,883.7L725.4,883.6L726.4,883.5L727.4,883.4L728.4,883.3L729.4,883.2L730.4,883.1L731.4,883L732.4,882.9L733.4,882.8L734.3,882.7M756.6,879.7L757.4,879.6L758.4,879.4L759.4,879.2L760.4,879.1L761.4,878.9L762.4,878.7L763.4,878.6L764.4,878.4L765.4,878.2L766.4,878L767.4,877.9L768.4,877.7L768.6,877.6M790.9,872.4L791.4,872.3L792.4,872L793.4,871.7L794.4,871.4L795.4,871L796.4,870.7L797.4,870.4L798.4,870L799.4,869.7L800.4,869.3L801.4,869L802.4,868.6L802.9,868.4M825.2,857.8L825.4,857.7L826.4,857.2L827.4,856.6L828.4,856L829.4,855.4L830.4,854.9L831.4,854.3L832.4,853.7L833.4,853L834.4,852.4L835.4,851.8L836.4,851.1L837.2,850.6M859.5,832.8L860.4,831.9L861.4,830.9L862.4,829.9L863.4,828.8L864.4,827.7L865.4,826.7L866.4,825.6L867.4,824.4L868.4,823.3L869.4,822.1L870.4,820.9L870.5,820.8M886.7,798.5L887.4,797.4L888.4,795.8L889.4,794.2L890.4,792.5L891.4,790.9L892.4,789.2L893.4,787.5L894,786.5M906.1,764.2L906.4,763.5L907.4,761.6L908.4,759.6L909.4,757.6L910.4,755.5L911.4,753.5L912,752.2M922.5,729.9L923.4,727.9L924.4,725.7L925.4,723.5L926.4,721.3L927.4,719.1L928,717.9M938.2,695.6L938.4,695.1L939.4,693L940.4,690.9L941.4,688.9L942.4,686.8L943.4,684.8L944,683.6M957.3,661.3L957.4,661.2L958.4,659.9L959.4,658.7L960.4,657.6L961.4,656.5L962.4,655.5L963.4,654.6L964.4,653.8L965.4,653.1L966.4,652.5L967.4,651.9L968.4,651.4L968.6,651.3M990.1,662.2L990.4,662.6L991.4,664L992.4,665.5L993.4,667L994.4,668.6L995.4,670.2L996.4,671.9L997.4,673.6L997.7,674.2M1008.9,696.5L1009.4,697.5L1010.4,699.7L1011.4,701.9L1012.4,704.2L1013.4,706.4L1014.3,708.5M1024.1,730.8L1024.4,731.6L1025.4,733.9L1026.4,736.2L1027.4,738.5L1028.4,740.7L1029.3,742.8M1039.4,765.1L1039.4,765.1L1040.4,767.3L1041.4,769.4L1042.4,771.5L1043.4,773.6L1044.4,775.6L1045.1,777.1M1056.7,799.4L1057.4,800.6L1058.4,802.4L1059.4,804.1L1060.4,805.9L1061.4,807.6L1062.4,809.3L1063.4,810.9L1063.7,811.4M1078.8,833.7L1079.4,834.5L1080.4,835.8L1081.4,837.1L1082.4,838.3L1083.4,839.6L1084.4,840.8L1085.4,842L1086.4,843.1L1087.4,844.3L1088.4,845.4L1088.7,845.7M1110.6,866.1L1111.4,866.7L1112.4,867.5L1113.4,868.2L1114.4,868.9L1115.4,869.6L1116.4,870.3L1117.4,871L1118.4,871.7L1119.4,872.3L1120.4,873L1121.4,873.6L1122.4,874.2L1122.6,874.3M1144.9,885.6L1145.4,885.8L1146.4,886.2L1147.4,886.6L1148.4,887L1149.4,887.3L1150.4,887.7L1151.4,888.1L1152.4,888.4L1153.4,888.8L1154.4,889.1L1155.4,889.5L1156.4,889.8L1156.9,890M1179.2,896.3L1179.4,896.3L1180.4,896.6L1181.4,896.8L1182.4,897.1L1183.4,897.3L1184.4,897.5L1185.4,897.8L1186.4,898L1187.4,898.2L1188.4,898.5L1189.4,898.7L1190.4,898.9L1191.2,899.1M1213.5,903.2L1214.4,903.3L1215.4,903.5L1216.4,903.6L1217.4,903.7L1218.4,903.9L1219.4,904L1220.4,904.1L1221.4,904.2L1222.4,904.4L1223.4,904.5L1224.4,904.6L1225.4,904.7L1225.5,904.7M1247.8,907L1248.4,907.1L1249.4,907.1L1250.4,907.2L1251.4,907.3L1252.4,907.4L1253.4,907.5L1254.4,907.6L1255.4,907.7L1256.4,907.8L1257.4,907.9L1258.4,908L1259.4,908.1L1259.8,908.1M1282.1,909.9L1282.4,909.9L1283.4,910L1284.4,910.1L1285.4,910.1L1286.4,910.2L1287.4,910.3L1288.4,910.4L1289.4,910.4L1290.4,910.5L1291.4,910.6L1292.4,910.6L1293.4,910.7L1294.1,910.8M1316.4,912L1316.4,912L1317.4,912L1318.4,912.1L1319.4,912.1L1320.4,912.1L1321.4,912.2L1322.4,912.2L1323.4,912.2L1324.4,912.3L1325.4,912.3L1326.4,912.3L1327.4,912.3L1328.4,912.3M1350.7,913.3L1351.4,913.4L1352.4,913.4L1353.4,913.5L1354.4,913.5L1355.4,913.6L1356.4,913.6L1357.4,913.6L1358.4,913.7L1359.4,913.7L1360.4,913.8L1361.4,913.8L1362.4,913.9L1362.7,913.9M1385,915.1L1385.4,915.1L1386.4,915.2L1387.4,915.2L1388.4,915.2L1389.4,915.3L1390.4,915.3L1391.4,915.4L1392.4,915.4L1393.4,915.4L1394.4,915.5L1395.4,915.5L1396.4,915.5L1397,915.5M1419.3,916.3L1419.4,916.3L1420.4,916.3L1421.4,916.3L1422.4,916.4L1423.4,916.4L1424.4,916.4L1425.4,916.5L1426.4,916.5L1427.4,916.5L1428.4,916.6L1429.4,916.6L1430.4,916.6L1431.3,916.6" fill="none" stroke="#000080" stroke-width="4.4" stroke-linecap="round" stroke-linejoin="round"/>
<polyline points="168,1106.7 171,1110.8 174.1,1110.5 177.1,1105.2 180.1,1106 183.2,1110.2 186.2,1108.7 189.2,1112.3 192.2,1105.7 195.3,1105.5 198.3,1101.9 201.3,1113.5 204.4,1104.8 207.4,1109.7 210.4,1107.2 213.5,1110.8 216.5,1101.3 219.5,1103.7 222.5,1107.6 225.6,1103.7 228.6,1094.2 231.6,1104.9 234.7,1097.2 237.7,1105.7 240.7,1108.7 243.8,1089.1 246.8,1101.7 249.8,1100.6 252.8,1099 255.9,1101.4 258.9,1105.7 261.9,1092.3 265,1098.2 268,1105.4 271,1098.1 274.1,1098.3 277.1,1095.8 280.1,1088.7 283.1,1093.1 286.2,1084.6 289.2,1090.3 292.2,1094.2 295.3,1086.5 298.3,1090.1 301.3,1087.5 304.4,1085.8 307.4,1086.5 310.4,1094.6 313.4,1087.5 316.5,1083.2 319.5,1081.5 322.5,1075.5 325.6,1072.1 328.6,1071.4 331.6,1061.8 334.7,1069.4 337.7,1067.8 340.7,1059.7 343.7,1056.7 346.8,1054.1 349.8,1050.4 352.8,1047.8 355.9,1037.4 358.9,1038.6 361.9,1035.1 365,1030.6 368,1031.5 371,1029.5 374,1027.5 377.1,1021.8 380.1,1015.3 383.1,1023.5 386.2,1017.1 389.2,1016.3 392.2,1019.5 395.3,1011.5 398.3,1012.3 401.3,1019.4 404.3,1017.2 407.4,1016.9 410.4,1025.6 413.4,1023.3 416.5,1022.2 419.5,1030 422.5,1025.8 425.6,1027.8 428.6,1029.7 431.6,1029.4 434.6,1033.7 437.7,1036.4 440.7,1035.1 443.7,1031.5 446.8,1034.7 449.8,1037.7 452.8,1042 455.9,1037.7 458.9,1034.9 461.9,1037.5 464.9,1033.6 468,1034.4 471,1036 474,1039.3 477.1,1035.1 480.1,1036.4 483.1,1034.1 486.2,1025.7 489.2,1027 492.2,1035.6 495.2,1031.5 498.3,1029 501.3,1024.2 504.3,1026.6 507.4,1017.9 510.4,1025.7 513.4,1029.4 516.5,1021.8 519.5,1012.5 522.5,1021.3 525.5,1020.9 528.6,1020.4 531.6,1022.4 534.6,1019.3 537.7,1019.7 540.7,1021.4 543.7,1024.9 546.8,1021.6 549.8,1023.7 552.8,1023.4 555.8,1019.7 558.9,1023.3 561.9,1024.7 564.9,1028.6 568,1027.3 571,1028.2 574,1033.3 577.1,1031.8 580.1,1042.4 583.1,1037.7 586.1,1036.4 589.2,1040.9 592.2,1042 595.2,1038.6 598.3,1044 601.3,1044.9 604.3,1045.5 607.4,1049.7 610.4,1052.7 613.4,1054 616.4,1054.4 619.5,1054.1 622.5,1054.8 625.5,1058.6 628.6,1060.4 631.6,1065.3 634.6,1055.1 637.7,1064.5 640.7,1063.8 643.7,1066.3 646.7,1072.8 649.8,1065.7 652.8,1076.3 655.8,1070 658.9,1074.5 661.9,1071.2 664.9,1076.8 668,1081.6 671,1081.4 674,1083.3 677,1083.5 680.1,1082.2 683.1,1083.8 686.1,1082.9 689.2,1083.4 692.2,1087.8 695.2,1089.4 698.3,1088.1 701.3,1085.6 704.3,1088.7 707.3,1088 710.4,1085.2 713.4,1087.5 716.4,1090.1 719.5,1088.6 722.5,1087.1 725.5,1088 728.6,1088.9 731.6,1086.8 734.6,1092 737.6,1089.4 740.7,1089.4 743.7,1089.1 746.7,1089 749.8,1084.6 752.8,1089.1 755.8,1084.9 758.9,1084.6 761.9,1086 764.9,1079.8 767.9,1083.2 771,1084.8 774,1079.6 777,1076.7 780.1,1083.9 783.1,1077.7 786.1,1075.3 789.2,1074.1 792.2,1076.6 795.2,1072.8 798.2,1071.1 801.3,1068.6 804.3,1067.3 807.3,1061.5 810.4,1059.8 813.4,1061.4 816.4,1058.2 819.5,1050.9 822.5,1042.6 825.5,1050.6 828.5,1043.6 831.6,1044.2 834.6,1041.8 837.6,1027.4 840.7,1024.8 843.7,1028.5 846.7,1021.6 849.8,1018.8 852.8,1012.3 855.8,1006.9 858.8,1001.4 861.9,996.3 864.9,989.2 867.9,991.1 871,985 874,981.8 877,970.5 880.1,968.6 883.1,965.6 886.1,956.3 889.1,951 892.2,942.6 895.2,944 898.2,940.9 901.3,934.4 904.3,935.1 907.3,926 910.4,926.3 913.4,925.3 916.4,921.6 919.4,923.4 922.5,922.5 925.5,919.1 928.5,921.1 931.6,915.1 934.6,925.4 937.6,936.3 940.7,930.1 943.7,934.5 946.7,948.7 949.7,940.1 952.8,947.5 955.8,950.3 958.8,957.3 961.9,962.5 964.9,975.9 967.9,977.1 971,979.9 974,986.4 977,989.7 980,994.7 983.1,1000.6 986.1,1007.1 989.1,1007.3 992.2,1009.1 995.2,1018.2 998.2,1024.2 1001.3,1030 1004.3,1025.7 1007.3,1029.2 1010.3,1036.8 1013.4,1031.4 1016.4,1035.4 1019.4,1036.1 1022.5,1037.8 1025.5,1032.8 1028.5,1039.3 1031.6,1047.3 1034.6,1045.2 1037.6,1050.1 1040.6,1050.5 1043.7,1053.1 1046.7,1051.3 1049.7,1055.3 1052.8,1063.4 1055.8,1058.5 1058.8,1066 1061.9,1063.4 1064.9,1078.6 1067.9,1071.9 1070.9,1076.7 1074,1075 1077,1084.3 1080,1084.7 1083.1,1083.7 1086.1,1085.8 1089.1,1098.1 1092.2,1092.9 1095.2,1096.1 1098.2,1095.7 1101.2,1100.4 1104.3,1106 1107.3,1104.2 1110.3,1102.4 1113.4,1111.6 1116.4,1109.5 1119.4,1111.2 1122.5,1112.5 1125.5,1117.4 1128.5,1119.8 1131.5,1107.1 1134.6,1120.7 1137.6,1125.6 1140.6,1119.2 1143.7,1121.2 1146.7,1115.6 1149.7,1122.9 1152.8,1126.6 1155.8,1122.2 1158.8,1128.2 1161.8,1126.6 1164.9,1125.7 1167.9,1132.1 1170.9,1126.2 1174,1129.4 1177,1130.2 1180,1134 1183.1,1134.2 1186.1,1121.1 1189.1,1125.8 1192.1,1133.1 1195.2,1132.6 1198.2,1132.7 1201.2,1140.9 1204.3,1134.5 1207.3,1142.7 1210.3,1134.6 1213.4,1134 1216.4,1131 1219.4,1133.8 1222.4,1132.5 1225.5,1139.5 1228.5,1131.7 1231.5,1136.1 1234.6,1136.8 1237.6,1138.2 1240.6,1129.2 1243.7,1140.5 1246.7,1133.3 1249.7,1133.1 1252.7,1138.6 1255.8,1134.3 1258.8,1134.9 1261.8,1136.2 1264.9,1137.9 1267.9,1140.3 1270.9,1135.1 1274,1134.6 1277,1146 1280,1137.3 1283,1140.8 1286.1,1138.5 1289.1,1134.3 1292.1,1141.1 1295.2,1136.7 1298.2,1138.3 1301.2,1138.5 1304.3,1139.5 1307.3,1138.9 1310.3,1141.2 1313.3,1138.8 1316.4,1135.6 1319.4,1142.1 1322.4,1141.6 1325.5,1142.6 1328.5,1142.3 1331.5,1140.6 1334.6,1139.8 1337.6,1141.7 1340.6,1142.5 1343.6,1141.1 1346.7,1142.2 1349.7,1138.9 1352.7,1141.3 1355.8,1140.3 1358.8,1138.1 1361.8,1145.3 1364.9,1139.8 1367.9,1143.6 1370.9,1144.4 1373.9,1142.9 1377,1143.3 1380,1138.1 1383,1140.6 1386.1,1137.6 1389.1,1138.6 1392.1,1137.4 1395.2,1141.8 1398.2,1141.7 1401.2,1144.3 1404.2,1142.8 1407.3,1140.5 1410.3,1138.8 1413.3,1141.7 1416.4,1143.4 1419.4,1144.7 1422.4,1143.6 1425.5,1142.5 1428.5,1144.1 1431.5,1141.4 1434.5,1144.1 1437.6,1145.2 1440.6,1145.9 1443.6,1141.9 1446.7,1144.8 1449.7,1145.3 1452.7,1142.6 1455.8,1143.1 1458.8,1142.2 1461.8,1143.5 1464.8,1146.2 1467.9,1141.1 1470.9,1144.5 1473.9,1146.3 1477,1149 1480,1145.6 1483,1142.2 1486.1,1143.9 1489.1,1143.3 1492.1,1138.9 1495.1,1148.1 1498.2,1145.6 1501.2,1144.2 1504.2,1147.9 1507.3,1142.9 1510.3,1151.7 1513.3,1144 1516.4,1144.7 1519.4,1141.2 1522.4,1148.5 1525.4,1143.1 1528.5,1140.4 1531.5,1144.5 1534.5,1147.4 1537.6,1144.2 1540.6,1139 1543.6,1142.7 1546.7,1142.5 1549.7,1139.6 1552.7,1142.1 1555.7,1145.2 1558.8,1147.2 1561.8,1143.2 1564.8,1143.8 1567.9,1144.2 1570.9,1148.3 1573.9,1137.8 1577,1150.5 1580,1147.4 1583,1144.2 1586,1148.5" fill="none" stroke="#000" stroke-width="1.2" stroke-linejoin="miter"/>
<polyline points="167.8,1121.1 169.8,1121.1 171.8,1121.1 173.8,1121.1 175.8,1121.2 177.8,1121.2 179.8,1121.2 181.8,1121.2 183.8,1121.2 185.8,1121.2 187.8,1121.2 189.8,1121.2 191.8,1121.3 193.8,1121.3 195.8,1121.3 197.8,1121.3 199.8,1121.3 201.8,1121.3 203.8,1121.3 205.8,1121.4 207.8,1121.4 209.8,1121.4 211.8,1121.4 213.8,1121.4 215.8,1121.5 217.8,1121.5 219.8,1121.5 221.8,1121.5 223.8,1121.5 225.8,1121.6 227.8,1121.6 229.8,1121.6 231.8,1121.6 233.8,1121.6 235.8,1121.7 237.8,1121.7 239.8,1121.7 241.8,1121.7 243.8,1121.8 245.8,1121.8 247.8,1121.8 249.8,1121.8 251.8,1121.9 253.8,1121.9 255.8,1121.9 257.8,1121.9 259.8,1122 261.8,1122 263.8,1122 265.8,1122 267.8,1122.1 269.8,1122.1 271.8,1122.1 273.8,1122.2 275.8,1122.2 277.8,1122.2 279.8,1122.3 281.8,1122.3 283.8,1122.3 285.8,1122.3 287.8,1122.4 289.8,1122.4 291.8,1122.4 293.8,1122.5 295.8,1122.5 297.8,1122.5 299.8,1122.6 301.8,1122.6 303.8,1122.6 305.8,1122.7 307.8,1122.7 309.8,1122.7 311.8,1122.8 313.8,1122.8 315.8,1122.8 317.8,1122.9 319.8,1122.9 321.8,1122.9 323.8,1123 325.8,1123 327.8,1123.1 329.8,1123.1 331.8,1123.1 333.8,1123.2 335.8,1123.2 337.8,1123.2 339.8,1123.3 341.8,1123.3 343.8,1123.3 345.8,1123.4 347.8,1123.4 349.8,1123.5 351.8,1123.5 353.8,1123.5 355.8,1123.6 357.8,1123.6 359.8,1123.7 361.8,1123.7 363.8,1123.7 365.8,1123.8 367.8,1123.8 369.8,1123.9 371.8,1123.9 373.8,1123.9 375.8,1124 377.8,1124 379.8,1124.1 381.8,1124.1 383.8,1124.1 385.8,1124.2 387.8,1124.2 389.8,1124.3 391.8,1124.3 393.8,1124.3 395.8,1124.4 397.8,1124.4 399.8,1124.5 401.8,1124.5 403.8,1124.5 405.8,1124.6 407.8,1124.6 409.8,1124.7 411.8,1124.7 413.8,1124.8 415.8,1124.8 417.8,1124.8 419.8,1124.9 421.8,1124.9 423.8,1125 425.8,1125 427.8,1125.1 429.8,1125.1 431.8,1125.1 433.8,1125.2 435.8,1125.2 437.8,1125.3 439.8,1125.3 441.8,1125.4 443.8,1125.4 445.8,1125.5 447.8,1125.5 449.8,1125.6 451.8,1125.7 453.8,1125.7 455.8,1125.8 457.8,1125.8 459.8,1125.9 461.8,1126 463.8,1126 465.8,1126.1 467.8,1126.1 469.8,1126.2 471.8,1126.3 473.8,1126.3 475.8,1126.4 477.8,1126.5 479.8,1126.5 481.8,1126.6 483.8,1126.7 485.8,1126.8 487.8,1126.8 489.8,1126.9 491.8,1127 493.8,1127 495.8,1127.1 497.8,1127.2 499.8,1127.3 501.8,1127.3 503.8,1127.4 505.8,1127.5 507.8,1127.5 509.8,1127.6 511.8,1127.7 513.8,1127.7 515.8,1127.8 517.8,1127.9 519.8,1128 521.8,1128 523.8,1128.1 525.8,1128.2 527.8,1128.2 529.8,1128.3 531.8,1128.4 533.8,1128.4 535.8,1128.5 537.8,1128.6 539.8,1128.6 541.8,1128.7 543.8,1128.7 545.8,1128.8 547.8,1128.9 549.8,1128.9 551.8,1129 553.8,1129 555.8,1129.1 557.8,1129.1 559.8,1129.2 561.8,1129.2 563.8,1129.3 565.8,1129.3 567.8,1129.4 569.8,1129.4 571.8,1129.5 573.8,1129.5 575.8,1129.6 577.8,1129.6 579.8,1129.7 581.8,1129.7 583.8,1129.8 585.8,1129.8 587.8,1129.8 589.8,1129.9 591.8,1129.9 593.8,1130 595.8,1130 597.8,1130.1 599.8,1130.1 601.8,1130.1 603.8,1130.2 605.8,1130.2 607.8,1130.3 609.8,1130.3 611.8,1130.3 613.8,1130.4 615.8,1130.4 617.8,1130.4 619.8,1130.5 621.8,1130.5 623.8,1130.6 625.8,1130.6 627.8,1130.6 629.8,1130.7 631.8,1130.7 633.8,1130.8 635.8,1130.8 637.8,1130.8 639.8,1130.9 641.8,1130.9 643.8,1130.9 645.8,1131 647.8,1131 649.8,1131.1 651.8,1131.1 653.8,1131.1 655.8,1131.2 657.8,1131.2 659.8,1131.3 661.8,1131.3 663.8,1131.3 665.8,1131.4 667.8,1131.4 669.8,1131.5 671.8,1131.5 673.8,1131.6 675.8,1131.6 677.8,1131.7 679.8,1131.7 681.8,1131.7 683.8,1131.8 685.8,1131.8 687.8,1131.9 689.8,1131.9 691.8,1132 693.8,1132 695.8,1132.1 697.8,1132.1 699.8,1132.2 701.8,1132.2 703.8,1132.3 705.8,1132.4 707.8,1132.4 709.8,1132.5 711.8,1132.5 713.8,1132.6 715.8,1132.7 717.8,1132.7 719.8,1132.8 721.8,1132.8 723.8,1132.9 725.8,1133 727.8,1133 729.8,1133.1 731.8,1133.2 733.8,1133.2 735.8,1133.3 737.8,1133.4 739.8,1133.5 741.8,1133.5 743.8,1133.6 745.8,1133.7 747.8,1133.7 749.8,1133.8 751.8,1133.9 753.8,1134 755.8,1134.1 757.8,1134.1 759.8,1134.2 761.8,1134.3 763.8,1134.4 765.8,1134.4 767.8,1134.5 769.8,1134.6 771.8,1134.7 773.8,1134.8 775.8,1134.8 777.8,1134.9 779.8,1135 781.8,1135.1 783.8,1135.2 785.8,1135.3 787.8,1135.4 789.8,1135.4 791.8,1135.5 793.8,1135.6 795.8,1135.7 797.8,1135.8 799.8,1135.9 801.8,1136 803.8,1136 805.8,1136.1 807.8,1136.2 809.8,1136.3 811.8,1136.4 813.8,1136.5 815.8,1136.6 817.8,1136.6 819.8,1136.7 821.8,1136.8 823.8,1136.9 825.8,1137 827.8,1137.1 829.8,1137.2 831.8,1137.3 833.8,1137.4 835.8,1137.4 837.8,1137.5 839.8,1137.6 841.8,1137.7 843.8,1137.8 845.8,1137.9 847.8,1138 849.8,1138.1 851.8,1138.1 853.8,1138.2 855.8,1138.3 857.8,1138.4 859.8,1138.5 861.8,1138.6 863.8,1138.7 865.8,1138.7 867.8,1138.8 869.8,1138.9 871.8,1139 873.8,1139.1 875.8,1139.2 877.8,1139.2 879.8,1139.3 881.8,1139.4 883.8,1139.5 885.8,1139.6 887.8,1139.7 889.8,1139.7 891.8,1139.8 893.8,1139.9 895.8,1140 897.8,1140.1 899.8,1140.1 901.8,1140.2 903.8,1140.3 905.8,1140.4 907.8,1140.4 909.8,1140.5 911.8,1140.6 913.8,1140.7 915.8,1140.7 917.8,1140.8 919.8,1140.9 921.8,1140.9 923.8,1141 925.8,1141.1 927.8,1141.1 929.8,1141.2 931.8,1141.3 933.8,1141.3 935.8,1141.4 937.8,1141.5 939.8,1141.5 941.8,1141.6 943.8,1141.7 945.8,1141.7 947.8,1141.8 949.8,1141.8 951.8,1141.9 953.8,1141.9 955.8,1142 957.8,1142 959.8,1142.1 961.8,1142.1 963.8,1142.2 965.8,1142.2 967.8,1142.3 969.8,1142.4 971.8,1142.4 973.8,1142.5 975.8,1142.5 977.8,1142.6 979.8,1142.6 981.8,1142.7 983.8,1142.7 985.8,1142.8 987.8,1142.8 989.8,1142.9 991.8,1142.9 993.8,1143 995.8,1143 997.8,1143.1 999.8,1143.1 1001.8,1143.2 1003.8,1143.2 1005.8,1143.3 1007.8,1143.3 1009.8,1143.4 1011.8,1143.4 1013.8,1143.5 1015.8,1143.5 1017.8,1143.6 1019.8,1143.6 1021.8,1143.7 1023.8,1143.7 1025.8,1143.8 1027.8,1143.8 1029.8,1143.9 1031.8,1143.9 1033.8,1144 1035.8,1144 1037.8,1144.1 1039.8,1144.1 1041.8,1144.2 1043.8,1144.2 1045.8,1144.3 1047.8,1144.3 1049.8,1144.4 1051.8,1144.4 1053.8,1144.5 1055.8,1144.5 1057.8,1144.6 1059.8,1144.6 1061.8,1144.7 1063.8,1144.7 1065.8,1144.8 1067.8,1144.8 1069.8,1144.9 1071.8,1144.9 1073.8,1145 1075.8,1145 1077.8,1145.1 1079.8,1145.1 1081.8,1145.2 1083.8,1145.2 1085.8,1145.2 1087.8,1145.3 1089.8,1145.3 1091.8,1145.4 1093.8,1145.4 1095.8,1145.5 1097.8,1145.5 1099.8,1145.6 1101.8,1145.6 1103.8,1145.6 1105.8,1145.7 1107.8,1145.7 1109.8,1145.8 1111.8,1145.8 1113.8,1145.9 1115.8,1145.9 1117.8,1145.9 1119.8,1146 1121.8,1146 1123.8,1146.1 1125.8,1146.1 1127.8,1146.1 1129.8,1146.2 1131.8,1146.2 1133.8,1146.3 1135.8,1146.3 1137.8,1146.3 1139.8,1146.4 1141.8,1146.4 1143.8,1146.5 1145.8,1146.5 1147.8,1146.5 1149.8,1146.6 1151.8,1146.6 1153.8,1146.6 1155.8,1146.7 1157.8,1146.7 1159.8,1146.7 1161.8,1146.8 1163.8,1146.8 1165.8,1146.8 1167.8,1146.9 1169.8,1146.9 1171.8,1146.9 1173.8,1147 1175.8,1147 1177.8,1147 1179.8,1147 1181.8,1147.1 1183.8,1147.1 1185.8,1147.1 1187.8,1147.2 1189.8,1147.2 1191.8,1147.2 1193.8,1147.2 1195.8,1147.3 1197.8,1147.3 1199.8,1147.3 1201.8,1147.3 1203.8,1147.4 1205.8,1147.4 1207.8,1147.4 1209.8,1147.4 1211.8,1147.5 1213.8,1147.5 1215.8,1147.5 1217.8,1147.5 1219.8,1147.5 1221.8,1147.6 1223.8,1147.6 1225.8,1147.6 1227.8,1147.6 1229.8,1147.6 1231.8,1147.6 1233.8,1147.7 1235.8,1147.7 1237.8,1147.7 1239.8,1147.7 1241.8,1147.7 1243.8,1147.7 1245.8,1147.7 1247.8,1147.7 1249.8,1147.8 1251.8,1147.8 1253.8,1147.8 1255.8,1147.8 1257.8,1147.8 1259.8,1147.8 1261.8,1147.8 1263.8,1147.8 1265.8,1147.8 1267.8,1147.8 1269.8,1147.8 1271.8,1147.8 1273.8,1147.8 1275.8,1147.9 1277.8,1147.9 1279.8,1147.9 1281.8,1147.9 1283.8,1147.9 1285.8,1147.9 1287.8,1147.9 1289.8,1147.9 1291.8,1147.9 1293.8,1147.9 1295.8,1147.9 1297.8,1147.9 1299.8,1147.9 1301.8,1147.9 1303.8,1147.9 1305.8,1147.9 1307.8,1147.9 1309.8,1147.9 1311.8,1147.9 1313.8,1147.9 1315.8,1147.9 1317.8,1147.9 1319.8,1148 1321.8,1148 1323.8,1148 1325.8,1148 1327.8,1148 1329.8,1148 1331.8,1148 1333.8,1148 1335.8,1148 1337.8,1148 1339.8,1148 1341.8,1148 1343.8,1148 1345.8,1148 1347.8,1148 1349.8,1148 1351.8,1148 1353.8,1148 1355.8,1148 1357.8,1148 1359.8,1148 1361.8,1148 1363.8,1148 1365.8,1148 1367.8,1148 1369.8,1148 1371.8,1148 1373.8,1148 1375.8,1148 1377.8,1148.1 1379.8,1148.1 1381.8,1148.1 1383.8,1148.1 1385.8,1148.1 1387.8,1148.1 1389.8,1148.1 1391.8,1148.1 1393.8,1148.1 1395.8,1148.1 1397.8,1148.1 1399.8,1148.1 1400.5,1148.1" fill="none" stroke="#0000FF" stroke-width="1.1"/>
<polyline points="167.8,1110.6 169.8,1110.5 171.8,1110.3 173.8,1110.2 175.8,1110 177.8,1109.8 179.8,1109.6 181.8,1109.4 183.8,1109.2 185.8,1109 187.8,1108.7 189.8,1108.5 191.8,1108.3 193.8,1108.1 195.8,1107.9 197.8,1107.7 199.8,1107.5 201.8,1107.3 203.8,1107.1 205.8,1107 207.8,1106.8 209.8,1106.6 211.8,1106.4 213.8,1106.1 215.8,1105.9 217.8,1105.7 219.8,1105.5 221.8,1105.3 223.8,1105 225.8,1104.8 227.8,1104.5 229.8,1104.3 231.8,1104 233.8,1103.7 235.8,1103.4 237.8,1103.2 239.8,1102.9 241.8,1102.6 243.8,1102.2 245.8,1101.9 247.8,1101.6 249.8,1101.3 251.8,1100.9 253.8,1100.6 255.8,1100.2 257.8,1099.8 259.8,1099.5 261.8,1099.1 263.8,1098.7 265.8,1098.3 267.8,1097.8 269.8,1097.4 271.8,1097 273.8,1096.5 275.8,1096 277.8,1095.5 279.8,1095 281.8,1094.5 283.8,1094 285.8,1093.4 287.8,1092.8 289.8,1092.2 291.8,1091.6 293.8,1090.9 295.8,1090.2 297.8,1089.4 299.8,1088.6 301.8,1087.8 303.8,1086.9 305.8,1086 307.8,1085 309.8,1084 311.8,1082.9 313.8,1081.8 315.8,1080.6 317.8,1079.4 319.8,1078.1 321.8,1076.7 323.8,1075.3 325.8,1073.8 327.8,1072.2 329.8,1070.6 331.8,1068.9 333.8,1067.1 335.8,1065.3 337.8,1063.4 339.8,1061.5 341.8,1059.5 343.8,1057.4 345.8,1055.3 347.8,1053.2 349.8,1051 351.8,1048.8 353.8,1046.5 355.8,1044.2 357.8,1042 359.8,1039.7 361.8,1037.4 363.8,1035.2 365.8,1033 367.8,1030.9 369.8,1028.9 371.8,1026.9 373.8,1025.1 375.8,1023.5 377.8,1021.9 379.8,1020.6 381.8,1019.4 383.8,1018.4 385.8,1017.7 387.8,1017.1 389.8,1016.8 391.8,1016.6 393.8,1016.7 395.8,1016.9 397.8,1017.3 399.8,1017.9 401.8,1018.6 403.8,1019.4 405.8,1020.4 407.8,1021.4 409.8,1022.5 411.8,1023.6 413.8,1024.8 415.8,1025.9 417.8,1027.1 419.8,1028.3 421.8,1029.4 423.8,1030.5 425.8,1031.5 427.8,1032.4 429.8,1033.3 431.8,1034.1 433.8,1034.9 435.8,1035.6 437.8,1036.2 439.8,1036.7 441.8,1037.1 443.8,1037.5 445.8,1037.8 447.8,1038 449.8,1038.1 451.8,1038.2 453.8,1038.2 455.8,1038.2 457.8,1038 459.8,1037.9 461.8,1037.6 463.8,1037.3 465.8,1037 467.8,1036.6 469.8,1036.2 471.8,1035.8 473.8,1035.3 475.8,1034.8 477.8,1034.2 479.8,1033.7 481.8,1033.1 483.8,1032.5 485.8,1031.9 487.8,1031.3 489.8,1030.7 491.8,1030.1 493.8,1029.5 495.8,1028.9 497.8,1028.3 499.8,1027.7 501.8,1027.2 503.8,1026.6 505.8,1026 507.8,1025.5 509.8,1024.9 511.8,1024.4 513.8,1023.9 515.8,1023.4 517.8,1023 519.8,1022.6 521.8,1022.2 523.8,1021.9 525.8,1021.6 527.8,1021.3 529.8,1021.1 531.8,1021 533.8,1020.9 535.8,1020.8 537.8,1020.8 539.8,1020.9 541.8,1021 543.8,1021.2 545.8,1021.4 547.8,1021.7 549.8,1022.1 551.8,1022.5 553.8,1023 555.8,1023.5 557.8,1024.1 559.8,1024.7 561.8,1025.4 563.8,1026.2 565.8,1027 567.8,1027.8 569.8,1028.7 571.8,1029.6 573.8,1030.6 575.8,1031.5 577.8,1032.5 579.8,1033.6 581.8,1034.6 583.8,1035.7 585.8,1036.8 587.8,1037.9 589.8,1038.9 591.8,1040 593.8,1041.1 595.8,1042.2 597.8,1043.3 599.8,1044.4 601.8,1045.6 603.8,1046.7 605.8,1047.8 607.8,1048.9 609.8,1050 611.8,1051.1 613.8,1052.2 615.8,1053.3 617.8,1054.4 619.8,1055.5 621.8,1056.6 623.8,1057.7 625.8,1058.8 627.8,1059.9 629.8,1061 631.8,1062 633.8,1063.1 635.8,1064.1 637.8,1065.1 639.8,1066.1 641.8,1067.1 643.8,1068 645.8,1068.9 647.8,1069.8 649.8,1070.7 651.8,1071.6 653.8,1072.4 655.8,1073.3 657.8,1074.2 659.8,1075 661.8,1075.9 663.8,1076.7 665.8,1077.6 667.8,1078.4 669.8,1079.2 671.8,1080 673.8,1080.7 675.8,1081.4 677.8,1082 679.8,1082.6 681.8,1083.2 683.8,1083.7 685.8,1084.2 687.8,1084.7 689.8,1085.1 691.8,1085.6 693.8,1085.9 695.8,1086.3 697.8,1086.6 699.8,1086.9 701.8,1087.2 703.8,1087.4 705.8,1087.7 707.8,1087.9 709.8,1088 711.8,1088.2 713.8,1088.3 715.8,1088.4 717.8,1088.5 719.8,1088.5 721.8,1088.5 723.8,1088.5 725.8,1088.5 727.8,1088.5 729.8,1088.4 731.8,1088.3 733.8,1088.2 735.8,1088.1 737.8,1087.9 739.8,1087.8 741.8,1087.6 743.8,1087.3 745.8,1087.1 747.8,1086.8 749.8,1086.5 751.8,1086.2 753.8,1085.8 755.8,1085.5 757.8,1085 759.8,1084.6 761.8,1084.1 763.8,1083.6 765.8,1083.1 767.8,1082.5 769.8,1082 771.8,1081.3 773.8,1080.7 775.8,1080 777.8,1079.3 779.8,1078.6 781.8,1077.8 783.8,1077 785.8,1076.2 787.8,1075.3 789.8,1074.4 791.8,1073.4 793.8,1072.4 795.8,1071.4 797.8,1070.3 799.8,1069.2 801.8,1068 803.8,1066.8 805.8,1065.5 807.8,1064.1 809.8,1062.6 811.8,1061.1 813.8,1059.5 815.8,1057.8 817.8,1056 819.8,1054.1 821.8,1052.2 823.8,1050.1 825.8,1048 827.8,1045.8 829.8,1043.5 831.8,1041.1 833.8,1038.7 835.8,1036.2 837.8,1033.6 839.8,1031 841.8,1028.3 843.8,1025.6 845.8,1022.8 847.8,1019.9 849.8,1017 851.8,1014.1 853.8,1011.1 855.8,1008 857.8,1004.9 859.8,1001.7 861.8,998.5 863.8,995.2 865.8,991.9 867.8,988.6 869.8,985.2 871.8,981.8 873.8,978.4 875.8,975 877.8,971.6 879.8,968.2 881.8,964.8 883.8,961.4 885.8,958.1 887.8,954.8 889.8,951.6 891.8,948.5 893.8,945.4 895.8,942.5 897.8,939.6 899.8,936.9 901.8,934.3 903.8,931.9 905.8,929.7 907.8,927.6 909.8,925.8 911.8,924.2 913.8,922.8 915.8,921.7 917.8,920.9 919.8,920.3 921.8,920 923.8,920 925.8,920.3 927.8,920.8 929.8,921.6 931.8,922.7 933.8,924.1 935.8,925.7 937.8,927.6 939.8,929.7 941.8,932 943.8,934.5 945.8,937.2 947.8,940.1 949.8,943.1 951.8,946.2 953.8,949.5 955.8,952.9 957.8,956.3 959.8,959.7 961.8,963.3 963.8,966.8 965.8,970.3 967.8,973.8 969.8,977.3 971.8,980.8 973.8,984.2 975.8,987.5 977.8,990.8 979.8,993.9 981.8,997 983.8,1000 985.8,1002.9 987.8,1005.7 989.8,1008.4 991.8,1011 993.8,1013.5 995.8,1015.9 997.8,1018.2 999.8,1020.4 1001.8,1022.5 1003.8,1024.5 1005.8,1026.4 1007.8,1028.2 1009.8,1030 1011.8,1031.6 1013.8,1033.2 1015.8,1034.7 1017.8,1036.2 1019.8,1037.5 1021.8,1038.8 1023.8,1040.1 1025.8,1041.3 1027.8,1042.5 1029.8,1043.6 1031.8,1044.7 1033.8,1045.8 1035.8,1046.9 1037.8,1048 1039.8,1049.2 1041.8,1050.4 1043.8,1051.7 1045.8,1053 1047.8,1054.4 1049.8,1055.9 1051.8,1057.4 1053.8,1059.1 1055.8,1060.8 1057.8,1062.6 1059.8,1064.5 1061.8,1066.4 1063.8,1068.4 1065.8,1070.4 1067.8,1072.4 1069.8,1074.5 1071.8,1076.5 1073.8,1078.5 1075.8,1080.5 1077.8,1082.5 1079.8,1084.4 1081.8,1086.3 1083.8,1088.1 1085.8,1089.9 1087.8,1091.6 1089.8,1093.2 1091.8,1094.8 1093.8,1096.3 1095.8,1097.8 1097.8,1099.3 1099.8,1100.7 1101.8,1102 1103.8,1103.3 1105.8,1104.6 1107.8,1105.8 1109.8,1107 1111.8,1108.2 1113.8,1109.4 1115.8,1110.5 1117.8,1111.6 1119.8,1112.7 1121.8,1113.7 1123.8,1114.8 1125.8,1115.8 1127.8,1116.7 1129.8,1117.6 1131.8,1118.5 1133.8,1119.3 1135.8,1120 1137.8,1120.8 1139.8,1121.4 1141.8,1122.1 1143.8,1122.7 1145.8,1123.3 1147.8,1123.8 1149.8,1124.4 1151.8,1124.9 1153.8,1125.4 1155.8,1125.9 1157.8,1126.4 1159.8,1126.8 1161.8,1127.3 1163.8,1127.7 1165.8,1128.2 1167.8,1128.6 1169.8,1128.9 1171.8,1129.3 1173.8,1129.7 1175.8,1130 1177.8,1130.3 1179.8,1130.6 1181.8,1130.9 1183.8,1131.2 1185.8,1131.4 1187.8,1131.7 1189.8,1131.9 1191.8,1132.1 1193.8,1132.3 1195.8,1132.5 1197.8,1132.7 1199.8,1132.9 1201.8,1133.1 1203.8,1133.3 1205.8,1133.5 1207.8,1133.6 1209.8,1133.8 1211.8,1134 1213.8,1134.2 1215.8,1134.3 1217.8,1134.5 1219.8,1134.7 1221.8,1134.9 1223.8,1135 1225.8,1135.2 1227.8,1135.3 1229.8,1135.4 1231.8,1135.6 1233.8,1135.7 1235.8,1135.8 1237.8,1135.9 1239.8,1135.9 1241.8,1136 1243.8,1136.1 1245.8,1136.2 1247.8,1136.3 1249.8,1136.4 1251.8,1136.5 1253.8,1136.7 1255.8,1136.8 1257.8,1136.9 1259.8,1137 1261.8,1137.1 1263.8,1137.2 1265.8,1137.3 1267.8,1137.5 1269.8,1137.6 1271.8,1137.7 1273.8,1137.8 1275.8,1137.9 1277.8,1138 1279.8,1138.1 1281.8,1138.2 1283.8,1138.3 1285.8,1138.5 1287.8,1138.6 1289.8,1138.7 1291.8,1138.8 1293.8,1138.9 1295.8,1139 1297.8,1139.1 1299.8,1139.1 1301.8,1139.2 1303.8,1139.3 1305.8,1139.4 1307.8,1139.5 1309.8,1139.6 1311.8,1139.7 1313.8,1139.7 1315.8,1139.8 1317.8,1139.9 1319.8,1140 1321.8,1140 1323.8,1140.1 1325.8,1140.2 1327.8,1140.3 1329.8,1140.3 1331.8,1140.4 1333.8,1140.5 1335.8,1140.5 1337.8,1140.6 1339.8,1140.7 1341.8,1140.7 1343.8,1140.8 1345.8,1140.9 1347.8,1140.9 1349.8,1141 1351.8,1141.1 1353.8,1141.1 1355.8,1141.2 1357.8,1141.2 1359.8,1141.3 1361.8,1141.4 1363.8,1141.4 1365.8,1141.5 1367.8,1141.5 1369.8,1141.6 1371.8,1141.6 1373.8,1141.7 1375.8,1141.7 1377.8,1141.8 1379.8,1141.8 1381.8,1141.9 1383.8,1141.9 1385.8,1142 1387.8,1142 1389.8,1142.1 1391.8,1142.1 1393.8,1142.2 1395.8,1142.2 1397.8,1142.3 1399.8,1142.3 1400.5,1142.4" fill="none" stroke="#000000" stroke-width="6.3" stroke-linecap="round" stroke-linejoin="round"/>
<path d="M167.8,1115.8L168.8,1115.7L169.8,1115.7L170.8,1115.7L171.8,1115.7L172.8,1115.6L173.8,1115.6L174.8,1115.6L175.8,1115.6L176.8,1115.5L177.8,1115.5L178.8,1115.5L179.8,1115.5M202.1,1114.8L202.8,1114.8L203.8,1114.8L204.8,1114.7L205.8,1114.7L206.8,1114.7L207.8,1114.6L208.8,1114.6L209.8,1114.5L210.8,1114.5L211.8,1114.4L212.8,1114.4L213.8,1114.4L214.1,1114.3M236.4,1113.1L236.8,1113.1L237.8,1113L238.8,1112.9L239.8,1112.9L240.8,1112.8L241.8,1112.8L242.8,1112.7L243.8,1112.6L244.8,1112.6L245.8,1112.5L246.8,1112.5L247.8,1112.4L248.4,1112.4M270.7,1110.9L270.8,1110.9L271.8,1110.8L272.8,1110.8L273.8,1110.7L274.8,1110.6L275.8,1110.6L276.8,1110.5L277.8,1110.4L278.8,1110.4L279.8,1110.3L280.8,1110.2L281.8,1110.2L282.7,1110.1M305,1108.3L305.8,1108.2L306.8,1108.1L307.8,1108L308.8,1107.9L309.8,1107.8L310.8,1107.7L311.8,1107.6L312.8,1107.5L313.8,1107.4L314.8,1107.3L315.8,1107.2L316.8,1107.1L317,1107.1M339.3,1104.1L339.8,1104L340.8,1103.8L341.8,1103.7L342.8,1103.5L343.8,1103.4L344.8,1103.2L345.8,1103.1L346.8,1102.9L347.8,1102.8L348.8,1102.6L349.8,1102.4L350.8,1102.3L351.3,1102.2M373.6,1098L373.8,1098L374.8,1097.7L375.8,1097.5L376.8,1097.3L377.8,1097L378.8,1096.8L379.8,1096.6L380.8,1096.3L381.8,1096.1L382.8,1095.8L383.8,1095.5L384.8,1095.3L385.6,1095.1M407.9,1088.1L408.8,1087.8L409.8,1087.4L410.8,1087L411.8,1086.7L412.8,1086.3L413.8,1085.9L414.8,1085.5L415.8,1085.1L416.8,1084.7L417.8,1084.3L418.8,1083.9L419.8,1083.5L419.9,1083.4M442.2,1072.9L442.8,1072.6L443.8,1072.1L444.8,1071.6L445.8,1071.1L446.8,1070.6L447.8,1070.1L448.8,1069.6L449.8,1069L450.8,1068.5L451.8,1068L452.8,1067.5L453.8,1067L454.2,1066.8M476.5,1054.7L476.8,1054.5L477.8,1054L478.8,1053.4L479.8,1052.9L480.8,1052.4L481.8,1051.8L482.8,1051.3L483.8,1050.7L484.8,1050.2L485.8,1049.7L486.8,1049.2L487.8,1048.6L488.5,1048.3M510.8,1038.3L511.8,1037.9L512.8,1037.6L513.8,1037.3L514.8,1036.9L515.8,1036.6L516.8,1036.3L517.8,1036L518.8,1035.7L519.8,1035.5L520.8,1035.2L521.8,1035L522.8,1034.8L522.8,1034.8M545.1,1033.8L545.8,1033.9L546.8,1034.1L547.8,1034.2L548.8,1034.4L549.8,1034.6L550.8,1034.9L551.8,1035.1L552.8,1035.4L553.8,1035.6L554.8,1035.9L555.8,1036.2L556.8,1036.5L557.1,1036.6M579.4,1047L579.8,1047.2L580.8,1047.7L581.8,1048.3L582.8,1048.9L583.8,1049.5L584.8,1050.1L585.8,1050.7L586.8,1051.2L587.8,1051.8L588.8,1052.4L589.8,1053.1L590.8,1053.7L591.4,1054M613.7,1067.8L613.8,1067.9L614.8,1068.5L615.8,1069.1L616.8,1069.7L617.8,1070.3L618.8,1070.9L619.8,1071.6L620.8,1072.2L621.8,1072.8L622.8,1073.4L623.8,1074L624.8,1074.6L625.7,1075.1M648,1087.4L648.8,1087.8L649.8,1088.3L650.8,1088.8L651.8,1089.3L652.8,1089.7L653.8,1090.2L654.8,1090.6L655.8,1091.1L656.8,1091.5L657.8,1092L658.8,1092.4L659.8,1092.8L660,1092.9M682.3,1101.2L682.8,1101.4L683.8,1101.7L684.8,1102L685.8,1102.4L686.8,1102.7L687.8,1103L688.8,1103.3L689.8,1103.6L690.8,1103.9L691.8,1104.2L692.8,1104.5L693.8,1104.8L694.3,1104.9M716.6,1110.6L716.8,1110.6L717.8,1110.9L718.8,1111.1L719.8,1111.3L720.8,1111.5L721.8,1111.8L722.8,1112L723.8,1112.2L724.8,1112.4L725.8,1112.6L726.8,1112.8L727.8,1113L728.6,1113.2M750.9,1117.4L751.8,1117.5L752.8,1117.7L753.8,1117.8L754.8,1118L755.8,1118.2L756.8,1118.3L757.8,1118.5L758.8,1118.6L759.8,1118.8L760.8,1118.9L761.8,1119.1L762.8,1119.2L762.9,1119.3M785.2,1122.2L785.8,1122.3L786.8,1122.4L787.8,1122.5L788.8,1122.6L789.8,1122.7L790.8,1122.8L791.8,1122.9L792.8,1123L793.8,1123.1L794.8,1123.2L795.8,1123.3L796.8,1123.4L797.2,1123.5M819.5,1125.3L819.8,1125.4L820.8,1125.4L821.8,1125.5L822.8,1125.6L823.8,1125.7L824.8,1125.8L825.8,1125.9L826.8,1125.9L827.8,1126L828.8,1126.1L829.8,1126.2L830.8,1126.3L831.5,1126.3M853.8,1128.1L854.8,1128.2L855.8,1128.3L856.8,1128.3L857.8,1128.4L858.8,1128.5L859.8,1128.6L860.8,1128.7L861.8,1128.8L862.8,1128.9L863.8,1128.9L864.8,1129L865.8,1129.1M888.1,1131L888.8,1131.1L889.8,1131.1L890.8,1131.2L891.8,1131.3L892.8,1131.4L893.8,1131.4L894.8,1131.5L895.8,1131.6L896.8,1131.7L897.8,1131.7L898.8,1131.8L899.8,1131.9L900.1,1131.9M922.4,1134.3L922.8,1134.4L923.8,1134.5L924.8,1134.6L925.8,1134.8L926.8,1134.9L927.8,1135L928.8,1135.1L929.8,1135.2L930.8,1135.3L931.8,1135.4L932.8,1135.5L933.8,1135.6L934.4,1135.6M956.7,1137L956.8,1137L957.8,1137.1L958.8,1137.1L959.8,1137.2L960.8,1137.2L961.8,1137.3L962.8,1137.3L963.8,1137.4L964.8,1137.4L965.8,1137.5L966.8,1137.5L967.8,1137.6L968.7,1137.6M991,1138.6L991.8,1138.6L992.8,1138.7L993.8,1138.7L994.8,1138.8L995.8,1138.8L996.8,1138.9L997.8,1138.9L998.8,1138.9L999.8,1139L1000.8,1139L1001.8,1139.1L1002.8,1139.1L1003,1139.1M1025.3,1140L1025.8,1140.1L1026.8,1140.1L1027.8,1140.1L1028.8,1140.2L1029.8,1140.2L1030.8,1140.3L1031.8,1140.3L1032.8,1140.3L1033.8,1140.4L1034.8,1140.4L1035.8,1140.5L1036.8,1140.5L1037.3,1140.5M1059.6,1141.3L1059.8,1141.4L1060.8,1141.4L1061.8,1141.4L1062.8,1141.5L1063.8,1141.5L1064.8,1141.5L1065.8,1141.6L1066.8,1141.6L1067.8,1141.6L1068.8,1141.7L1069.8,1141.7L1070.8,1141.7L1071.6,1141.8M1093.9,1142.5L1094.8,1142.6L1095.8,1142.6L1096.8,1142.6L1097.8,1142.7L1098.8,1142.7L1099.8,1142.7L1100.8,1142.7L1101.8,1142.8L1102.8,1142.8L1103.8,1142.8L1104.8,1142.9L1105.8,1142.9L1105.9,1142.9M1128.2,1143.6L1128.8,1143.6L1129.8,1143.6L1130.8,1143.6L1131.8,1143.7L1132.8,1143.7L1133.8,1143.7L1134.8,1143.8L1135.8,1143.8L1136.8,1143.8L1137.8,1143.8L1138.8,1143.9L1139.8,1143.9L1140.2,1143.9M1162.5,1144.5L1162.8,1144.5L1163.8,1144.5L1164.8,1144.5L1165.8,1144.5L1166.8,1144.6L1167.8,1144.6L1168.8,1144.6L1169.8,1144.6L1170.8,1144.7L1171.8,1144.7L1172.8,1144.7L1173.8,1144.7L1174.5,1144.7M1196.8,1145.2L1197.8,1145.2L1198.8,1145.2L1199.8,1145.3L1200.8,1145.3L1201.8,1145.3L1202.8,1145.3L1203.8,1145.3L1204.8,1145.3L1205.8,1145.4L1206.8,1145.4L1207.8,1145.4L1208.8,1145.4M1231.1,1145.7L1231.8,1145.8L1232.8,1145.8L1233.8,1145.8L1234.8,1145.8L1235.8,1145.8L1236.8,1145.8L1237.8,1145.8L1238.8,1145.8L1239.8,1145.9L1240.8,1145.9L1241.8,1145.9L1242.8,1145.9L1243.1,1145.9M1265.4,1146.1L1265.8,1146.1L1266.8,1146.1L1267.8,1146.1L1268.8,1146.1L1269.8,1146.1L1270.8,1146.1L1271.8,1146.1L1272.8,1146.2L1273.8,1146.2L1274.8,1146.2L1275.8,1146.2L1276.8,1146.2L1277.4,1146.2M1299.7,1146.3L1299.8,1146.3L1300.8,1146.3L1301.8,1146.4L1302.8,1146.4L1303.8,1146.4L1304.8,1146.4L1305.8,1146.4L1306.8,1146.4L1307.8,1146.4L1308.8,1146.4L1309.8,1146.4L1310.8,1146.4L1311.7,1146.4M1334,1146.5L1334.8,1146.5L1335.8,1146.5L1336.8,1146.6L1337.8,1146.6L1338.8,1146.6L1339.8,1146.6L1340.8,1146.6L1341.8,1146.6L1342.8,1146.6L1343.8,1146.6L1344.8,1146.6L1345.8,1146.6L1346,1146.6M1368.3,1146.7L1368.8,1146.7L1369.8,1146.7L1370.8,1146.7L1371.8,1146.7L1372.8,1146.7L1373.8,1146.7L1374.8,1146.7L1375.8,1146.7L1376.8,1146.8L1377.8,1146.8L1378.8,1146.8L1379.8,1146.8L1380.3,1146.8" fill="none" stroke="#008000" stroke-width="4.4" stroke-linecap="round" stroke-linejoin="round"/>
<path d="M167.8,1121.1L168.8,1121.1L169.8,1121.1L170.8,1121.1L171.8,1121.1L172.8,1121.1L173.8,1121.1L174.8,1121.1L175.8,1121.1L176.8,1121.1L177.8,1121.1L178.8,1121.1L179.8,1121.1M202.1,1121.3L202.8,1121.3L203.8,1121.3L204.8,1121.3L205.8,1121.3L206.8,1121.3L207.8,1121.3L208.8,1121.3L209.8,1121.3L210.8,1121.4L211.8,1121.4L212.8,1121.4L213.8,1121.4L214.1,1121.4M236.4,1121.6L236.8,1121.6L237.8,1121.6L238.8,1121.6L239.8,1121.7L240.8,1121.7L241.8,1121.7L242.8,1121.7L243.8,1121.7L244.8,1121.7L245.8,1121.7L246.8,1121.7L247.8,1121.8L248.4,1121.8M270.7,1122.1L270.8,1122.1L271.8,1122.1L272.8,1122.1L273.8,1122.1L274.8,1122.1L275.8,1122.1L276.8,1122.1L277.8,1122.2L278.8,1122.2L279.8,1122.2L280.8,1122.2L281.8,1122.2L282.7,1122.2M305,1122.6L305.8,1122.6L306.8,1122.6L307.8,1122.6L308.8,1122.7L309.8,1122.7L310.8,1122.7L311.8,1122.7L312.8,1122.7L313.8,1122.7L314.8,1122.8L315.8,1122.8L316.8,1122.8L317,1122.8M339.3,1123.2L339.8,1123.2L340.8,1123.2L341.8,1123.2L342.8,1123.3L343.8,1123.3L344.8,1123.3L345.8,1123.3L346.8,1123.3L347.8,1123.4L348.8,1123.4L349.8,1123.4L350.8,1123.4L351.3,1123.4M373.6,1123.9L373.8,1123.9L374.8,1123.9L375.8,1123.9L376.8,1123.9L377.8,1123.9L378.8,1124L379.8,1124L380.8,1124L381.8,1124L382.8,1124L383.8,1124.1L384.8,1124.1L385.6,1124.1M407.9,1124.5L408.8,1124.6L409.8,1124.6L410.8,1124.6L411.8,1124.6L412.8,1124.6L413.8,1124.7L414.8,1124.7L415.8,1124.7L416.8,1124.7L417.8,1124.8L418.8,1124.8L419.8,1124.8L419.9,1124.8M442.2,1125.3L442.8,1125.3L443.8,1125.3L444.8,1125.4L445.8,1125.4L446.8,1125.4L447.8,1125.4L448.8,1125.5L449.8,1125.5L450.8,1125.5L451.8,1125.6L452.8,1125.6L453.8,1125.6L454.2,1125.6M476.5,1126.3L476.8,1126.3L477.8,1126.4L478.8,1126.4L479.8,1126.4L480.8,1126.5L481.8,1126.5L482.8,1126.5L483.8,1126.6L484.8,1126.6L485.8,1126.6L486.8,1126.7L487.8,1126.7L488.5,1126.7M510.8,1127.5L511.8,1127.6L512.8,1127.6L513.8,1127.6L514.8,1127.7L515.8,1127.7L516.8,1127.7L517.8,1127.8L518.8,1127.8L519.8,1127.8L520.8,1127.9L521.8,1127.9L522.8,1127.9L522.8,1127.9M545.1,1128.6L545.8,1128.7L546.8,1128.7L547.8,1128.7L548.8,1128.8L549.8,1128.8L550.8,1128.8L551.8,1128.8L552.8,1128.9L553.8,1128.9L554.8,1128.9L555.8,1128.9L556.8,1129L557.1,1129M579.4,1129.5L579.8,1129.5L580.8,1129.5L581.8,1129.6L582.8,1129.6L583.8,1129.6L584.8,1129.6L585.8,1129.6L586.8,1129.7L587.8,1129.7L588.8,1129.7L589.8,1129.7L590.8,1129.7L591.4,1129.8M613.7,1130.2L613.8,1130.2L614.8,1130.2L615.8,1130.2L616.8,1130.2L617.8,1130.3L618.8,1130.3L619.8,1130.3L620.8,1130.3L621.8,1130.3L622.8,1130.4L623.8,1130.4L624.8,1130.4L625.7,1130.4M648,1130.8L648.8,1130.8L649.8,1130.8L650.8,1130.9L651.8,1130.9L652.8,1130.9L653.8,1130.9L654.8,1130.9L655.8,1131L656.8,1131L657.8,1131L658.8,1131L659.8,1131L660,1131M682.3,1131.5L682.8,1131.5L683.8,1131.5L684.8,1131.6L685.8,1131.6L686.8,1131.6L687.8,1131.6L688.8,1131.6L689.8,1131.7L690.8,1131.7L691.8,1131.7L692.8,1131.7L693.8,1131.8L694.3,1131.8M716.6,1132.4L716.8,1132.4L717.8,1132.4L718.8,1132.4L719.8,1132.5L720.8,1132.5L721.8,1132.5L722.8,1132.6L723.8,1132.6L724.8,1132.6L725.8,1132.6L726.8,1132.7L727.8,1132.7L728.6,1132.7M750.9,1133.5L751.8,1133.5L752.8,1133.5L753.8,1133.6L754.8,1133.6L755.8,1133.7L756.8,1133.7L757.8,1133.7L758.8,1133.8L759.8,1133.8L760.8,1133.8L761.8,1133.9L762.8,1133.9L762.9,1133.9M785.2,1134.8L785.8,1134.8L786.8,1134.8L787.8,1134.9L788.8,1134.9L789.8,1134.9L790.8,1135L791.8,1135L792.8,1135L793.8,1135.1L794.8,1135.1L795.8,1135.2L796.8,1135.2L797.2,1135.2M819.5,1136.1L819.8,1136.1L820.8,1136.1L821.8,1136.2L822.8,1136.2L823.8,1136.3L824.8,1136.3L825.8,1136.3L826.8,1136.4L827.8,1136.4L828.8,1136.4L829.8,1136.5L830.8,1136.5L831.5,1136.5M853.8,1137.4L854.8,1137.4L855.8,1137.4L856.8,1137.5L857.8,1137.5L858.8,1137.5L859.8,1137.6L860.8,1137.6L861.8,1137.6L862.8,1137.7L863.8,1137.7L864.8,1137.7L865.8,1137.8M888.1,1138.4L888.8,1138.4L889.8,1138.5L890.8,1138.5L891.8,1138.5L892.8,1138.5L893.8,1138.6L894.8,1138.6L895.8,1138.6L896.8,1138.6L897.8,1138.6L898.8,1138.7L899.8,1138.7L900.1,1138.7M922.4,1139L922.8,1139L923.8,1139L924.8,1139L925.8,1139L926.8,1139L927.8,1139L928.8,1139L929.8,1139L930.8,1139L931.8,1139L932.8,1138.9L933.8,1138.9L934.4,1138.9M956.7,1137.8L956.8,1137.8L957.8,1137.7L958.8,1137.6L959.8,1137.5L960.8,1137.3L961.8,1137.2L962.8,1137.1L963.8,1136.9L964.8,1136.7L965.8,1136.6L966.8,1136.4L967.8,1136.2L968.7,1136M991,1131.2L991.8,1130.9L992.8,1130.6L993.8,1130.3L994.8,1130L995.8,1129.7L996.8,1129.4L997.8,1129.1L998.8,1128.8L999.8,1128.4L1000.8,1128.1L1001.8,1127.8L1002.8,1127.4L1003,1127.4M1025.3,1118L1025.8,1117.8L1026.8,1117.4L1027.8,1116.9L1028.8,1116.4L1029.8,1116L1030.8,1115.6L1031.8,1115.1L1032.8,1114.7L1033.8,1114.3L1034.8,1113.9L1035.8,1113.5L1036.8,1113.2L1037.3,1113M1059.6,1112.1L1059.8,1112.2L1060.8,1112.5L1061.8,1112.8L1062.8,1113.2L1063.8,1113.6L1064.8,1114L1065.8,1114.4L1066.8,1114.8L1067.8,1115.3L1068.8,1115.7L1069.8,1116.2L1070.8,1116.7L1071.6,1117.1M1093.9,1129L1094.8,1129.5L1095.8,1129.9L1096.8,1130.4L1097.8,1130.9L1098.8,1131.3L1099.8,1131.7L1100.8,1132.2L1101.8,1132.6L1102.8,1133L1103.8,1133.4L1104.8,1133.8L1105.8,1134.1L1105.9,1134.2M1128.2,1140.2L1128.8,1140.3L1129.8,1140.5L1130.8,1140.7L1131.8,1140.8L1132.8,1141L1133.8,1141.2L1134.8,1141.3L1135.8,1141.5L1136.8,1141.6L1137.8,1141.8L1138.8,1141.9L1139.8,1142L1140.2,1142.1M1162.5,1144.2L1162.8,1144.2L1163.8,1144.3L1164.8,1144.3L1165.8,1144.4L1166.8,1144.5L1167.8,1144.5L1168.8,1144.6L1169.8,1144.6L1170.8,1144.7L1171.8,1144.8L1172.8,1144.8L1173.8,1144.9L1174.5,1144.9M1196.8,1145.8L1197.8,1145.8L1198.8,1145.8L1199.8,1145.9L1200.8,1145.9L1201.8,1145.9L1202.8,1146L1203.8,1146L1204.8,1146L1205.8,1146L1206.8,1146.1L1207.8,1146.1L1208.8,1146.1M1231.1,1146.6L1231.8,1146.6L1232.8,1146.7L1233.8,1146.7L1234.8,1146.7L1235.8,1146.7L1236.8,1146.7L1237.8,1146.7L1238.8,1146.8L1239.8,1146.8L1240.8,1146.8L1241.8,1146.8L1242.8,1146.8L1243.1,1146.8M1265.4,1147.1L1265.8,1147.1L1266.8,1147.1L1267.8,1147.1L1268.8,1147.1L1269.8,1147.1L1270.8,1147.1L1271.8,1147.2L1272.8,1147.2L1273.8,1147.2L1274.8,1147.2L1275.8,1147.2L1276.8,1147.2L1277.4,1147.2M1299.7,1147.4L1299.8,1147.4L1300.8,1147.4L1301.8,1147.4L1302.8,1147.4L1303.8,1147.4L1304.8,1147.4L1305.8,1147.4L1306.8,1147.4L1307.8,1147.4L1308.8,1147.4L1309.8,1147.4L1310.8,1147.4L1311.7,1147.4M1334,1147.6L1334.8,1147.6L1335.8,1147.6L1336.8,1147.6L1337.8,1147.6L1338.8,1147.6L1339.8,1147.6L1340.8,1147.6L1341.8,1147.6L1342.8,1147.6L1343.8,1147.6L1344.8,1147.6L1345.8,1147.6L1346,1147.6M1368.3,1147.7L1368.8,1147.7L1369.8,1147.7L1370.8,1147.7L1371.8,1147.7L1372.8,1147.7L1373.8,1147.7L1374.8,1147.7L1375.8,1147.7L1376.8,1147.7L1377.8,1147.7L1378.8,1147.7L1379.8,1147.7L1380.3,1147.7" fill="none" stroke="#8000FF" stroke-width="4.4" stroke-linecap="round" stroke-linejoin="round"/>
<path d="M167.8,1117.9L168.8,1117.9L169.8,1117.8L170.8,1117.8L171.8,1117.8L172.8,1117.8L173.8,1117.7L174.8,1117.7L175.8,1117.7L176.8,1117.7L177.8,1117.6L178.8,1117.6L179.8,1117.6M202.1,1117.1L202.8,1117.1L203.8,1117.1L204.8,1117.1L205.8,1117.1L206.8,1117.1L207.8,1117.1L208.8,1117.1L209.8,1117.1L210.8,1117.1L211.8,1117.1L212.8,1117.1L213.8,1117.1L214.1,1117.2M236.4,1116.3L236.8,1116.3L237.8,1116.3L238.8,1116.2L239.8,1116.1L240.8,1116L241.8,1116L242.8,1115.9L243.8,1115.8L244.8,1115.7L245.8,1115.6L246.8,1115.6L247.8,1115.5L248.4,1115.4M270.7,1112.3L270.8,1112.3L271.8,1112.1L272.8,1111.9L273.8,1111.7L274.8,1111.5L275.8,1111.3L276.8,1111.1L277.8,1110.9L278.8,1110.7L279.8,1110.5L280.8,1110.3L281.8,1110.1L282.7,1109.9M305,1103.5L305.8,1103.2L306.8,1102.9L307.8,1102.4L308.8,1102L309.8,1101.6L310.8,1101.2L311.8,1100.7L312.8,1100.3L313.8,1099.8L314.8,1099.3L315.8,1098.8L316.8,1098.3L317,1098.2M339.3,1083.2L339.8,1082.8L340.8,1082L341.8,1081.2L342.8,1080.3L343.8,1079.5L344.8,1078.6L345.8,1077.7L346.8,1076.8L347.8,1075.9L348.8,1075L349.8,1074.1L350.8,1073.2L351.3,1072.8M373.6,1054L373.8,1053.9L374.8,1053.3L375.8,1052.8L376.8,1052.3L377.8,1051.9L378.8,1051.5L379.8,1051.1L380.8,1050.8L381.8,1050.6L382.8,1050.4L383.8,1050.2L384.8,1050.2L385.6,1050.1M407.9,1062L408.8,1062.8L409.8,1063.8L410.8,1064.7L411.8,1065.7L412.8,1066.7L413.8,1067.6L414.8,1068.6L415.8,1069.6L416.8,1070.6L417.8,1071.6L418.8,1072.6L419.8,1073.6L419.9,1073.7M442.2,1093.1L442.8,1093.5L443.8,1094.3L444.8,1095L445.8,1095.6L446.8,1096.3L447.8,1097L448.8,1097.6L449.8,1098.2L450.8,1098.9L451.8,1099.5L452.8,1100L453.8,1100.6L454.2,1100.9M476.5,1110.8L476.8,1110.9L477.8,1111.2L478.8,1111.5L479.8,1111.9L480.8,1112.2L481.8,1112.5L482.8,1112.8L483.8,1113.1L484.8,1113.3L485.8,1113.6L486.8,1113.9L487.8,1114.1L488.5,1114.3M510.8,1118.9L511.8,1119L512.8,1119.2L513.8,1119.3L514.8,1119.5L515.8,1119.6L516.8,1119.8L517.8,1119.9L518.8,1120.1L519.8,1120.2L520.8,1120.4L521.8,1120.5L522.8,1120.6L522.8,1120.6M545.1,1123.1L545.8,1123.1L546.8,1123.2L547.8,1123.3L548.8,1123.4L549.8,1123.5L550.8,1123.6L551.8,1123.6L552.8,1123.7L553.8,1123.8L554.8,1123.9L555.8,1124L556.8,1124L557.1,1124.1M579.4,1125.6L579.8,1125.6L580.8,1125.7L581.8,1125.7L582.8,1125.8L583.8,1125.9L584.8,1125.9L585.8,1126L586.8,1126L587.8,1126.1L588.8,1126.1L589.8,1126.2L590.8,1126.3L591.4,1126.3M613.7,1127.4L613.8,1127.4L614.8,1127.4L615.8,1127.5L616.8,1127.5L617.8,1127.6L618.8,1127.6L619.8,1127.6L620.8,1127.7L621.8,1127.7L622.8,1127.8L623.8,1127.8L624.8,1127.9L625.7,1127.9M648,1128.7L648.8,1128.8L649.8,1128.8L650.8,1128.9L651.8,1128.9L652.8,1128.9L653.8,1129L654.8,1129L655.8,1129L656.8,1129.1L657.8,1129.1L658.8,1129.1L659.8,1129.2L660,1129.2M682.3,1130L682.8,1130L683.8,1130L684.8,1130.1L685.8,1130.1L686.8,1130.1L687.8,1130.2L688.8,1130.2L689.8,1130.2L690.8,1130.3L691.8,1130.3L692.8,1130.3L693.8,1130.4L694.3,1130.4M716.6,1131.2L716.8,1131.2L717.8,1131.3L718.8,1131.3L719.8,1131.4L720.8,1131.4L721.8,1131.4L722.8,1131.5L723.8,1131.5L724.8,1131.6L725.8,1131.6L726.8,1131.6L727.8,1131.7L728.6,1131.7M750.9,1132.7L751.8,1132.7L752.8,1132.8L753.8,1132.8L754.8,1132.8L755.8,1132.9L756.8,1132.9L757.8,1133L758.8,1133L759.8,1133.1L760.8,1133.1L761.8,1133.2L762.8,1133.2L762.9,1133.2M785.2,1134.2L785.8,1134.3L786.8,1134.3L787.8,1134.4L788.8,1134.4L789.8,1134.5L790.8,1134.5L791.8,1134.6L792.8,1134.6L793.8,1134.6L794.8,1134.7L795.8,1134.7L796.8,1134.8L797.2,1134.8M819.5,1135.9L819.8,1135.9L820.8,1135.9L821.8,1136L822.8,1136L823.8,1136.1L824.8,1136.1L825.8,1136.2L826.8,1136.2L827.8,1136.3L828.8,1136.3L829.8,1136.4L830.8,1136.4L831.5,1136.4M853.8,1137.5L854.8,1137.5L855.8,1137.6L856.8,1137.6L857.8,1137.7L858.8,1137.7L859.8,1137.8L860.8,1137.8L861.8,1137.9L862.8,1137.9L863.8,1138L864.8,1138L865.8,1138M888.1,1139L888.8,1139.1L889.8,1139.1L890.8,1139.1L891.8,1139.2L892.8,1139.2L893.8,1139.3L894.8,1139.3L895.8,1139.4L896.8,1139.4L897.8,1139.4L898.8,1139.5L899.8,1139.5L900.1,1139.5M922.4,1140.4L922.8,1140.4L923.8,1140.5L924.8,1140.5L925.8,1140.5L926.8,1140.6L927.8,1140.6L928.8,1140.6L929.8,1140.7L930.8,1140.7L931.8,1140.7L932.8,1140.8L933.8,1140.8L934.4,1140.8M956.7,1141.5L956.8,1141.5L957.8,1141.6L958.8,1141.6L959.8,1141.6L960.8,1141.6L961.8,1141.7L962.8,1141.7L963.8,1141.7L964.8,1141.7L965.8,1141.8L966.8,1141.8L967.8,1141.8L968.7,1141.8M991,1142.5L991.8,1142.5L992.8,1142.5L993.8,1142.5L994.8,1142.6L995.8,1142.6L996.8,1142.6L997.8,1142.6L998.8,1142.7L999.8,1142.7L1000.8,1142.7L1001.8,1142.8L1002.8,1142.8L1003,1142.8M1025.3,1143.4L1025.8,1143.4L1026.8,1143.4L1027.8,1143.4L1028.8,1143.5L1029.8,1143.5L1030.8,1143.5L1031.8,1143.6L1032.8,1143.6L1033.8,1143.6L1034.8,1143.6L1035.8,1143.7L1036.8,1143.7L1037.3,1143.7M1059.6,1144.3L1059.8,1144.3L1060.8,1144.3L1061.8,1144.3L1062.8,1144.4L1063.8,1144.4L1064.8,1144.4L1065.8,1144.4L1066.8,1144.5L1067.8,1144.5L1068.8,1144.5L1069.8,1144.5L1070.8,1144.6L1071.6,1144.6M1093.9,1145.1L1094.8,1145.1L1095.8,1145.2L1096.8,1145.2L1097.8,1145.2L1098.8,1145.2L1099.8,1145.2L1100.8,1145.3L1101.8,1145.3L1102.8,1145.3L1103.8,1145.3L1104.8,1145.4L1105.8,1145.4L1105.9,1145.4M1128.2,1145.9L1128.8,1145.9L1129.8,1145.9L1130.8,1145.9L1131.8,1145.9L1132.8,1146L1133.8,1146L1134.8,1146L1135.8,1146L1136.8,1146L1137.8,1146.1L1138.8,1146.1L1139.8,1146.1L1140.2,1146.1M1162.5,1146.5L1162.8,1146.5L1163.8,1146.5L1164.8,1146.6L1165.8,1146.6L1166.8,1146.6L1167.8,1146.6L1168.8,1146.6L1169.8,1146.6L1170.8,1146.7L1171.8,1146.7L1172.8,1146.7L1173.8,1146.7L1174.5,1146.7M1196.8,1147L1197.8,1147L1198.8,1147.1L1199.8,1147.1L1200.8,1147.1L1201.8,1147.1L1202.8,1147.1L1203.8,1147.1L1204.8,1147.1L1205.8,1147.1L1206.8,1147.2L1207.8,1147.2L1208.8,1147.2M1231.1,1147.4L1231.8,1147.4L1232.8,1147.4L1233.8,1147.4L1234.8,1147.4L1235.8,1147.4L1236.8,1147.5L1237.8,1147.5L1238.8,1147.5L1239.8,1147.5L1240.8,1147.5L1241.8,1147.5L1242.8,1147.5L1243.1,1147.5M1265.4,1147.6L1265.8,1147.6L1266.8,1147.6L1267.8,1147.6L1268.8,1147.6L1269.8,1147.6L1270.8,1147.6L1271.8,1147.6L1272.8,1147.6L1273.8,1147.6L1274.8,1147.6L1275.8,1147.6L1276.8,1147.6L1277.4,1147.7M1299.7,1147.7L1299.8,1147.7L1300.8,1147.7L1301.8,1147.7L1302.8,1147.7L1303.8,1147.7L1304.8,1147.7L1305.8,1147.7L1306.8,1147.7L1307.8,1147.7L1308.8,1147.7L1309.8,1147.7L1310.8,1147.7L1311.7,1147.7M1334,1147.8L1334.8,1147.8L1335.8,1147.8L1336.8,1147.8L1337.8,1147.8L1338.8,1147.8L1339.8,1147.8L1340.8,1147.8L1341.8,1147.8L1342.8,1147.8L1343.8,1147.8L1344.8,1147.8L1345.8,1147.8L1346,1147.8M1368.3,1147.9L1368.8,1147.9L1369.8,1147.9L1370.8,1147.9L1371.8,1147.9L1372.8,1147.9L1373.8,1147.9L1374.8,1147.9L1375.8,1147.9L1376.8,1147.9L1377.8,1147.9L1378.8,1147.9L1379.8,1147.9L1380.3,1147.9" fill="none" stroke="#FF00FF" stroke-width="4.4" stroke-linecap="round" stroke-linejoin="round"/>
<path d="M167.8,1119.5L168.8,1119.5L169.8,1119.5L170.8,1119.5L171.8,1119.5L172.8,1119.5L173.8,1119.5L174.8,1119.5L175.8,1119.5L176.8,1119.5L177.8,1119.5L178.8,1119.5L179.8,1119.5M202.1,1119.5L202.8,1119.5L203.8,1119.5L204.8,1119.5L205.8,1119.5L206.8,1119.5L207.8,1119.5L208.8,1119.5L209.8,1119.5L210.8,1119.5L211.8,1119.5L212.8,1119.6L213.8,1119.6L214.1,1119.6M236.4,1119.7L236.8,1119.7L237.8,1119.7L238.8,1119.7L239.8,1119.7L240.8,1119.7L241.8,1119.7L242.8,1119.7L243.8,1119.7L244.8,1119.7L245.8,1119.7L246.8,1119.7L247.8,1119.7L248.4,1119.7M270.7,1119.9L270.8,1119.9L271.8,1119.9L272.8,1119.9L273.8,1119.9L274.8,1119.9L275.8,1119.9L276.8,1120L277.8,1120L278.8,1120L279.8,1120L280.8,1120L281.8,1120L282.7,1120M305,1120.2L305.8,1120.2L306.8,1120.2L307.8,1120.2L308.8,1120.2L309.8,1120.2L310.8,1120.2L311.8,1120.3L312.8,1120.3L313.8,1120.3L314.8,1120.3L315.8,1120.3L316.8,1120.3L317,1120.3M339.3,1120.5L339.8,1120.5L340.8,1120.5L341.8,1120.5L342.8,1120.5L343.8,1120.6L344.8,1120.6L345.8,1120.6L346.8,1120.6L347.8,1120.6L348.8,1120.6L349.8,1120.6L350.8,1120.6L351.3,1120.6M373.6,1120.8L373.8,1120.8L374.8,1120.8L375.8,1120.8L376.8,1120.9L377.8,1120.9L378.8,1120.9L379.8,1120.9L380.8,1120.9L381.8,1120.9L382.8,1120.9L383.8,1120.9L384.8,1120.9L385.6,1120.9M407.9,1121.1L408.8,1121.1L409.8,1121.2L410.8,1121.2L411.8,1121.2L412.8,1121.2L413.8,1121.2L414.8,1121.2L415.8,1121.2L416.8,1121.2L417.8,1121.2L418.8,1121.3L419.8,1121.3L419.9,1121.3M442.2,1121.5L442.8,1121.5L443.8,1121.5L444.8,1121.5L445.8,1121.5L446.8,1121.5L447.8,1121.5L448.8,1121.5L449.8,1121.5L450.8,1121.5L451.8,1121.6L452.8,1121.6L453.8,1121.6L454.2,1121.6M476.5,1121.8L476.8,1121.8L477.8,1121.8L478.8,1121.9L479.8,1121.9L480.8,1121.9L481.8,1121.9L482.8,1121.9L483.8,1121.9L484.8,1121.9L485.8,1121.9L486.8,1121.9L487.8,1121.9L488.5,1122M510.8,1122.2L511.8,1122.2L512.8,1122.2L513.8,1122.2L514.8,1122.2L515.8,1122.3L516.8,1122.3L517.8,1122.3L518.8,1122.3L519.8,1122.3L520.8,1122.3L521.8,1122.3L522.8,1122.3L522.8,1122.3M545.1,1122.4L545.8,1122.4L546.8,1122.4L547.8,1122.3L548.8,1122.3L549.8,1122.3L550.8,1122.3L551.8,1122.3L552.8,1122.3L553.8,1122.3L554.8,1122.3L555.8,1122.3L556.8,1122.3L557.1,1122.3M579.4,1122L579.8,1121.9L580.8,1121.9L581.8,1121.9L582.8,1121.9L583.8,1121.9L584.8,1121.8L585.8,1121.8L586.8,1121.8L587.8,1121.8L588.8,1121.7L589.8,1121.7L590.8,1121.7L591.4,1121.7M613.7,1121.1L613.8,1121.1L614.8,1121L615.8,1121L616.8,1121L617.8,1121L618.8,1121L619.8,1120.9L620.8,1120.9L621.8,1120.9L622.8,1120.9L623.8,1120.9L624.8,1120.9L625.7,1120.8M648,1119.8L648.8,1119.8L649.8,1119.7L650.8,1119.7L651.8,1119.6L652.8,1119.5L653.8,1119.5L654.8,1119.4L655.8,1119.3L656.8,1119.3L657.8,1119.2L658.8,1119.1L659.8,1119.1L660,1119M682.3,1117.2L682.8,1117.2L683.8,1117.1L684.8,1117L685.8,1116.9L686.8,1116.8L687.8,1116.7L688.8,1116.6L689.8,1116.4L690.8,1116.3L691.8,1116.2L692.8,1116.1L693.8,1116L694.3,1115.9M716.6,1113L716.8,1112.9L717.8,1112.8L718.8,1112.6L719.8,1112.5L720.8,1112.3L721.8,1112.1L722.8,1112L723.8,1111.8L724.8,1111.6L725.8,1111.4L726.8,1111.3L727.8,1111.1L728.6,1110.9M750.9,1105.9L751.8,1105.6L752.8,1105.3L753.8,1105L754.8,1104.7L755.8,1104.4L756.8,1104.1L757.8,1103.8L758.8,1103.4L759.8,1103.1L760.8,1102.8L761.8,1102.4L762.8,1102.1L762.9,1102M785.2,1091.8L785.8,1091.4L786.8,1090.8L787.8,1090.3L788.8,1089.6L789.8,1089L790.8,1088.4L791.8,1087.7L792.8,1087.1L793.8,1086.4L794.8,1085.7L795.8,1085L796.8,1084.3L797.2,1084M819.5,1064.6L819.8,1064.3L820.8,1063.3L821.8,1062.3L822.8,1061.3L823.8,1060.2L824.8,1059.2L825.8,1058.1L826.8,1057L827.8,1055.9L828.8,1054.8L829.8,1053.7L830.7,1052.6M848.1,1030.3L848.8,1029.3L849.8,1027.9L850.8,1026.4L851.8,1024.9L852.8,1023.4L853.8,1021.9L854.8,1020.3L855.8,1018.7L856.1,1018.3M869.4,996L869.8,995.3L870.8,993.6L871.8,991.8L872.8,990.1L873.8,988.3L874.8,986.5L875.8,984.8L876.2,984M889.1,961.7L889.8,960.6L890.8,959L891.8,957.4L892.8,955.8L893.8,954.3L894.8,952.7L895.8,951.3L896.8,949.8L896.9,949.7M916.8,930.3L916.8,930.3L917.8,929.9L918.8,929.6L919.8,929.4L920.8,929.2L921.8,929.2L922.8,929.1L923.8,929.2L924.8,929.3L925.8,929.5L926.8,929.8L927.8,930.1L928.8,930.5M948.3,950.2L948.8,950.9L949.8,952.5L950.8,954L951.8,955.6L952.8,957.2L953.8,958.9L954.8,960.5L955.8,962.2L955.8,962.2M968.2,984.5L968.8,985.7L969.8,987.6L970.8,989.4L971.8,991.3L972.8,993.1L973.8,995L974.6,996.5M987.1,1018.8L987.8,1020.1L988.8,1021.8L989.8,1023.5L990.8,1025.2L991.8,1026.8L992.8,1028.5L993.8,1030.1L994.3,1030.8M1009.4,1053.1L1009.8,1053.7L1010.8,1055L1011.8,1056.3L1012.8,1057.6L1013.8,1058.8L1014.8,1060.1L1015.8,1061.3L1016.8,1062.5L1017.8,1063.7L1018.8,1064.8L1019.1,1065.1M1040.6,1086.6L1040.8,1086.8L1041.8,1087.7L1042.8,1088.5L1043.8,1089.3L1044.8,1090.2L1045.8,1091L1046.8,1091.8L1047.8,1092.6L1048.8,1093.4L1049.8,1094.1L1050.8,1094.9L1051.8,1095.7L1052.6,1096.3M1074.9,1110.3L1075.8,1110.7L1076.8,1111.2L1077.8,1111.7L1078.8,1112.2L1079.8,1112.7L1080.8,1113.2L1081.8,1113.6L1082.8,1114.1L1083.8,1114.5L1084.8,1115L1085.8,1115.4L1086.8,1115.8L1086.9,1115.8M1109.2,1123.4L1109.8,1123.6L1110.8,1123.8L1111.8,1124.1L1112.8,1124.3L1113.8,1124.6L1114.8,1124.8L1115.8,1125L1116.8,1125.2L1117.8,1125.5L1118.8,1125.7L1119.8,1125.9L1120.8,1126.1L1121.2,1126.2M1143.5,1130L1143.8,1130L1144.8,1130.2L1145.8,1130.3L1146.8,1130.5L1147.8,1130.6L1148.8,1130.8L1149.8,1130.9L1150.8,1131.1L1151.8,1131.2L1152.8,1131.4L1153.8,1131.5L1154.8,1131.6L1155.5,1131.7M1177.8,1134.5L1177.8,1134.5L1178.8,1134.6L1179.8,1134.7L1180.8,1134.8L1181.8,1134.9L1182.8,1135L1183.8,1135.1L1184.8,1135.1L1185.8,1135.2L1186.8,1135.3L1187.8,1135.4L1188.8,1135.5L1189.8,1135.6M1212.1,1137.1L1212.8,1137.2L1213.8,1137.2L1214.8,1137.3L1215.8,1137.4L1216.8,1137.4L1217.8,1137.5L1218.8,1137.5L1219.8,1137.6L1220.8,1137.7L1221.8,1137.7L1222.8,1137.8L1223.8,1137.8L1224.1,1137.8M1246.4,1139L1246.8,1139L1247.8,1139L1248.8,1139.1L1249.8,1139.1L1250.8,1139.2L1251.8,1139.2L1252.8,1139.3L1253.8,1139.3L1254.8,1139.4L1255.8,1139.4L1256.8,1139.5L1257.8,1139.5L1258.4,1139.5M1280.7,1140.7L1280.8,1140.7L1281.8,1140.7L1282.8,1140.8L1283.8,1140.8L1284.8,1140.9L1285.8,1140.9L1286.8,1141L1287.8,1141L1288.8,1141L1289.8,1141.1L1290.8,1141.1L1291.8,1141.2L1292.7,1141.2M1315,1142L1315.8,1142L1316.8,1142L1317.8,1142.1L1318.8,1142.1L1319.8,1142.1L1320.8,1142.1L1321.8,1142.2L1322.8,1142.2L1323.8,1142.2L1324.8,1142.3L1325.8,1142.3L1326.8,1142.3L1327,1142.3M1349.3,1142.9L1349.8,1142.9L1350.8,1143L1351.8,1143L1352.8,1143L1353.8,1143L1354.8,1143.1L1355.8,1143.1L1356.8,1143.1L1357.8,1143.1L1358.8,1143.2L1359.8,1143.2L1360.8,1143.2L1361.3,1143.2M1383.6,1143.7L1383.8,1143.7L1384.8,1143.7L1385.8,1143.7L1386.8,1143.8L1387.8,1143.8L1388.8,1143.8L1389.8,1143.8L1390.8,1143.8L1391.8,1143.9L1392.8,1143.9L1393.8,1143.9L1394.8,1143.9L1395.6,1143.9" fill="none" stroke="#000080" stroke-width="4.4" stroke-linecap="round" stroke-linejoin="round"/>
<path d="M959.5,74.4L959.1,79.1M956.6,103.8L955.5,114.6M953.1,138.2L952.0,149.0M949.7,172.5L948.6,183.3M946.2,206.9L945.1,217.7M942.8,241.2L941.7,252.0M939.3,275.6L938.2,286.4M935.9,310.0L934.8,320.8M932.4,344.3L931.3,355.1M929.0,378.7L927.9,389.5M1096.9,197.4L1094.9,207.5M1090.1,231.7L1088.1,241.8M1083.3,265.9L1081.3,276.0M1076.5,300.2L1074.5,310.3M1069.7,334.4L1067.7,344.5M1062.9,368.7L1060.9,378.8M1056.0,403.0L1054.0,413.1M1049.2,437.2L1047.2,447.3M965.5,649.6L963.9,660.3M960.2,683.9L958.5,694.6M954.9,718.2L953.2,728.9M949.5,752.5L947.9,763.2M944.2,786.8L942.5,797.5M938.9,821.2L937.2,831.9M933.5,855.5L931.9,866.2M928.2,889.8L926.5,900.5M922.9,924.1L921.2,934.8M1121.1,876.4L1119.1,886.3M1114.3,910.7L1112.4,920.6M1107.6,944.9L1105.6,954.8M1100.8,979.2L1098.9,989.1M1094.1,1013.4L1092.1,1023.3M1087.3,1047.7L1085.4,1057.6M1080.6,1082.0L1078.6,1091.9M1073.8,1116.2L1071.9,1126.1" stroke="#000" stroke-width="4.5" stroke-linecap="round" fill="none"/>
<text x="137.4" y="1254.8" font-size="57.5" text-anchor="middle" font-family="'Liberation Serif', 'Times New Roman', serif">948</text>
<text x="319" y="1254.8" font-size="57.5" text-anchor="middle" font-family="'Liberation Serif', 'Times New Roman', serif">945</text>
<text x="500.6" y="1254.8" font-size="57.5" text-anchor="middle" font-family="'Liberation Serif', 'Times New Roman', serif">942</text>
<text x="682.3" y="1254.8" font-size="57.5" text-anchor="middle" font-family="'Liberation Serif', 'Times New Roman', serif">939</text>
<text x="863.9" y="1254.8" font-size="57.5" text-anchor="middle" font-family="'Liberation Serif', 'Times New Roman', serif">936</text>
<text x="1045.5" y="1254.8" font-size="57.5" text-anchor="middle" font-family="'Liberation Serif', 'Times New Roman', serif">933</text>
<text x="1227.1" y="1254.8" font-size="57.5" text-anchor="middle" font-family="'Liberation Serif', 'Times New Roman', serif">930</text>
<text x="1408.7" y="1254.8" font-size="57.5" text-anchor="middle" font-family="'Liberation Serif', 'Times New Roman', serif">927</text>
<text x="1590.4" y="1254.8" font-size="57.5" text-anchor="middle" font-family="'Liberation Serif', 'Times New Roman', serif">924</text>
<text x="886" y="1348" font-size="66" text-anchor="middle" font-family="'Liberation Serif', 'Times New Roman', serif">B.E (eV)</text>
<text transform="translate(62.1,609.3) rotate(-90)" x="0" y="0" font-size="67" text-anchor="middle" font-family="'Liberation Serif', 'Times New Roman', serif">Intensity/a.u.</text>
<text x="163" y="110.8" font-size="74" font-weight="bold" font-family="'Liberation Serif', 'Times New Roman', serif">Cu 2p</text>
<text x="811.8" y="80.2" font-size="52.5" fill="#0000FF" font-family="'Liberation Serif', 'Times New Roman', serif">934.6</text>
<text x="1102.4" y="180.2" font-size="52.5" fill="#0000FF" font-family="'Liberation Serif', 'Times New Roman', serif">932.5</text>
<text x="779.0" y="408.6" font-size="52.5" fill="#0000FF" font-family="'Liberation Serif', 'Times New Roman', serif">935.0</text>
<text x="1103.1000000000001" y="422.9" font-size="52.5" fill="#0000FF" font-family="'Liberation Serif', 'Times New Roman', serif">933.3</text>
<text x="808.5" y="675.3" font-size="52.5" fill="#0000FF" font-family="'Liberation Serif', 'Times New Roman', serif">934.6</text>
<text x="1006.6" y="664" font-size="52.5" fill="#0000FF" font-family="'Liberation Serif', 'Times New Roman', serif">934.6</text>
<text x="1126.6000000000001" y="832.3" font-size="52.5" fill="#0000FF" font-family="'Liberation Serif', 'Times New Roman', serif">932.2</text>
<text x="771.1" y="970.8" font-size="52.5" fill="#0000FF" font-family="'Liberation Serif', 'Times New Roman', serif">935.1</text>
<text x="1120.9" y="1085.5" font-size="52.5" fill="#0000FF" font-family="'Liberation Serif', 'Times New Roman', serif">932.9</text>
<text x="1275" y="257.5" font-size="66" font-family="'Liberation Serif', 'Times New Roman', serif">K-Cu/SiO<tspan font-size="42">2</tspan></text>
<text x="1336.5" y="511.2" font-size="66" font-family="'Liberation Serif', 'Times New Roman', serif">Cu/SiO<tspan font-size="42">2</tspan></text>
<text x="1254" y="880.3" font-size="66" font-family="'Liberation Serif', 'Times New Roman', serif">K-Cu/Al<tspan font-size="42">2</tspan>O<tspan font-size="42">3</tspan></text>
<text x="1325.4" y="1108.2" font-size="66" font-family="'Liberation Serif', 'Times New Roman', serif">Cu/Al<tspan font-size="42">2</tspan>O<tspan font-size="42">3</tspan></text>
</svg>
</body></html>
